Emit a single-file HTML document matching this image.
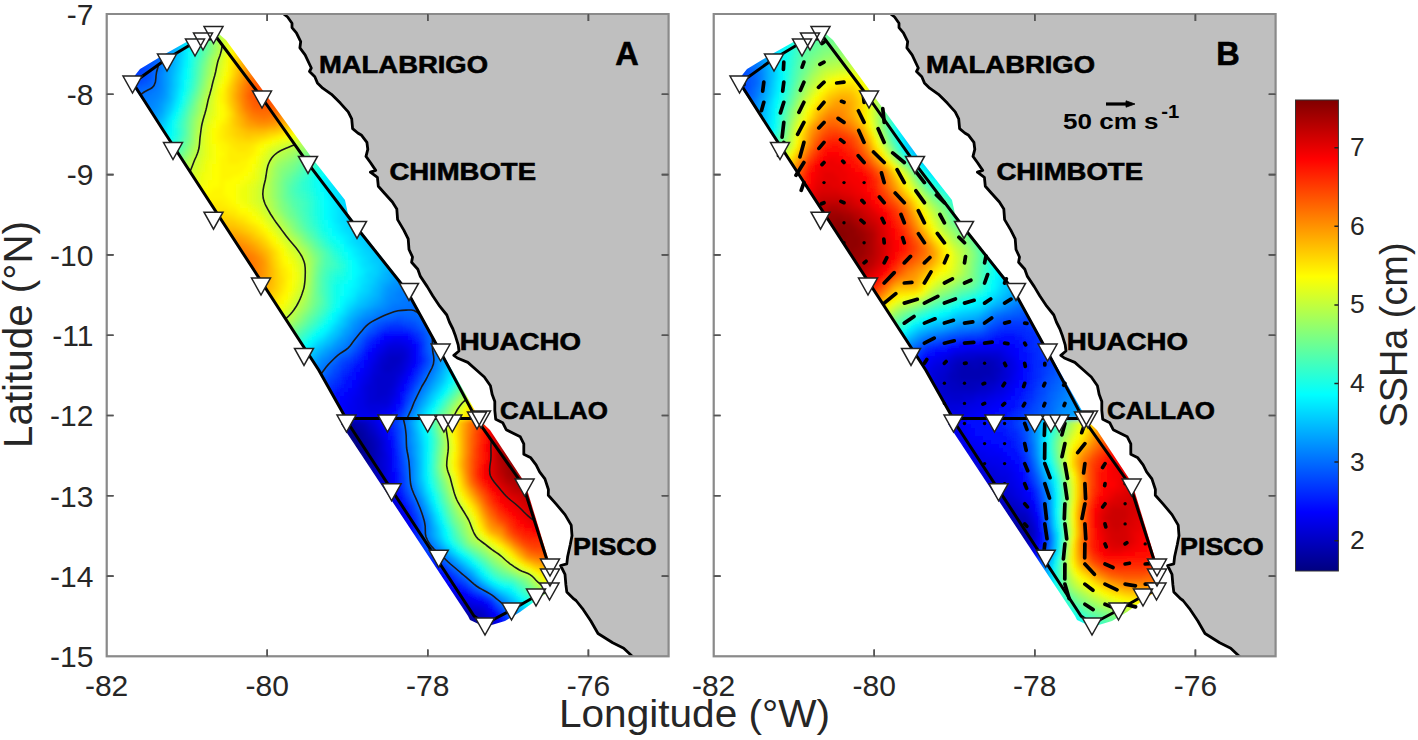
<!DOCTYPE html><html><head><meta charset="utf-8"><style>html,body{margin:0;padding:0;background:#fff;overflow:hidden}svg{display:block}</style></head><body>
<svg width="1418" height="740" viewBox="0 0 1418 740">
<rect width="1418" height="740" fill="#fff"/>
<defs><filter id="blur" x="-5%" y="-5%" width="110%" height="110%"><feGaussianBlur stdDeviation="2.2"/></filter><clipPath id="axclip"><rect x="106.6" y="14.0" width="562.1" height="642.4"/></clipPath></defs>
<g clip-path="url(#axclip)"><polygon points="282.3,13.0 287.6,17.0 292.0,23.2 292.0,27.6 296.4,32.8 300.7,41.6 299.9,47.8 305.1,54.8 311.3,68.0 309.5,71.5 314.8,76.8 317.4,82.9 322.7,88.2 331.5,94.3 340.3,103.1 348.2,111.9 351.7,118.9 352.6,128.6 357.8,133.0 361.6,135.3 366.9,142.3 367.8,149.3 366.0,156.4 370.4,162.5 375.7,170.4 370.4,172.2 377.4,177.4 378.3,186.2 384.5,193.2 392.4,202.0 396.8,209.0 397.6,219.6 403.8,230.1 408.2,238.9 409.0,249.5 412.5,257.0 411.6,262.3 417.8,269.3 420.4,276.4 427.4,286.9 432.7,295.7 439.7,306.2 446.8,315.0 449.4,322.0 452.9,329.0 455.5,336.1 458.2,344.9 459.0,351.0 453.8,355.4 457.3,358.0 467.8,362.4 476.4,370.0 484.3,377.0 490.4,385.8 492.2,394.6 494.8,401.6 494.8,410.4 495.7,419.2 502.7,422.7 506.2,429.7 513.2,433.2 520.3,436.8 523.8,443.8 523.8,454.3 530.8,457.8 536.1,464.9 539.6,471.9 544.9,478.9 548.4,489.5 548.3,495.3 556.2,504.1 565.0,514.6 571.2,525.1 572.0,535.7 570.3,544.5 567.6,556.8 566.8,563.8 560.6,565.5 565.0,574.3 565.9,584.9 566.8,591.9 573.8,598.9 576.0,600.5 583.3,609.7 590.7,620.7 598.0,633.5 612.7,642.7 623.7,648.2 633.0,657.0 668.7,657.0 668.7,13.0" fill="#bfbfbf"/>
<clipPath id="dclip"><polygon points="128.0,84.0 140.0,69.0 165.0,54.0 190.0,40.0 203.0,36.0 219.0,34.0 226.0,40.0 264.0,92.0 312.0,158.0 345.0,200.0 348.0,214.0 357.0,226.0 407.0,289.0 440.0,349.0 478.0,416.0 478.0,418.4 346.0,418.4 318.7,370.0 163.0,130.0 133.0,86.0"/><polygon points="346.0,418.4 478.0,418.4 490.0,430.0 525.0,483.0 548.0,558.0 552.0,566.0 551.0,590.0 538.0,599.0 520.0,612.0 505.0,621.0 485.0,627.0 470.0,620.0 468.0,616.0 341.0,424.0"/></clipPath>
<g clip-path="url(#dclip)"><g filter="url(#blur)"><path fill="#000080" d="M336 420h8v4h-8zM336 424h8v4h-8zM340 428h8v4h-8zM344 432h4v4h-4zM344 436h8v4h-8zM348 440h8v4h-8zM352 444h4v4h-4zM352 448h8v4h-8zM356 452h4v4h-4z"/>
<path fill="#000088" d="M344 424h4v4h-4zM348 432h4v4h-4zM352 436h4v4h-4zM356 444h4v4h-4zM360 452h4v4h-4zM360 456h4v4h-4zM360 460h4v4h-4zM464 620h4v4h-4zM472 624h4v4h-4z"/>
<path fill="#000091" d="M344 420h4v4h-4zM348 424h4v4h-4zM348 428h4v4h-4zM352 432h4v4h-4zM356 436h4v4h-4zM356 440h4v4h-4zM360 444h4v4h-4zM360 448h4v4h-4zM364 460h4v4h-4zM364 464h4v4h-4zM468 620h4v4h-4zM480 628h4v4h-4z"/>
<path fill="#000099" d="M348 420h4v4h-4zM352 428h4v4h-4zM356 432h4v4h-4zM360 440h4v4h-4zM364 448h4v4h-4zM364 452h4v4h-4zM364 456h4v4h-4zM368 472h4v4h-4zM464 616h4v4h-4zM472 620h4v4h-4zM476 624h4v4h-4z"/>
<path fill="#0000a2" d="M352 424h4v4h-4zM356 428h4v4h-4zM360 432h4v4h-4zM360 436h4v4h-4zM364 440h4v4h-4zM364 444h4v4h-4zM368 456h4v4h-4zM368 460h4v4h-4zM368 464h4v4h-4zM368 468h4v4h-4zM372 480h4v4h-4zM460 612h4v4h-4zM468 616h4v4h-4zM476 620h4v4h-4zM480 624h4v4h-4zM484 628h4v4h-4z"/>
<path fill="#0000aa" d="M352 420h4v4h-4zM356 424h4v4h-4zM360 428h4v4h-4zM364 432h4v4h-4zM364 436h4v4h-4zM368 440h4v4h-4zM368 444h4v4h-4zM368 448h4v4h-4zM368 452h4v4h-4zM372 472h4v4h-4zM372 476h4v4h-4zM376 484h4v4h-4zM380 492h4v4h-4zM464 612h4v4h-4zM472 616h4v4h-4zM480 620h4v4h-4zM484 624h4v4h-4z"/>
<path fill="#0000b3" d="M356 420h4v4h-4zM360 424h4v4h-4zM364 428h4v4h-4zM368 436h4v4h-4zM372 444h4v4h-4zM372 448h4v4h-4zM372 452h4v4h-4zM372 456h4v4h-4zM372 460h4v4h-4zM372 464h4v4h-4zM372 468h4v4h-4zM376 480h4v4h-4zM380 488h4v4h-4zM384 496h4v4h-4zM388 504h4v4h-4zM460 608h4v4h-4zM468 612h4v4h-4zM476 616h4v4h-4zM488 628h4v4h-4z"/>
<path fill="#0000bb" d="M360 420h4v4h-4zM364 424h4v4h-4zM368 432h4v4h-4zM372 436h4v4h-4zM372 440h4v4h-4zM376 472h4v4h-4zM376 476h4v4h-4zM380 484h4v4h-4zM392 508h4v4h-4zM396 516h4v4h-4zM452 600h4v4h-4zM456 604h4v4h-4zM464 608h4v4h-4zM472 612h4v4h-4zM480 616h4v4h-4zM484 620h4v4h-4zM488 624h4v4h-4z"/>
<path fill="#0000c3" d="M388 356h12v4h-12zM388 360h12v4h-12zM384 364h12v4h-12zM384 368h8v4h-8zM364 420h4v4h-4zM368 428h4v4h-4zM372 432h4v4h-4zM376 440h4v4h-4zM376 444h4v4h-4zM376 448h4v4h-4zM376 452h4v4h-4zM376 456h4v4h-4zM376 460h4v4h-4zM376 464h4v4h-4zM376 468h4v4h-4zM380 480h4v4h-4zM384 492h4v4h-4zM388 500h4v4h-4zM460 604h4v4h-4zM468 608h4v4h-4zM476 612h8v4h-8zM484 616h4v4h-4z"/>
<path fill="#0000cc" d="M388 352h16v4h-16zM384 356h4v4h-4zM400 356h4v4h-4zM380 360h8v4h-8zM400 360h4v4h-4zM380 364h4v4h-4zM396 364h4v4h-4zM380 368h4v4h-4zM392 368h8v4h-8zM380 372h16v4h-16zM376 376h20v4h-20zM376 380h16v4h-16zM376 384h16v4h-16zM376 388h12v4h-12zM376 392h12v4h-12zM376 396h4v4h-4zM368 424h4v4h-4zM372 428h4v4h-4zM376 436h4v4h-4zM380 452h4v4h-4zM380 468h4v4h-4zM380 472h4v4h-4zM380 476h4v4h-4zM384 484h4v4h-4zM384 488h4v4h-4zM388 496h4v4h-4zM392 504h4v4h-4zM396 512h4v4h-4zM400 520h4v4h-4zM452 596h4v4h-4zM456 600h4v4h-4zM464 604h4v4h-4zM472 608h8v4h-8zM488 620h4v4h-4zM492 624h4v4h-4z"/>
<path fill="#0000d4" d="M388 348h16v4h-16zM384 352h4v4h-4zM404 352h4v4h-4zM380 356h4v4h-4zM404 356h4v4h-4zM376 364h4v4h-4zM400 364h4v4h-4zM376 368h4v4h-4zM400 368h4v4h-4zM372 372h8v4h-8zM396 372h4v4h-4zM372 376h4v4h-4zM372 380h4v4h-4zM392 380h4v4h-4zM368 384h8v4h-8zM392 384h4v4h-4zM368 388h8v4h-8zM388 388h4v4h-4zM368 392h8v4h-8zM388 392h4v4h-4zM368 396h8v4h-8zM380 396h8v4h-8zM368 400h20v4h-20zM368 420h4v4h-4zM372 424h4v4h-4zM376 432h4v4h-4zM380 440h4v4h-4zM380 444h4v4h-4zM380 448h4v4h-4zM380 456h4v4h-4zM380 460h4v4h-4zM380 464h4v4h-4zM384 480h4v4h-4zM388 492h4v4h-4zM392 500h4v4h-4zM396 508h4v4h-4zM400 516h4v4h-4zM404 528h4v4h-4zM448 592h4v4h-4zM460 600h4v4h-4zM468 604h4v4h-4zM480 608h4v4h-4zM484 612h4v4h-4zM488 616h4v4h-4z"/>
<path fill="#0000dd" d="M388 344h16v4h-16zM384 348h4v4h-4zM404 348h4v4h-4zM380 352h4v4h-4zM376 356h4v4h-4zM376 360h4v4h-4zM404 360h4v4h-4zM372 364h4v4h-4zM404 364h4v4h-4zM372 368h4v4h-4zM400 372h4v4h-4zM368 376h4v4h-4zM396 376h4v4h-4zM368 380h4v4h-4zM396 380h4v4h-4zM364 384h4v4h-4zM364 388h4v4h-4zM392 388h4v4h-4zM364 392h4v4h-4zM392 392h4v4h-4zM364 396h4v4h-4zM388 396h4v4h-4zM364 400h4v4h-4zM388 400h4v4h-4zM364 404h24v4h-24zM368 408h12v4h-12zM372 420h4v4h-4zM376 428h4v4h-4zM380 436h4v4h-4zM384 452h4v4h-4zM384 456h4v4h-4zM384 460h4v4h-4zM384 464h4v4h-4zM384 468h4v4h-4zM384 472h4v4h-4zM384 476h4v4h-4zM388 488h4v4h-4zM392 496h4v4h-4zM396 504h4v4h-4zM400 512h4v4h-4zM404 524h4v4h-4zM444 588h4v4h-4zM456 596h4v4h-4zM464 600h4v4h-4zM472 604h8v4h-8zM484 608h4v4h-4zM492 620h4v4h-4z"/>
<path fill="#0000e6" d="M392 340h8v4h-8zM384 344h4v4h-4zM404 344h4v4h-4zM380 348h4v4h-4zM408 348h4v4h-4zM376 352h4v4h-4zM408 352h4v4h-4zM408 356h4v4h-4zM372 360h4v4h-4zM408 360h4v4h-4zM368 368h4v4h-4zM404 368h4v4h-4zM368 372h4v4h-4zM364 376h4v4h-4zM400 376h4v4h-4zM364 380h4v4h-4zM360 384h4v4h-4zM396 384h4v4h-4zM360 388h4v4h-4zM360 392h4v4h-4zM356 396h8v4h-8zM392 396h4v4h-4zM356 400h8v4h-8zM356 404h8v4h-8zM388 404h4v4h-4zM356 408h12v4h-12zM380 408h8v4h-8zM360 412h20v4h-20zM376 424h4v4h-4zM380 432h4v4h-4zM384 440h4v4h-4zM384 444h4v4h-4zM384 448h4v4h-4zM388 480h4v4h-4zM388 484h4v4h-4zM404 520h4v4h-4zM408 532h4v4h-4zM436 576h4v4h-4zM448 588h4v4h-4zM452 592h4v4h-4zM460 596h4v4h-4zM468 600h4v4h-4zM480 604h4v4h-4zM488 612h4v4h-4zM496 624h4v4h-4z"/>
<path fill="#0000ee" d="M384 340h8v4h-8zM400 340h8v4h-8zM380 344h4v4h-4zM408 344h4v4h-4zM376 348h4v4h-4zM372 352h4v4h-4zM372 356h4v4h-4zM368 360h4v4h-4zM368 364h4v4h-4zM408 364h4v4h-4zM364 368h4v4h-4zM364 372h4v4h-4zM404 372h4v4h-4zM360 376h4v4h-4zM360 380h4v4h-4zM400 380h4v4h-4zM356 388h4v4h-4zM396 388h4v4h-4zM356 392h4v4h-4zM396 392h4v4h-4zM352 396h4v4h-4zM352 400h4v4h-4zM392 400h4v4h-4zM348 404h8v4h-8zM348 408h8v4h-8zM348 412h12v4h-12zM380 412h4v4h-4zM352 416h24v4h-24zM376 420h4v4h-4zM380 428h4v4h-4zM384 436h4v4h-4zM388 456h4v4h-4zM388 460h4v4h-4zM388 464h4v4h-4zM388 468h4v4h-4zM388 472h4v4h-4zM388 476h4v4h-4zM392 492h4v4h-4zM396 500h4v4h-4zM400 508h4v4h-4zM404 516h4v4h-4zM408 528h4v4h-4zM436 572h4v4h-4zM440 580h4v4h-4zM444 584h4v4h-4zM456 592h4v4h-4zM464 596h4v4h-4zM472 600h4v4h-4zM484 604h4v4h-4zM492 616h4v4h-4zM496 620h4v4h-4z"/>
<path fill="#0000f6" d="M392 336h12v4h-12zM408 340h4v4h-4zM376 344h4v4h-4zM412 348h4v4h-4zM412 352h4v4h-4zM368 356h4v4h-4zM412 356h4v4h-4zM412 360h4v4h-4zM364 364h4v4h-4zM408 368h4v4h-4zM360 372h4v4h-4zM404 376h4v4h-4zM356 380h4v4h-4zM356 384h4v4h-4zM400 384h4v4h-4zM352 388h4v4h-4zM348 392h8v4h-8zM348 396h4v4h-4zM396 396h4v4h-4zM344 400h8v4h-8zM344 404h4v4h-4zM392 404h4v4h-4zM340 408h8v4h-8zM388 408h4v4h-4zM340 412h8v4h-8zM384 412h4v4h-4zM344 416h8v4h-8zM376 416h8v4h-8zM380 424h4v4h-4zM384 432h4v4h-4zM388 444h4v4h-4zM388 448h4v4h-4zM388 452h4v4h-4zM392 484h4v4h-4zM392 488h4v4h-4zM396 496h4v4h-4zM400 504h4v4h-4zM404 512h4v4h-4zM408 524h4v4h-4zM412 540h4v4h-4zM428 564h4v4h-4zM432 568h4v4h-4zM440 576h4v4h-4zM444 580h4v4h-4zM448 584h4v4h-4zM452 588h4v4h-4zM460 592h4v4h-4zM468 596h4v4h-4zM476 600h8v4h-8zM488 608h4v4h-4zM492 612h4v4h-4zM500 624h4v4h-4z"/>
<path fill="#0000ff" d="M384 336h8v4h-8zM404 336h4v4h-4zM380 340h4v4h-4zM412 344h4v4h-4zM372 348h4v4h-4zM368 352h4v4h-4zM364 360h4v4h-4zM412 364h4v4h-4zM360 368h4v4h-4zM356 372h4v4h-4zM408 372h4v4h-4zM356 376h4v4h-4zM352 380h4v4h-4zM404 380h4v4h-4zM352 384h4v4h-4zM348 388h4v4h-4zM400 388h4v4h-4zM344 392h4v4h-4zM340 396h8v4h-8zM340 400h4v4h-4zM396 400h4v4h-4zM336 404h8v4h-8zM336 408h4v4h-4zM392 408h4v4h-4zM388 412h4v4h-4zM340 416h4v4h-4zM384 416h4v4h-4zM380 420h4v4h-4zM384 428h4v4h-4zM388 440h4v4h-4zM392 472h4v4h-4zM392 476h4v4h-4zM392 480h4v4h-4zM396 492h4v4h-4zM408 520h4v4h-4zM412 536h4v4h-4zM456 588h4v4h-4zM464 592h4v4h-4zM472 596h4v4h-4zM496 616h4v4h-4z"/>
<path fill="#0009ff" d="M392 332h8v4h-8zM380 336h4v4h-4zM408 336h4v4h-4zM376 340h4v4h-4zM412 340h4v4h-4zM372 344h4v4h-4zM368 348h4v4h-4zM364 356h4v4h-4zM416 356h4v4h-4zM360 364h4v4h-4zM356 368h4v4h-4zM412 368h4v4h-4zM352 372h4v4h-4zM352 376h4v4h-4zM408 376h4v4h-4zM348 380h4v4h-4zM348 384h4v4h-4zM404 384h4v4h-4zM344 388h4v4h-4zM340 392h4v4h-4zM400 392h4v4h-4zM336 396h4v4h-4zM332 400h8v4h-8zM332 404h4v4h-4zM396 404h4v4h-4zM384 424h4v4h-4zM388 432h4v4h-4zM388 436h4v4h-4zM392 452h4v4h-4zM392 456h4v4h-4zM392 460h4v4h-4zM392 464h4v4h-4zM392 468h4v4h-4zM396 488h4v4h-4zM400 500h4v4h-4zM404 508h4v4h-4zM408 516h4v4h-4zM412 532h4v4h-4zM420 552h4v4h-4zM424 556h4v4h-4zM428 560h4v4h-4zM432 564h4v4h-4zM436 568h4v4h-4zM440 572h4v4h-4zM444 576h4v4h-4zM448 580h4v4h-4zM452 584h4v4h-4zM484 600h4v4h-4zM488 604h4v4h-4zM492 608h4v4h-4zM500 620h4v4h-4z"/>
<path fill="#0011ff" d="M384 332h8v4h-8zM400 332h8v4h-8zM416 344h4v4h-4zM416 348h4v4h-4zM364 352h4v4h-4zM416 352h4v4h-4zM360 360h4v4h-4zM416 360h4v4h-4zM356 364h4v4h-4zM352 368h4v4h-4zM348 376h4v4h-4zM344 380h4v4h-4zM344 384h4v4h-4zM340 388h4v4h-4zM404 388h4v4h-4zM336 392h4v4h-4zM332 396h4v4h-4zM400 396h4v4h-4zM400 400h4v4h-4zM396 408h4v4h-4zM392 412h4v4h-4zM388 416h4v4h-4zM384 420h4v4h-4zM388 428h4v4h-4zM392 448h4v4h-4zM396 484h4v4h-4zM400 496h4v4h-4zM404 504h4v4h-4zM408 512h4v4h-4zM412 528h4v4h-4zM416 544h4v4h-4zM456 584h4v4h-4zM460 588h4v4h-4zM468 592h4v4h-4zM476 596h4v4h-4zM496 612h4v4h-4z"/>
<path fill="#0019ff" d="M380 332h4v4h-4zM408 332h4v4h-4zM376 336h4v4h-4zM412 336h4v4h-4zM372 340h4v4h-4zM416 340h4v4h-4zM368 344h4v4h-4zM364 348h4v4h-4zM360 356h4v4h-4zM356 360h4v4h-4zM352 364h4v4h-4zM416 364h4v4h-4zM348 372h4v4h-4zM412 372h4v4h-4zM344 376h4v4h-4zM408 380h4v4h-4zM340 384h4v4h-4zM336 388h4v4h-4zM332 392h4v4h-4zM328 396h4v4h-4zM400 404h4v4h-4zM388 424h4v4h-4zM392 436h4v4h-4zM392 440h4v4h-4zM392 444h4v4h-4zM396 468h4v4h-4zM396 472h4v4h-4zM396 476h4v4h-4zM396 480h4v4h-4zM400 492h4v4h-4zM412 520h4v4h-4zM412 524h4v4h-4zM416 540h4v4h-4zM420 548h4v4h-4zM436 564h4v4h-4zM440 568h4v4h-4zM444 572h4v4h-4zM448 576h4v4h-4zM452 580h4v4h-4zM464 588h4v4h-4zM480 596h4v4h-4zM488 600h4v4h-4zM500 616h4v4h-4z"/>
<path fill="#0022ff" d="M388 328h16v4h-16zM372 336h4v4h-4zM368 340h4v4h-4zM360 352h4v4h-4zM420 356h4v4h-4zM420 360h4v4h-4zM348 368h4v4h-4zM416 368h4v4h-4zM344 372h4v4h-4zM340 376h4v4h-4zM412 376h4v4h-4zM340 380h4v4h-4zM336 384h4v4h-4zM408 384h4v4h-4zM332 388h4v4h-4zM328 392h4v4h-4zM404 392h4v4h-4zM396 412h4v4h-4zM392 416h4v4h-4zM388 420h4v4h-4zM392 432h4v4h-4zM396 456h4v4h-4zM396 460h4v4h-4zM396 464h4v4h-4zM400 488h4v4h-4zM404 500h4v4h-4zM408 508h4v4h-4zM416 536h4v4h-4zM424 552h4v4h-4zM428 556h4v4h-4zM432 560h4v4h-4zM460 584h4v4h-4zM472 592h4v4h-4zM492 604h4v4h-4zM504 620h4v4h-4z"/>
<path fill="#002aff" d="M384 328h4v4h-4zM404 328h8v4h-8zM376 332h4v4h-4zM412 332h4v4h-4zM416 336h4v4h-4zM364 344h4v4h-4zM420 344h4v4h-4zM420 348h4v4h-4zM420 352h4v4h-4zM356 356h4v4h-4zM352 360h4v4h-4zM348 364h4v4h-4zM344 368h4v4h-4zM340 372h4v4h-4zM416 372h4v4h-4zM336 380h4v4h-4zM412 380h4v4h-4zM332 384h4v4h-4zM328 388h4v4h-4zM408 388h4v4h-4zM404 396h4v4h-4zM400 408h4v4h-4zM392 424h4v4h-4zM392 428h4v4h-4zM396 448h4v4h-4zM396 452h4v4h-4zM400 484h4v4h-4zM404 496h4v4h-4zM408 504h4v4h-4zM412 516h4v4h-4zM416 532h4v4h-4zM420 544h4v4h-4zM448 572h4v4h-4zM452 576h4v4h-4zM456 580h4v4h-4zM468 588h4v4h-4zM484 596h4v4h-4zM496 608h4v4h-4zM500 612h4v4h-4z"/>
<path fill="#0033ff" d="M136 64h4v4h-4zM132 68h4v4h-4zM388 324h16v4h-16zM380 328h4v4h-4zM416 332h4v4h-4zM368 336h4v4h-4zM364 340h4v4h-4zM420 340h4v4h-4zM360 348h4v4h-4zM356 352h4v4h-4zM352 356h4v4h-4zM348 360h4v4h-4zM344 364h4v4h-4zM420 364h4v4h-4zM340 368h4v4h-4zM336 376h4v4h-4zM332 380h4v4h-4zM328 384h4v4h-4zM324 388h4v4h-4zM404 400h4v4h-4zM396 416h4v4h-4zM392 420h4v4h-4zM396 440h4v4h-4zM396 444h4v4h-4zM400 472h4v4h-4zM400 476h4v4h-4zM400 480h4v4h-4zM412 512h4v4h-4zM416 524h4v4h-4zM416 528h4v4h-4zM432 556h4v4h-4zM436 560h4v4h-4zM440 564h4v4h-4zM444 568h4v4h-4zM464 584h4v4h-4zM476 592h4v4h-4zM504 616h4v4h-4zM508 620h4v4h-4z"/>
<path fill="#003cff" d="M140 64h4v4h-4zM136 68h8v4h-8zM132 72h8v4h-8zM128 76h8v4h-8zM124 80h4v4h-4zM120 84h4v4h-4zM384 324h4v4h-4zM404 324h4v4h-4zM376 328h4v4h-4zM412 328h4v4h-4zM372 332h4v4h-4zM420 336h4v4h-4zM360 344h4v4h-4zM424 356h4v4h-4zM344 360h4v4h-4zM424 360h4v4h-4zM340 364h4v4h-4zM420 368h4v4h-4zM336 372h4v4h-4zM332 376h4v4h-4zM416 376h4v4h-4zM328 380h4v4h-4zM412 384h4v4h-4zM408 392h4v4h-4zM404 404h4v4h-4zM400 412h4v4h-4zM396 428h4v4h-4zM396 432h4v4h-4zM396 436h4v4h-4zM400 460h4v4h-4zM400 464h4v4h-4zM400 468h4v4h-4zM404 492h4v4h-4zM408 500h4v4h-4zM412 508h4v4h-4zM416 520h4v4h-4zM420 540h4v4h-4zM424 548h4v4h-4zM428 552h4v4h-4zM460 580h4v4h-4zM492 600h4v4h-4z"/>
<path fill="#0044ff" d="M144 60h4v4h-4zM144 64h4v4h-4zM140 72h4v4h-4zM136 76h8v4h-8zM128 80h4v4h-4zM124 84h4v4h-4zM392 320h8v4h-8zM380 324h4v4h-4zM408 324h8v4h-8zM416 328h4v4h-4zM368 332h4v4h-4zM420 332h4v4h-4zM364 336h4v4h-4zM356 348h4v4h-4zM352 352h4v4h-4zM424 352h4v4h-4zM348 356h4v4h-4zM340 360h4v4h-4zM424 364h4v4h-4zM336 368h4v4h-4zM332 372h4v4h-4zM420 372h4v4h-4zM328 376h4v4h-4zM416 380h4v4h-4zM324 384h4v4h-4zM412 388h4v4h-4zM408 396h4v4h-4zM396 424h4v4h-4zM400 452h4v4h-4zM400 456h4v4h-4zM404 488h4v4h-4zM408 496h4v4h-4zM412 504h4v4h-4zM416 516h4v4h-4zM444 564h4v4h-4zM448 568h4v4h-4zM452 572h4v4h-4zM456 576h4v4h-4zM472 588h4v4h-4zM480 592h4v4h-4zM488 596h4v4h-4zM496 604h4v4h-4zM500 608h4v4h-4zM504 612h4v4h-4z"/>
<path fill="#004dff" d="M148 56h4v4h-4zM148 60h4v4h-4zM144 68h4v4h-4zM144 72h4v4h-4zM144 76h4v4h-4zM132 80h12v4h-12zM128 84h4v4h-4zM384 320h8v4h-8zM400 320h12v4h-12zM376 324h4v4h-4zM372 328h4v4h-4zM360 340h4v4h-4zM424 340h4v4h-4zM356 344h4v4h-4zM424 344h4v4h-4zM424 348h4v4h-4zM344 356h4v4h-4zM336 364h4v4h-4zM332 368h4v4h-4zM324 380h4v4h-4zM408 400h4v4h-4zM404 408h4v4h-4zM400 416h4v4h-4zM396 420h4v4h-4zM400 444h4v4h-4zM400 448h4v4h-4zM404 476h4v4h-4zM404 480h4v4h-4zM404 484h4v4h-4zM416 512h4v4h-4zM420 532h4v4h-4zM420 536h4v4h-4zM424 544h4v4h-4zM432 552h4v4h-4zM436 556h4v4h-4zM440 560h4v4h-4zM464 580h4v4h-4zM468 584h4v4h-4zM508 616h4v4h-4z"/>
<path fill="#0055ff" d="M152 56h4v4h-4zM148 64h4v4h-4zM148 68h4v4h-4zM148 72h4v4h-4zM148 76h4v4h-4zM144 80h4v4h-4zM132 84h8v4h-8zM396 316h8v4h-8zM380 320h4v4h-4zM412 320h4v4h-4zM372 324h4v4h-4zM416 324h4v4h-4zM368 328h4v4h-4zM420 328h4v4h-4zM364 332h4v4h-4zM424 332h4v4h-4zM360 336h4v4h-4zM424 336h4v4h-4zM352 348h4v4h-4zM348 352h4v4h-4zM340 356h4v4h-4zM428 356h4v4h-4zM336 360h4v4h-4zM428 360h4v4h-4zM332 364h4v4h-4zM424 368h4v4h-4zM328 372h4v4h-4zM324 376h4v4h-4zM420 376h4v4h-4zM320 380h4v4h-4zM416 384h4v4h-4zM412 392h4v4h-4zM404 412h4v4h-4zM400 428h4v4h-4zM400 432h4v4h-4zM400 436h4v4h-4zM400 440h4v4h-4zM404 464h4v4h-4zM404 468h4v4h-4zM404 472h4v4h-4zM408 492h4v4h-4zM412 500h4v4h-4zM420 524h4v4h-4zM420 528h4v4h-4zM428 548h4v4h-4zM456 572h4v4h-4zM460 576h4v4h-4zM476 588h4v4h-4zM484 592h4v4h-4z"/>
<path fill="#005eff" d="M152 60h4v4h-4zM152 64h4v4h-4zM148 80h4v4h-4zM140 84h8v4h-8zM132 88h4v4h-4zM388 316h8v4h-8zM404 316h8v4h-8zM376 320h4v4h-4zM416 320h4v4h-4zM420 324h4v4h-4zM424 328h4v4h-4zM356 340h4v4h-4zM352 344h4v4h-4zM428 348h4v4h-4zM344 352h4v4h-4zM428 352h4v4h-4zM428 364h4v4h-4zM328 368h4v4h-4zM324 372h4v4h-4zM424 372h4v4h-4zM320 376h4v4h-4zM420 380h4v4h-4zM412 396h4v4h-4zM408 404h4v4h-4zM400 420h4v4h-4zM400 424h4v4h-4zM404 456h4v4h-4zM404 460h4v4h-4zM408 488h4v4h-4zM416 508h4v4h-4zM420 520h4v4h-4zM424 540h4v4h-4zM440 556h4v4h-4zM444 560h4v4h-4zM448 564h4v4h-4zM452 568h4v4h-4zM472 584h4v4h-4zM492 596h4v4h-4zM496 600h4v4h-4zM500 604h4v4h-4zM504 608h4v4h-4zM508 612h4v4h-4z"/>
<path fill="#0066ff" d="M156 52h4v4h-4zM156 56h4v4h-4zM156 60h4v4h-4zM152 68h4v4h-4zM152 72h4v4h-4zM152 76h4v4h-4zM152 80h4v4h-4zM148 84h4v4h-4zM136 88h8v4h-8zM132 92h8v4h-8zM392 312h24v4h-24zM380 316h8v4h-8zM412 316h8v4h-8zM372 320h4v4h-4zM420 320h4v4h-4zM368 324h4v4h-4zM424 324h4v4h-4zM364 328h4v4h-4zM360 332h4v4h-4zM428 332h4v4h-4zM356 336h4v4h-4zM428 336h4v4h-4zM428 340h4v4h-4zM428 344h4v4h-4zM348 348h4v4h-4zM340 352h4v4h-4zM336 356h4v4h-4zM332 360h4v4h-4zM328 364h4v4h-4zM324 368h4v4h-4zM428 368h4v4h-4zM416 388h4v4h-4zM408 408h4v4h-4zM404 416h4v4h-4zM404 448h4v4h-4zM404 452h4v4h-4zM408 484h4v4h-4zM412 496h4v4h-4zM416 504h4v4h-4zM420 516h4v4h-4zM428 544h4v4h-4zM432 548h4v4h-4zM436 552h4v4h-4zM464 576h4v4h-4zM468 580h4v4h-4zM480 588h4v4h-4zM512 616h4v4h-4z"/>
<path fill="#006eff" d="M156 64h4v4h-4zM156 68h4v4h-4zM152 84h4v4h-4zM144 88h8v4h-8zM140 92h4v4h-4zM136 96h4v4h-4zM408 304h12v4h-12zM396 308h24v4h-24zM384 312h8v4h-8zM416 312h8v4h-8zM376 316h4v4h-4zM420 316h8v4h-8zM368 320h4v4h-4zM424 320h4v4h-4zM364 324h4v4h-4zM428 324h4v4h-4zM360 328h4v4h-4zM428 328h4v4h-4zM356 332h4v4h-4zM352 340h4v4h-4zM348 344h4v4h-4zM344 348h4v4h-4zM336 352h4v4h-4zM432 352h4v4h-4zM332 356h4v4h-4zM432 356h4v4h-4zM328 360h4v4h-4zM432 360h4v4h-4zM324 364h4v4h-4zM320 372h4v4h-4zM424 376h4v4h-4zM420 384h4v4h-4zM416 392h4v4h-4zM412 400h4v4h-4zM404 428h4v4h-4zM404 432h4v4h-4zM404 436h4v4h-4zM404 440h4v4h-4zM404 444h4v4h-4zM408 468h4v4h-4zM408 472h4v4h-4zM408 476h4v4h-4zM408 480h4v4h-4zM412 492h4v4h-4zM416 500h4v4h-4zM420 512h4v4h-4zM424 536h4v4h-4zM456 568h4v4h-4zM460 572h4v4h-4zM488 592h4v4h-4z"/>
<path fill="#0077ff" d="M160 52h4v4h-4zM160 56h4v4h-4zM160 60h4v4h-4zM156 72h4v4h-4zM156 76h4v4h-4zM156 80h4v4h-4zM156 84h4v4h-4zM152 88h4v4h-4zM144 92h8v4h-8zM140 96h8v4h-8zM140 100h4v4h-4zM140 104h4v4h-4zM408 292h8v4h-8zM404 296h12v4h-12zM400 300h20v4h-20zM392 304h16v4h-16zM388 308h8v4h-8zM420 308h4v4h-4zM380 312h4v4h-4zM372 316h4v4h-4zM364 320h4v4h-4zM428 320h4v4h-4zM360 324h4v4h-4zM432 328h4v4h-4zM432 332h4v4h-4zM352 336h4v4h-4zM432 336h4v4h-4zM348 340h4v4h-4zM432 340h4v4h-4zM344 344h4v4h-4zM432 344h4v4h-4zM340 348h4v4h-4zM432 348h4v4h-4zM432 364h4v4h-4zM320 368h4v4h-4zM316 372h4v4h-4zM428 372h4v4h-4zM424 380h4v4h-4zM420 388h4v4h-4zM416 396h4v4h-4zM412 404h4v4h-4zM408 412h4v4h-4zM404 420h4v4h-4zM404 424h4v4h-4zM408 456h4v4h-4zM408 460h4v4h-4zM408 464h4v4h-4zM412 488h4v4h-4zM420 508h4v4h-4zM424 520h4v4h-4zM424 524h4v4h-4zM424 528h4v4h-4zM424 532h4v4h-4zM428 540h4v4h-4zM440 552h4v4h-4zM444 556h4v4h-4zM448 560h4v4h-4zM452 564h4v4h-4zM476 584h4v4h-4zM500 600h4v4h-4zM504 604h4v4h-4zM508 608h4v4h-4zM512 612h4v4h-4zM516 616h4v4h-4z"/>
<path fill="#0080ff" d="M160 64h4v4h-4zM160 68h4v4h-4zM156 88h4v4h-4zM152 92h8v4h-8zM148 96h8v4h-8zM144 100h8v4h-8zM144 104h4v4h-4zM144 108h4v4h-4zM408 284h4v4h-4zM400 288h12v4h-12zM396 292h12v4h-12zM396 296h8v4h-8zM392 300h8v4h-8zM388 304h4v4h-4zM384 308h4v4h-4zM376 312h4v4h-4zM368 316h4v4h-4zM360 320h4v4h-4zM356 328h4v4h-4zM352 332h4v4h-4zM348 336h4v4h-4zM336 348h4v4h-4zM332 352h4v4h-4zM328 356h4v4h-4zM324 360h4v4h-4zM320 364h4v4h-4zM316 368h4v4h-4zM432 368h4v4h-4zM428 376h4v4h-4zM424 384h4v4h-4zM412 408h4v4h-4zM408 416h4v4h-4zM408 444h4v4h-4zM408 448h4v4h-4zM408 452h4v4h-4zM412 484h4v4h-4zM416 496h4v4h-4zM424 516h4v4h-4zM432 544h4v4h-4zM436 548h4v4h-4zM464 572h4v4h-4zM468 576h4v4h-4zM472 580h4v4h-4zM484 588h4v4h-4zM496 596h4v4h-4z"/>
<path fill="#0088ff" d="M164 48h4v4h-4zM164 52h4v4h-4zM164 56h4v4h-4zM164 60h4v4h-4zM160 72h4v4h-4zM160 76h4v4h-4zM160 80h4v4h-4zM160 84h4v4h-4zM160 88h4v4h-4zM156 96h4v4h-4zM152 100h4v4h-4zM148 104h8v4h-8zM148 108h4v4h-4zM404 280h4v4h-4zM400 284h8v4h-8zM396 288h4v4h-4zM392 292h4v4h-4zM388 296h8v4h-8zM388 300h4v4h-4zM384 304h4v4h-4zM376 308h8v4h-8zM372 312h4v4h-4zM364 316h4v4h-4zM356 324h4v4h-4zM352 328h4v4h-4zM436 336h4v4h-4zM344 340h4v4h-4zM436 340h4v4h-4zM340 344h4v4h-4zM436 344h4v4h-4zM436 348h4v4h-4zM328 352h4v4h-4zM436 352h4v4h-4zM324 356h4v4h-4zM436 356h4v4h-4zM320 360h4v4h-4zM436 360h4v4h-4zM316 364h4v4h-4zM432 372h4v4h-4zM428 380h4v4h-4zM420 392h4v4h-4zM416 400h4v4h-4zM408 428h4v4h-4zM408 432h4v4h-4zM408 436h4v4h-4zM408 440h4v4h-4zM412 480h4v4h-4zM416 492h4v4h-4zM420 504h4v4h-4zM428 536h4v4h-4zM456 564h4v4h-4zM460 568h4v4h-4zM492 592h4v4h-4z"/>
<path fill="#0090ff" d="M164 64h4v4h-4zM164 68h4v4h-4zM160 92h4v4h-4zM160 96h4v4h-4zM156 100h4v4h-4zM156 104h4v4h-4zM152 108h4v4h-4zM148 112h8v4h-8zM148 116h4v4h-4zM400 276h4v4h-4zM396 280h8v4h-8zM392 284h8v4h-8zM388 288h8v4h-8zM388 292h4v4h-4zM384 296h4v4h-4zM384 300h4v4h-4zM380 304h4v4h-4zM372 308h4v4h-4zM364 312h8v4h-8zM360 316h4v4h-4zM356 320h4v4h-4zM352 324h4v4h-4zM348 332h4v4h-4zM344 336h4v4h-4zM340 340h4v4h-4zM336 344h4v4h-4zM332 348h4v4h-4zM320 356h4v4h-4zM436 364h4v4h-4zM312 368h4v4h-4zM436 368h4v4h-4zM432 376h4v4h-4zM424 388h4v4h-4zM420 396h4v4h-4zM416 404h4v4h-4zM412 412h4v4h-4zM408 424h4v4h-4zM412 456h4v4h-4zM412 460h4v4h-4zM412 464h4v4h-4zM412 468h4v4h-4zM412 472h4v4h-4zM412 476h4v4h-4zM420 500h4v4h-4zM424 512h4v4h-4zM428 524h4v4h-4zM428 528h4v4h-4zM428 532h4v4h-4zM432 540h4v4h-4zM440 548h4v4h-4zM444 552h4v4h-4zM448 556h4v4h-4zM452 560h4v4h-4zM480 584h4v4h-4zM504 600h4v4h-4zM508 604h4v4h-4zM512 608h4v4h-4zM516 612h4v4h-4z"/>
<path fill="#0099ff" d="M168 48h4v4h-4zM168 52h4v4h-4zM168 56h4v4h-4zM164 72h4v4h-4zM164 76h4v4h-4zM164 80h4v4h-4zM164 84h4v4h-4zM164 88h4v4h-4zM164 92h4v4h-4zM160 100h4v4h-4zM156 108h4v4h-4zM152 116h4v4h-4zM396 272h4v4h-4zM396 276h4v4h-4zM392 280h4v4h-4zM388 284h4v4h-4zM384 288h4v4h-4zM384 292h4v4h-4zM380 300h4v4h-4zM376 304h4v4h-4zM368 308h4v4h-4zM356 316h4v4h-4zM352 320h4v4h-4zM348 328h4v4h-4zM344 332h4v4h-4zM340 336h4v4h-4zM336 340h4v4h-4zM332 344h4v4h-4zM440 344h4v4h-4zM328 348h4v4h-4zM440 348h4v4h-4zM324 352h4v4h-4zM440 352h4v4h-4zM440 356h4v4h-4zM316 360h4v4h-4zM312 364h4v4h-4zM428 384h4v4h-4zM424 392h4v4h-4zM412 416h4v4h-4zM408 420h4v4h-4zM412 444h4v4h-4zM412 448h4v4h-4zM412 452h4v4h-4zM416 488h4v4h-4zM420 496h4v4h-4zM424 508h4v4h-4zM428 520h4v4h-4zM436 544h4v4h-4zM468 572h4v4h-4zM472 576h4v4h-4zM476 580h4v4h-4zM488 588h4v4h-4zM500 596h4v4h-4z"/>
<path fill="#00a1ff" d="M168 60h4v4h-4zM168 64h4v4h-4zM164 96h4v4h-4zM160 104h4v4h-4zM160 108h4v4h-4zM156 112h4v4h-4zM152 120h4v4h-4zM392 272h4v4h-4zM392 276h4v4h-4zM388 280h4v4h-4zM384 284h4v4h-4zM380 292h4v4h-4zM380 296h4v4h-4zM376 300h4v4h-4zM372 304h4v4h-4zM364 308h4v4h-4zM360 312h4v4h-4zM348 324h4v4h-4zM344 328h4v4h-4zM324 348h4v4h-4zM320 352h4v4h-4zM316 356h4v4h-4zM312 360h4v4h-4zM440 360h4v4h-4zM440 364h4v4h-4zM436 372h4v4h-4zM432 380h4v4h-4zM428 388h4v4h-4zM420 400h4v4h-4zM416 408h4v4h-4zM412 432h4v4h-4zM412 436h4v4h-4zM412 440h4v4h-4zM416 484h4v4h-4zM424 504h4v4h-4zM428 516h4v4h-4zM432 536h4v4h-4zM460 564h4v4h-4zM464 568h4v4h-4zM496 592h4v4h-4z"/>
<path fill="#00aaff" d="M172 44h4v4h-4zM172 48h4v4h-4zM172 52h4v4h-4zM168 68h4v4h-4zM168 72h4v4h-4zM168 76h4v4h-4zM168 80h4v4h-4zM168 84h4v4h-4zM164 100h4v4h-4zM160 112h4v4h-4zM156 116h4v4h-4zM392 264h4v4h-4zM392 268h4v4h-4zM388 272h4v4h-4zM388 276h4v4h-4zM384 280h4v4h-4zM380 284h4v4h-4zM380 288h4v4h-4zM376 296h4v4h-4zM372 300h4v4h-4zM368 304h4v4h-4zM360 308h4v4h-4zM356 312h4v4h-4zM352 316h4v4h-4zM348 320h4v4h-4zM340 332h4v4h-4zM336 336h4v4h-4zM332 340h4v4h-4zM328 344h4v4h-4zM440 368h4v4h-4zM436 376h4v4h-4zM432 384h4v4h-4zM424 396h4v4h-4zM420 404h4v4h-4zM416 412h4v4h-4zM412 424h4v4h-4zM412 428h4v4h-4zM416 460h4v4h-4zM416 464h4v4h-4zM416 468h4v4h-4zM416 472h4v4h-4zM416 476h4v4h-4zM416 480h4v4h-4zM420 492h4v4h-4zM428 512h4v4h-4zM432 528h4v4h-4zM432 532h4v4h-4zM436 540h4v4h-4zM452 556h4v4h-4zM456 560h4v4h-4zM484 584h4v4h-4zM504 596h4v4h-4zM508 600h4v4h-4zM512 604h4v4h-4zM516 608h4v4h-4zM520 612h4v4h-4z"/>
<path fill="#00b2ff" d="M172 56h4v4h-4zM172 60h4v4h-4zM172 64h4v4h-4zM168 88h4v4h-4zM168 92h4v4h-4zM168 96h4v4h-4zM164 104h4v4h-4zM160 116h4v4h-4zM156 120h4v4h-4zM388 260h4v4h-4zM388 264h4v4h-4zM388 268h4v4h-4zM384 272h4v4h-4zM384 276h4v4h-4zM380 280h4v4h-4zM376 288h4v4h-4zM376 292h4v4h-4zM372 296h4v4h-4zM368 300h4v4h-4zM364 304h4v4h-4zM356 308h4v4h-4zM352 312h4v4h-4zM348 316h4v4h-4zM344 324h4v4h-4zM340 328h4v4h-4zM324 344h4v4h-4zM320 348h4v4h-4zM316 352h4v4h-4zM444 352h4v4h-4zM312 356h4v4h-4zM444 356h4v4h-4zM308 360h4v4h-4zM444 360h4v4h-4zM440 372h4v4h-4zM436 380h4v4h-4zM428 392h4v4h-4zM424 400h4v4h-4zM412 420h4v4h-4zM416 440h4v4h-4zM416 444h4v4h-4zM416 448h4v4h-4zM416 452h4v4h-4zM416 456h4v4h-4zM420 488h4v4h-4zM424 500h4v4h-4zM432 524h4v4h-4zM440 544h4v4h-4zM444 548h4v4h-4zM448 552h4v4h-4zM468 568h4v4h-4zM472 572h4v4h-4zM476 576h4v4h-4zM480 580h4v4h-4zM492 588h4v4h-4z"/>
<path fill="#00bbff" d="M176 40h4v4h-4zM176 44h4v4h-4zM176 48h4v4h-4zM172 68h4v4h-4zM172 72h4v4h-4zM168 100h4v4h-4zM164 108h4v4h-4zM156 124h4v4h-4zM380 252h4v4h-4zM384 256h4v4h-4zM384 260h4v4h-4zM384 264h4v4h-4zM384 268h4v4h-4zM380 272h4v4h-4zM380 276h4v4h-4zM376 280h4v4h-4zM376 284h4v4h-4zM372 288h4v4h-4zM372 292h4v4h-4zM368 296h4v4h-4zM364 300h4v4h-4zM360 304h4v4h-4zM344 320h4v4h-4zM336 332h4v4h-4zM332 336h4v4h-4zM328 340h4v4h-4zM316 348h4v4h-4zM312 352h4v4h-4zM444 364h4v4h-4zM440 376h4v4h-4zM432 388h4v4h-4zM420 408h4v4h-4zM416 416h4v4h-4zM416 432h4v4h-4zM416 436h4v4h-4zM420 484h4v4h-4zM424 496h4v4h-4zM428 508h4v4h-4zM432 520h4v4h-4zM436 536h4v4h-4zM464 564h4v4h-4zM500 592h4v4h-4zM512 600h4v4h-4zM516 604h4v4h-4zM520 608h4v4h-4z"/>
<path fill="#00c3ff" d="M176 52h4v4h-4zM176 56h4v4h-4zM176 60h4v4h-4zM172 76h4v4h-4zM172 80h4v4h-4zM172 84h4v4h-4zM172 88h4v4h-4zM168 104h4v4h-4zM164 112h4v4h-4zM160 120h4v4h-4zM156 128h4v4h-4zM360 224h4v4h-4zM364 232h4v4h-4zM368 236h4v4h-4zM368 240h8v4h-8zM372 244h8v4h-8zM372 248h8v4h-8zM376 252h4v4h-4zM376 256h8v4h-8zM380 260h4v4h-4zM380 264h4v4h-4zM380 268h4v4h-4zM376 276h4v4h-4zM372 284h4v4h-4zM368 292h4v4h-4zM364 296h4v4h-4zM360 300h4v4h-4zM356 304h4v4h-4zM352 308h4v4h-4zM348 312h4v4h-4zM344 316h4v4h-4zM340 324h4v4h-4zM336 328h4v4h-4zM332 332h4v4h-4zM328 336h4v4h-4zM324 340h4v4h-4zM320 344h4v4h-4zM308 356h4v4h-4zM448 356h4v4h-4zM444 368h4v4h-4zM440 380h4v4h-4zM436 384h4v4h-4zM428 396h4v4h-4zM424 404h4v4h-4zM420 412h4v4h-4zM416 428h4v4h-4zM420 480h4v4h-4zM428 504h4v4h-4zM432 516h4v4h-4zM436 528h4v4h-4zM436 532h4v4h-4zM440 540h4v4h-4zM456 556h4v4h-4zM460 560h4v4h-4zM488 584h4v4h-4zM508 596h4v4h-4z"/>
<path fill="#00ccff" d="M176 64h4v4h-4zM176 68h4v4h-4zM172 92h4v4h-4zM172 96h4v4h-4zM168 108h4v4h-4zM164 116h4v4h-4zM160 124h4v4h-4zM348 200h4v4h-4zM348 204h4v4h-4zM348 208h4v4h-4zM348 212h4v4h-4zM352 216h4v4h-4zM352 220h8v4h-8zM352 224h8v4h-8zM356 228h8v4h-8zM356 232h8v4h-8zM360 236h8v4h-8zM364 240h4v4h-4zM364 244h8v4h-8zM368 248h4v4h-4zM372 252h4v4h-4zM372 256h4v4h-4zM372 260h8v4h-8zM376 264h4v4h-4zM376 268h4v4h-4zM376 272h4v4h-4zM372 276h4v4h-4zM372 280h4v4h-4zM368 284h4v4h-4zM368 288h4v4h-4zM364 292h4v4h-4zM360 296h4v4h-4zM356 300h4v4h-4zM352 304h4v4h-4zM348 308h4v4h-4zM340 320h4v4h-4zM336 324h4v4h-4zM316 344h4v4h-4zM312 348h4v4h-4zM308 352h4v4h-4zM448 360h4v4h-4zM444 372h4v4h-4zM436 388h4v4h-4zM432 392h4v4h-4zM428 400h4v4h-4zM416 420h4v4h-4zM416 424h4v4h-4zM420 444h4v4h-4zM420 448h4v4h-4zM420 452h4v4h-4zM420 456h4v4h-4zM420 460h4v4h-4zM420 464h4v4h-4zM420 468h4v4h-4zM420 472h4v4h-4zM420 476h4v4h-4zM424 492h4v4h-4zM432 512h4v4h-4zM436 524h4v4h-4zM444 544h4v4h-4zM448 548h4v4h-4zM452 552h4v4h-4zM472 568h4v4h-4zM484 580h4v4h-4zM496 588h4v4h-4zM504 592h4v4h-4z"/>
<path fill="#00d4ff" d="M180 40h4v4h-4zM180 44h4v4h-4zM180 48h4v4h-4zM180 52h4v4h-4zM176 72h4v4h-4zM176 76h4v4h-4zM176 80h4v4h-4zM176 84h4v4h-4zM172 100h4v4h-4zM168 112h4v4h-4zM164 120h4v4h-4zM160 128h4v4h-4zM344 192h4v4h-4zM344 196h4v4h-4zM344 200h4v4h-4zM344 204h4v4h-4zM344 208h4v4h-4zM344 212h4v4h-4zM344 216h8v4h-8zM348 220h4v4h-4zM348 224h4v4h-4zM352 228h4v4h-4zM352 232h4v4h-4zM356 236h4v4h-4zM356 240h8v4h-8zM360 244h4v4h-4zM364 248h4v4h-4zM364 252h8v4h-8zM368 256h4v4h-4zM368 260h4v4h-4zM372 264h4v4h-4zM372 268h4v4h-4zM368 272h8v4h-8zM368 276h4v4h-4zM368 280h4v4h-4zM364 284h4v4h-4zM364 288h4v4h-4zM360 292h4v4h-4zM356 296h4v4h-4zM344 312h4v4h-4zM340 316h4v4h-4zM332 328h4v4h-4zM328 332h4v4h-4zM324 336h4v4h-4zM320 340h4v4h-4zM304 356h4v4h-4zM448 364h4v4h-4zM448 368h4v4h-4zM444 376h4v4h-4zM440 384h4v4h-4zM432 396h4v4h-4zM424 408h4v4h-4zM420 416h4v4h-4zM420 436h4v4h-4zM420 440h4v4h-4zM424 488h4v4h-4zM428 500h4v4h-4zM440 536h4v4h-4zM464 560h4v4h-4zM468 564h4v4h-4zM476 572h4v4h-4zM480 576h4v4h-4zM512 596h4v4h-4zM516 600h4v4h-4zM520 604h4v4h-4zM524 608h4v4h-4z"/>
<path fill="#00ddff" d="M180 56h4v4h-4zM180 60h4v4h-4zM180 64h4v4h-4zM176 88h4v4h-4zM176 92h4v4h-4zM172 104h4v4h-4zM164 124h4v4h-4zM160 132h4v4h-4zM340 188h4v4h-4zM340 192h4v4h-4zM340 196h4v4h-4zM340 200h4v4h-4zM340 204h4v4h-4zM340 208h4v4h-4zM340 212h4v4h-4zM340 216h4v4h-4zM340 220h8v4h-8zM344 224h4v4h-4zM344 228h8v4h-8zM348 232h4v4h-4zM352 236h4v4h-4zM352 240h4v4h-4zM356 244h4v4h-4zM360 248h4v4h-4zM360 252h4v4h-4zM364 256h4v4h-4zM364 260h4v4h-4zM364 264h8v4h-8zM368 268h4v4h-4zM364 272h4v4h-4zM364 276h4v4h-4zM364 280h4v4h-4zM360 284h4v4h-4zM360 288h4v4h-4zM356 292h4v4h-4zM352 300h4v4h-4zM348 304h4v4h-4zM344 308h4v4h-4zM336 320h4v4h-4zM332 324h4v4h-4zM316 340h4v4h-4zM312 344h4v4h-4zM308 348h4v4h-4zM304 352h4v4h-4zM448 372h4v4h-4zM444 380h4v4h-4zM436 392h4v4h-4zM428 404h4v4h-4zM424 412h4v4h-4zM420 432h4v4h-4zM424 484h4v4h-4zM428 496h4v4h-4zM432 508h4v4h-4zM436 520h4v4h-4zM440 532h4v4h-4zM460 556h4v4h-4zM492 584h4v4h-4zM500 588h4v4h-4zM508 592h4v4h-4z"/>
<path fill="#00e5ff" d="M184 36h4v4h-4zM184 40h4v4h-4zM184 44h4v4h-4zM180 68h4v4h-4zM180 72h4v4h-4zM176 96h4v4h-4zM172 108h4v4h-4zM168 116h4v4h-4zM164 128h4v4h-4zM332 184h8v4h-8zM332 188h8v4h-8zM332 192h8v4h-8zM332 196h8v4h-8zM336 200h4v4h-4zM336 204h4v4h-4zM336 208h4v4h-4zM336 212h4v4h-4zM336 216h4v4h-4zM336 220h4v4h-4zM340 224h4v4h-4zM340 228h4v4h-4zM344 232h4v4h-4zM348 236h4v4h-4zM348 240h4v4h-4zM352 244h4v4h-4zM356 248h4v4h-4zM356 252h4v4h-4zM360 256h4v4h-4zM360 260h4v4h-4zM360 264h4v4h-4zM364 268h4v4h-4zM360 276h4v4h-4zM360 280h4v4h-4zM356 288h4v4h-4zM352 296h4v4h-4zM348 300h4v4h-4zM344 304h4v4h-4zM340 312h4v4h-4zM336 316h4v4h-4zM328 328h4v4h-4zM324 332h4v4h-4zM320 336h4v4h-4zM452 364h4v4h-4zM440 388h4v4h-4zM432 400h4v4h-4zM420 424h4v4h-4zM420 428h4v4h-4zM424 480h4v4h-4zM428 492h4v4h-4zM432 504h4v4h-4zM436 516h4v4h-4zM440 528h4v4h-4zM444 540h4v4h-4zM448 544h4v4h-4zM452 548h4v4h-4zM456 552h4v4h-4zM476 568h4v4h-4zM488 580h4v4h-4zM504 588h4v4h-4z"/>
<path fill="#00eeff" d="M184 48h4v4h-4zM184 52h4v4h-4zM184 56h4v4h-4zM180 76h4v4h-4zM180 80h4v4h-4zM180 84h4v4h-4zM176 100h4v4h-4zM168 120h4v4h-4zM164 132h4v4h-4zM328 180h8v4h-8zM328 184h4v4h-4zM328 188h4v4h-4zM328 192h4v4h-4zM328 196h4v4h-4zM332 200h4v4h-4zM332 204h4v4h-4zM332 208h4v4h-4zM332 212h4v4h-4zM332 216h4v4h-4zM332 220h4v4h-4zM336 224h4v4h-4zM336 228h4v4h-4zM340 232h4v4h-4zM344 236h4v4h-4zM344 240h4v4h-4zM348 244h4v4h-4zM352 248h4v4h-4zM352 252h4v4h-4zM356 256h4v4h-4zM356 260h4v4h-4zM360 268h4v4h-4zM360 272h4v4h-4zM356 276h4v4h-4zM356 280h4v4h-4zM356 284h4v4h-4zM352 288h4v4h-4zM352 292h4v4h-4zM348 296h4v4h-4zM344 300h4v4h-4zM340 308h4v4h-4zM336 312h4v4h-4zM332 320h4v4h-4zM328 324h4v4h-4zM316 336h4v4h-4zM312 340h4v4h-4zM308 344h4v4h-4zM304 348h4v4h-4zM452 368h4v4h-4zM448 376h4v4h-4zM444 384h4v4h-4zM436 396h4v4h-4zM428 408h4v4h-4zM424 416h4v4h-4zM420 420h4v4h-4zM424 440h4v4h-4zM424 444h4v4h-4zM424 448h4v4h-4zM424 452h4v4h-4zM424 456h4v4h-4zM424 460h4v4h-4zM424 464h4v4h-4zM424 468h4v4h-4zM424 472h4v4h-4zM424 476h4v4h-4zM436 512h4v4h-4zM440 524h4v4h-4zM468 560h4v4h-4zM472 564h4v4h-4zM480 572h4v4h-4zM484 576h4v4h-4zM496 584h4v4h-4zM512 592h4v4h-4zM516 596h4v4h-4zM520 600h4v4h-4zM524 604h4v4h-4zM528 608h4v4h-4z"/>
<path fill="#00f6ff" d="M188 36h4v4h-4zM184 60h4v4h-4zM184 64h4v4h-4zM180 88h4v4h-4zM176 104h4v4h-4zM172 112h4v4h-4zM168 124h4v4h-4zM168 128h4v4h-4zM164 136h4v4h-4zM328 172h4v4h-4zM324 176h8v4h-8zM320 180h8v4h-8zM324 184h4v4h-4zM324 188h4v4h-4zM324 192h4v4h-4zM328 200h4v4h-4zM328 204h4v4h-4zM328 208h4v4h-4zM328 212h4v4h-4zM328 216h4v4h-4zM332 224h4v4h-4zM332 228h4v4h-4zM336 232h4v4h-4zM340 236h4v4h-4zM344 244h4v4h-4zM348 248h4v4h-4zM352 256h4v4h-4zM356 264h4v4h-4zM356 268h4v4h-4zM356 272h4v4h-4zM352 280h4v4h-4zM352 284h4v4h-4zM348 288h4v4h-4zM348 292h4v4h-4zM344 296h4v4h-4zM340 304h4v4h-4zM332 316h4v4h-4zM324 328h4v4h-4zM320 332h4v4h-4zM452 372h4v4h-4zM448 380h4v4h-4zM440 392h4v4h-4zM432 404h4v4h-4zM424 432h4v4h-4zM424 436h4v4h-4zM428 488h4v4h-4zM432 500h4v4h-4zM440 520h4v4h-4zM444 536h4v4h-4zM464 556h4v4h-4zM508 588h4v4h-4z"/>
<path fill="#00ffff" d="M188 40h4v4h-4zM188 44h4v4h-4zM188 48h4v4h-4zM184 68h4v4h-4zM184 72h4v4h-4zM184 76h4v4h-4zM180 92h4v4h-4zM180 96h4v4h-4zM176 108h4v4h-4zM172 116h4v4h-4zM168 132h4v4h-4zM168 136h4v4h-4zM164 140h4v4h-4zM324 172h4v4h-4zM320 176h4v4h-4zM320 184h4v4h-4zM320 188h4v4h-4zM324 196h4v4h-4zM324 200h4v4h-4zM324 204h4v4h-4zM324 208h4v4h-4zM324 212h4v4h-4zM324 216h4v4h-4zM328 220h4v4h-4zM328 224h4v4h-4zM332 232h4v4h-4zM336 236h4v4h-4zM340 240h4v4h-4zM344 248h4v4h-4zM348 252h4v4h-4zM348 256h4v4h-4zM352 260h4v4h-4zM352 264h4v4h-4zM352 268h4v4h-4zM352 272h4v4h-4zM352 276h4v4h-4zM348 280h4v4h-4zM344 284h8v4h-8zM344 288h4v4h-4zM344 292h4v4h-4zM340 296h4v4h-4zM340 300h4v4h-4zM336 308h4v4h-4zM332 312h4v4h-4zM328 320h4v4h-4zM324 324h4v4h-4zM320 328h4v4h-4zM316 332h4v4h-4zM312 336h4v4h-4zM308 340h4v4h-4zM304 344h4v4h-4zM300 348h4v4h-4zM444 388h4v4h-4zM428 412h4v4h-4zM424 428h4v4h-4zM428 484h4v4h-4zM432 496h4v4h-4zM436 508h4v4h-4zM444 528h4v4h-4zM444 532h4v4h-4zM448 540h4v4h-4zM460 552h4v4h-4zM492 580h4v4h-4zM500 584h4v4h-4zM528 604h4v4h-4z"/>
<path fill="#09fff6" d="M188 52h4v4h-4zM188 56h4v4h-4zM184 80h4v4h-4zM184 84h4v4h-4zM180 100h4v4h-4zM172 120h4v4h-4zM172 124h4v4h-4zM324 168h4v4h-4zM320 172h4v4h-4zM316 176h4v4h-4zM316 180h4v4h-4zM316 184h4v4h-4zM316 188h4v4h-4zM320 192h4v4h-4zM320 196h4v4h-4zM320 200h4v4h-4zM320 204h4v4h-4zM324 220h4v4h-4zM324 224h4v4h-4zM328 228h4v4h-4zM328 232h4v4h-4zM332 236h4v4h-4zM336 240h4v4h-4zM340 244h4v4h-4zM344 252h4v4h-4zM348 260h4v4h-4zM348 264h4v4h-4zM348 268h4v4h-4zM348 272h4v4h-4zM348 276h4v4h-4zM344 280h4v4h-4zM340 284h4v4h-4zM340 288h4v4h-4zM340 292h4v4h-4zM336 300h4v4h-4zM336 304h4v4h-4zM328 316h4v4h-4zM452 376h4v4h-4zM448 384h4v4h-4zM436 400h4v4h-4zM432 408h4v4h-4zM424 424h4v4h-4zM428 480h4v4h-4zM432 492h4v4h-4zM436 504h4v4h-4zM440 516h4v4h-4zM452 544h4v4h-4zM456 548h4v4h-4zM472 560h4v4h-4zM476 564h4v4h-4zM480 568h4v4h-4zM484 572h4v4h-4zM488 576h4v4h-4zM504 584h4v4h-4zM512 588h4v4h-4zM516 592h4v4h-4zM520 596h4v4h-4zM524 600h4v4h-4z"/>
<path fill="#11ffee" d="M192 36h4v4h-4zM192 40h4v4h-4zM188 60h4v4h-4zM188 64h4v4h-4zM184 88h4v4h-4zM176 112h4v4h-4zM172 128h4v4h-4zM172 132h4v4h-4zM168 140h4v4h-4zM320 168h4v4h-4zM316 172h4v4h-4zM312 176h4v4h-4zM312 180h4v4h-4zM312 184h4v4h-4zM316 192h4v4h-4zM316 196h4v4h-4zM320 208h4v4h-4zM320 212h4v4h-4zM320 216h4v4h-4zM320 220h4v4h-4zM324 228h4v4h-4zM328 236h4v4h-4zM332 240h4v4h-4zM336 244h4v4h-4zM340 248h4v4h-4zM340 252h4v4h-4zM344 256h4v4h-4zM344 272h4v4h-4zM344 276h4v4h-4zM340 280h4v4h-4zM336 284h4v4h-4zM336 288h4v4h-4zM336 292h4v4h-4zM336 296h4v4h-4zM332 304h4v4h-4zM332 308h4v4h-4zM328 312h4v4h-4zM324 320h4v4h-4zM320 324h4v4h-4zM316 328h4v4h-4zM312 332h4v4h-4zM308 336h4v4h-4zM304 340h4v4h-4zM300 344h4v4h-4zM456 372h4v4h-4zM452 380h4v4h-4zM444 392h4v4h-4zM440 396h4v4h-4zM428 416h4v4h-4zM424 420h4v4h-4zM428 436h4v4h-4zM428 440h4v4h-4zM428 444h4v4h-4zM428 448h4v4h-4zM428 452h4v4h-4zM428 456h4v4h-4zM428 460h4v4h-4zM428 472h4v4h-4zM428 476h4v4h-4zM440 512h4v4h-4zM444 524h4v4h-4zM448 536h4v4h-4zM468 556h4v4h-4zM496 580h4v4h-4zM508 584h4v4h-4z"/>
<path fill="#19ffe6" d="M192 44h4v4h-4zM192 48h4v4h-4zM192 52h4v4h-4zM188 68h4v4h-4zM188 72h4v4h-4zM188 76h4v4h-4zM184 92h4v4h-4zM180 104h4v4h-4zM176 116h4v4h-4zM172 136h4v4h-4zM168 144h4v4h-4zM316 168h4v4h-4zM312 172h4v4h-4zM312 188h4v4h-4zM312 192h4v4h-4zM316 200h4v4h-4zM316 204h4v4h-4zM316 208h4v4h-4zM316 212h4v4h-4zM316 216h4v4h-4zM320 224h4v4h-4zM320 228h4v4h-4zM324 232h4v4h-4zM328 240h4v4h-4zM332 244h4v4h-4zM336 248h4v4h-4zM340 256h4v4h-4zM344 260h4v4h-4zM344 264h4v4h-4zM344 268h4v4h-4zM336 276h8v4h-8zM336 280h4v4h-4zM332 284h4v4h-4zM332 288h4v4h-4zM332 292h4v4h-4zM332 296h4v4h-4zM332 300h4v4h-4zM324 316h4v4h-4zM448 388h4v4h-4zM436 404h4v4h-4zM432 412h4v4h-4zM428 432h4v4h-4zM428 464h4v4h-4zM428 468h4v4h-4zM432 488h4v4h-4zM436 500h4v4h-4zM448 532h4v4h-4zM464 552h4v4h-4zM524 596h4v4h-4zM528 600h4v4h-4zM532 604h4v4h-4z"/>
<path fill="#22ffdd" d="M192 56h4v4h-4zM188 80h4v4h-4zM188 84h4v4h-4zM184 96h4v4h-4zM180 108h4v4h-4zM176 120h4v4h-4zM176 128h4v4h-4zM176 132h4v4h-4zM172 140h4v4h-4zM320 164h4v4h-4zM308 176h4v4h-4zM308 180h4v4h-4zM308 184h4v4h-4zM308 188h4v4h-4zM312 196h4v4h-4zM312 200h4v4h-4zM312 204h4v4h-4zM312 208h4v4h-4zM312 212h4v4h-4zM316 220h4v4h-4zM316 224h4v4h-4zM320 232h4v4h-4zM324 236h4v4h-4zM332 248h4v4h-4zM336 252h4v4h-4zM340 260h4v4h-4zM340 268h4v4h-4zM336 272h8v4h-8zM332 276h4v4h-4zM332 280h4v4h-4zM328 308h4v4h-4zM320 320h4v4h-4zM316 324h4v4h-4zM312 328h4v4h-4zM308 332h4v4h-4zM304 336h4v4h-4zM300 340h4v4h-4zM296 344h4v4h-4zM456 376h4v4h-4zM452 384h4v4h-4zM440 400h4v4h-4zM428 428h4v4h-4zM432 484h4v4h-4zM436 496h4v4h-4zM440 508h4v4h-4zM444 520h4v4h-4zM448 528h4v4h-4zM452 540h4v4h-4zM456 544h4v4h-4zM460 548h4v4h-4zM476 560h4v4h-4zM480 564h4v4h-4zM484 568h4v4h-4zM488 572h4v4h-4zM492 576h4v4h-4zM500 580h4v4h-4zM512 584h4v4h-4zM516 588h4v4h-4zM520 592h4v4h-4z"/>
<path fill="#2affd5" d="M196 32h4v4h-4zM196 36h4v4h-4zM196 40h4v4h-4zM196 44h4v4h-4zM192 60h4v4h-4zM192 64h4v4h-4zM188 88h4v4h-4zM184 100h4v4h-4zM180 112h4v4h-4zM176 124h4v4h-4zM176 136h4v4h-4zM172 144h4v4h-4zM316 164h4v4h-4zM312 168h4v4h-4zM308 172h4v4h-4zM304 180h4v4h-4zM304 184h4v4h-4zM304 188h4v4h-4zM308 192h4v4h-4zM308 196h4v4h-4zM312 216h4v4h-4zM312 220h4v4h-4zM316 228h4v4h-4zM320 236h4v4h-4zM324 240h4v4h-4zM328 244h4v4h-4zM332 252h4v4h-4zM336 256h4v4h-4zM336 260h4v4h-4zM340 264h4v4h-4zM336 268h4v4h-4zM332 272h4v4h-4zM328 280h4v4h-4zM328 284h4v4h-4zM328 288h4v4h-4zM328 292h4v4h-4zM328 296h4v4h-4zM328 300h4v4h-4zM328 304h4v4h-4zM324 312h4v4h-4zM320 316h4v4h-4zM444 396h4v4h-4zM436 408h4v4h-4zM432 416h4v4h-4zM428 424h4v4h-4zM432 480h4v4h-4zM436 492h4v4h-4zM440 504h4v4h-4zM444 516h4v4h-4zM472 556h4v4h-4zM504 580h4v4h-4z"/>
<path fill="#33ffcc" d="M196 48h4v4h-4zM196 52h4v4h-4zM192 68h4v4h-4zM192 72h4v4h-4zM192 76h4v4h-4zM188 92h4v4h-4zM184 104h4v4h-4zM180 116h4v4h-4zM176 140h4v4h-4zM312 164h4v4h-4zM308 168h4v4h-4zM304 176h4v4h-4zM300 180h4v4h-4zM300 184h4v4h-4zM300 188h4v4h-4zM304 192h4v4h-4zM304 196h4v4h-4zM308 200h4v4h-4zM308 204h4v4h-4zM308 208h4v4h-4zM308 212h4v4h-4zM308 216h4v4h-4zM312 224h4v4h-4zM316 232h4v4h-4zM324 244h4v4h-4zM328 248h4v4h-4zM332 256h4v4h-4zM336 264h4v4h-4zM332 268h4v4h-4zM328 272h4v4h-4zM328 276h4v4h-4zM324 308h4v4h-4zM316 320h4v4h-4zM312 324h4v4h-4zM308 328h4v4h-4zM304 332h4v4h-4zM300 336h4v4h-4zM296 340h4v4h-4zM456 380h4v4h-4zM448 392h4v4h-4zM440 404h4v4h-4zM428 420h4v4h-4zM432 436h4v4h-4zM432 440h4v4h-4zM432 444h4v4h-4zM432 448h4v4h-4zM432 476h4v4h-4zM448 524h4v4h-4zM452 536h4v4h-4zM468 552h4v4h-4zM496 576h4v4h-4zM508 580h4v4h-4zM520 588h4v4h-4zM524 592h4v4h-4zM528 596h4v4h-4zM532 600h4v4h-4z"/>
<path fill="#3cffc3" d="M200 32h4v4h-4zM200 36h4v4h-4zM196 56h4v4h-4zM192 80h4v4h-4zM192 84h4v4h-4zM188 96h4v4h-4zM184 108h4v4h-4zM180 120h4v4h-4zM180 124h4v4h-4zM180 128h4v4h-4zM180 132h4v4h-4zM176 144h4v4h-4zM172 148h4v4h-4zM316 160h4v4h-4zM304 172h4v4h-4zM300 176h4v4h-4zM296 184h4v4h-4zM296 188h4v4h-4zM296 192h8v4h-8zM300 196h4v4h-4zM304 200h4v4h-4zM304 204h4v4h-4zM304 208h4v4h-4zM304 212h4v4h-4zM308 220h4v4h-4zM308 224h4v4h-4zM312 228h4v4h-4zM316 236h4v4h-4zM320 240h4v4h-4zM328 252h4v4h-4zM332 260h4v4h-4zM332 264h4v4h-4zM328 268h4v4h-4zM324 276h4v4h-4zM324 280h4v4h-4zM324 284h4v4h-4zM324 288h4v4h-4zM324 292h4v4h-4zM324 296h4v4h-4zM324 300h4v4h-4zM324 304h4v4h-4zM320 312h4v4h-4zM316 316h4v4h-4zM452 388h4v4h-4zM436 412h4v4h-4zM432 432h4v4h-4zM432 452h4v4h-4zM432 456h4v4h-4zM432 460h4v4h-4zM432 464h4v4h-4zM432 468h4v4h-4zM432 472h4v4h-4zM436 488h4v4h-4zM440 500h4v4h-4zM444 512h4v4h-4zM452 532h4v4h-4zM456 540h4v4h-4zM460 544h4v4h-4zM464 548h4v4h-4zM480 560h4v4h-4zM484 564h4v4h-4zM488 568h4v4h-4zM492 572h4v4h-4zM512 580h4v4h-4zM516 584h4v4h-4z"/>
<path fill="#44ffbb" d="M200 40h4v4h-4zM200 44h4v4h-4zM196 60h4v4h-4zM196 64h4v4h-4zM192 88h4v4h-4zM188 100h4v4h-4zM184 112h4v4h-4zM180 136h4v4h-4zM172 152h4v4h-4zM312 160h4v4h-4zM308 164h4v4h-4zM304 168h4v4h-4zM300 172h4v4h-4zM296 180h4v4h-4zM292 188h4v4h-4zM296 196h4v4h-4zM300 200h4v4h-4zM300 204h4v4h-4zM300 208h4v4h-4zM304 216h4v4h-4zM304 220h4v4h-4zM308 228h4v4h-4zM312 232h4v4h-4zM320 244h4v4h-4zM324 248h4v4h-4zM328 256h4v4h-4zM328 260h4v4h-4zM328 264h4v4h-4zM324 268h4v4h-4zM324 272h4v4h-4zM320 308h4v4h-4zM312 320h4v4h-4zM308 324h4v4h-4zM304 328h4v4h-4zM300 332h4v4h-4zM296 336h4v4h-4zM456 384h4v4h-4zM444 400h4v4h-4zM432 428h4v4h-4zM436 484h4v4h-4zM440 496h4v4h-4zM444 508h4v4h-4zM448 520h4v4h-4zM452 528h4v4h-4zM476 556h4v4h-4zM500 576h4v4h-4z"/>
<path fill="#4dffb2" d="M200 48h4v4h-4zM200 52h4v4h-4zM196 68h4v4h-4zM196 72h4v4h-4zM184 116h4v4h-4zM180 140h4v4h-4zM176 148h4v4h-4zM308 160h4v4h-4zM304 164h4v4h-4zM296 176h4v4h-4zM292 180h4v4h-4zM292 184h4v4h-4zM292 192h4v4h-4zM292 196h4v4h-4zM296 200h4v4h-4zM296 204h4v4h-4zM300 212h4v4h-4zM300 216h4v4h-4zM304 224h4v4h-4zM312 236h4v4h-4zM316 240h4v4h-4zM324 252h4v4h-4zM324 256h4v4h-4zM324 260h4v4h-4zM324 264h4v4h-4zM320 276h4v4h-4zM320 280h4v4h-4zM320 284h4v4h-4zM320 288h4v4h-4zM320 292h4v4h-4zM320 304h4v4h-4zM316 312h4v4h-4zM312 316h4v4h-4zM460 380h4v4h-4zM452 392h4v4h-4zM448 396h4v4h-4zM440 408h4v4h-4zM436 416h4v4h-4zM432 424h4v4h-4zM436 480h4v4h-4zM440 492h4v4h-4zM444 504h4v4h-4zM448 516h4v4h-4zM456 536h4v4h-4zM472 552h4v4h-4zM496 572h4v4h-4zM504 576h4v4h-4zM520 584h4v4h-4zM524 588h4v4h-4zM528 592h4v4h-4zM532 596h4v4h-4zM536 600h4v4h-4z"/>
<path fill="#55ffaa" d="M204 32h4v4h-4zM204 36h4v4h-4zM204 40h4v4h-4zM200 56h4v4h-4zM196 76h4v4h-4zM196 80h4v4h-4zM192 92h4v4h-4zM188 104h4v4h-4zM184 120h4v4h-4zM184 124h4v4h-4zM184 128h4v4h-4zM184 132h4v4h-4zM180 144h4v4h-4zM312 156h4v4h-4zM300 168h4v4h-4zM296 172h4v4h-4zM292 176h4v4h-4zM288 184h4v4h-4zM288 188h4v4h-4zM288 192h4v4h-4zM292 200h4v4h-4zM292 204h4v4h-4zM296 208h4v4h-4zM296 212h4v4h-4zM300 220h4v4h-4zM304 228h4v4h-4zM308 232h4v4h-4zM316 244h4v4h-4zM320 248h4v4h-4zM320 268h4v4h-4zM320 272h4v4h-4zM320 296h4v4h-4zM320 300h4v4h-4zM316 308h4v4h-4zM308 320h4v4h-4zM304 324h4v4h-4zM300 328h4v4h-4zM296 332h4v4h-4zM292 336h4v4h-4zM456 388h4v4h-4zM444 404h4v4h-4zM432 420h4v4h-4zM436 440h4v4h-4zM436 476h4v4h-4zM452 524h4v4h-4zM456 532h4v4h-4zM460 540h4v4h-4zM468 548h4v4h-4zM484 560h4v4h-4zM488 564h4v4h-4zM492 568h4v4h-4zM508 576h4v4h-4zM516 580h4v4h-4z"/>
<path fill="#5effa1" d="M204 44h4v4h-4zM204 48h4v4h-4zM200 60h4v4h-4zM196 84h4v4h-4zM192 96h4v4h-4zM188 108h4v4h-4zM184 136h4v4h-4zM180 148h4v4h-4zM176 152h4v4h-4zM308 156h4v4h-4zM304 160h4v4h-4zM300 164h4v4h-4zM296 168h4v4h-4zM292 172h4v4h-4zM288 180h4v4h-4zM288 196h4v4h-4zM288 200h4v4h-4zM292 208h4v4h-4zM296 216h4v4h-4zM300 224h4v4h-4zM308 236h4v4h-4zM312 240h4v4h-4zM320 252h4v4h-4zM320 256h4v4h-4zM320 260h4v4h-4zM320 264h4v4h-4zM316 288h4v4h-4zM316 304h4v4h-4zM312 312h4v4h-4zM308 316h4v4h-4zM460 384h4v4h-4zM448 400h4v4h-4zM440 412h4v4h-4zM436 436h4v4h-4zM436 444h4v4h-4zM436 448h4v4h-4zM436 472h4v4h-4zM440 488h4v4h-4zM444 500h4v4h-4zM448 512h4v4h-4zM464 544h4v4h-4zM476 552h4v4h-4zM480 556h4v4h-4zM500 572h4v4h-4zM512 576h4v4h-4zM536 596h4v4h-4z"/>
<path fill="#66ff99" d="M204 52h4v4h-4zM200 64h4v4h-4zM200 68h4v4h-4zM196 88h4v4h-4zM192 100h4v4h-4zM188 112h4v4h-4zM184 140h4v4h-4zM312 152h4v4h-4zM176 156h4v4h-4zM300 160h4v4h-4zM296 164h4v4h-4zM288 176h4v4h-4zM284 180h4v4h-4zM284 184h4v4h-4zM284 188h4v4h-4zM284 192h4v4h-4zM284 196h4v4h-4zM288 204h4v4h-4zM292 212h4v4h-4zM296 220h4v4h-4zM300 228h4v4h-4zM304 232h4v4h-4zM312 244h4v4h-4zM316 248h4v4h-4zM316 272h4v4h-4zM316 276h4v4h-4zM316 280h4v4h-4zM316 284h4v4h-4zM316 292h4v4h-4zM316 296h4v4h-4zM316 300h4v4h-4zM312 308h4v4h-4zM304 320h4v4h-4zM300 324h4v4h-4zM296 328h4v4h-4zM292 332h4v4h-4zM452 396h4v4h-4zM444 408h4v4h-4zM436 432h4v4h-4zM436 452h4v4h-4zM436 456h4v4h-4zM436 460h4v4h-4zM436 468h4v4h-4zM440 484h4v4h-4zM444 496h4v4h-4zM448 508h4v4h-4zM452 520h4v4h-4zM456 528h4v4h-4zM460 536h4v4h-4zM496 568h4v4h-4zM504 572h4v4h-4zM520 580h4v4h-4zM524 584h4v4h-4zM528 588h4v4h-4zM532 592h4v4h-4z"/>
<path fill="#6eff90" d="M208 32h4v4h-4zM208 36h4v4h-4zM208 40h4v4h-4zM204 56h4v4h-4zM200 72h4v4h-4zM200 76h4v4h-4zM196 92h4v4h-4zM192 104h4v4h-4zM188 116h4v4h-4zM188 120h4v4h-4zM184 144h4v4h-4zM180 152h4v4h-4zM308 152h4v4h-4zM304 156h4v4h-4zM292 168h4v4h-4zM288 172h4v4h-4zM284 176h4v4h-4zM284 200h4v4h-4zM288 208h4v4h-4zM288 212h4v4h-4zM292 216h4v4h-4zM296 224h4v4h-4zM304 236h4v4h-4zM308 240h4v4h-4zM316 252h4v4h-4zM316 264h4v4h-4zM316 268h4v4h-4zM312 304h4v4h-4zM308 312h4v4h-4zM304 316h4v4h-4zM460 388h4v4h-4zM456 392h4v4h-4zM440 416h4v4h-4zM436 428h4v4h-4zM436 464h4v4h-4zM440 480h4v4h-4zM444 492h4v4h-4zM448 504h4v4h-4zM452 516h4v4h-4zM456 524h4v4h-4zM472 548h4v4h-4zM484 556h4v4h-4zM488 560h4v4h-4zM492 564h4v4h-4z"/>
<path fill="#77ff88" d="M208 44h4v4h-4zM208 48h4v4h-4zM204 60h4v4h-4zM200 80h4v4h-4zM196 96h4v4h-4zM192 108h4v4h-4zM188 124h4v4h-4zM188 128h4v4h-4zM188 132h4v4h-4zM188 136h4v4h-4zM184 148h4v4h-4zM300 156h4v4h-4zM296 160h4v4h-4zM292 164h4v4h-4zM288 168h4v4h-4zM284 172h4v4h-4zM280 180h4v4h-4zM280 184h4v4h-4zM280 188h4v4h-4zM280 192h4v4h-4zM280 196h4v4h-4zM284 204h4v4h-4zM284 208h4v4h-4zM288 216h4v4h-4zM292 220h4v4h-4zM296 228h4v4h-4zM300 232h4v4h-4zM312 248h4v4h-4zM316 256h4v4h-4zM316 260h4v4h-4zM312 292h4v4h-4zM312 296h4v4h-4zM312 300h4v4h-4zM308 308h4v4h-4zM300 320h4v4h-4zM296 324h4v4h-4zM292 328h4v4h-4zM288 332h4v4h-4zM464 384h4v4h-4zM448 404h4v4h-4zM444 412h4v4h-4zM436 424h4v4h-4zM452 512h4v4h-4zM460 532h4v4h-4zM464 540h4v4h-4zM468 544h4v4h-4zM480 552h4v4h-4zM500 568h4v4h-4zM508 572h4v4h-4zM516 576h4v4h-4zM524 580h4v4h-4zM528 584h4v4h-4zM532 588h4v4h-4zM536 592h4v4h-4zM540 596h4v4h-4z"/>
<path fill="#7fff80" d="M208 52h4v4h-4zM204 64h4v4h-4zM200 84h4v4h-4zM192 112h4v4h-4zM188 140h4v4h-4zM308 148h4v4h-4zM304 152h4v4h-4zM180 156h4v4h-4zM296 156h4v4h-4zM292 160h4v4h-4zM288 164h4v4h-4zM284 168h4v4h-4zM280 172h4v4h-4zM280 176h4v4h-4zM280 200h4v4h-4zM280 204h4v4h-4zM284 212h4v4h-4zM292 224h4v4h-4zM304 240h4v4h-4zM308 244h4v4h-4zM312 252h4v4h-4zM312 276h4v4h-4zM312 280h4v4h-4zM312 284h4v4h-4zM312 288h4v4h-4zM304 312h4v4h-4zM452 400h4v4h-4zM436 420h4v4h-4zM440 440h4v4h-4zM440 444h4v4h-4zM440 476h4v4h-4zM444 488h4v4h-4zM448 500h4v4h-4zM456 520h4v4h-4zM460 528h4v4h-4zM464 536h4v4h-4zM476 548h4v4h-4zM496 564h4v4h-4zM520 576h4v4h-4z"/>
<path fill="#88ff77" d="M212 32h4v4h-4zM212 36h4v4h-4zM212 40h4v4h-4zM204 68h4v4h-4zM204 72h4v4h-4zM200 88h4v4h-4zM196 100h4v4h-4zM192 116h4v4h-4zM188 144h4v4h-4zM184 152h4v4h-4zM300 152h4v4h-4zM180 160h4v4h-4zM288 160h4v4h-4zM284 164h4v4h-4zM280 168h4v4h-4zM276 180h4v4h-4zM276 184h4v4h-4zM276 188h4v4h-4zM276 192h4v4h-4zM276 196h4v4h-4zM280 208h4v4h-4zM284 216h4v4h-4zM288 220h4v4h-4zM292 228h4v4h-4zM296 232h4v4h-4zM300 236h4v4h-4zM308 248h4v4h-4zM312 256h4v4h-4zM312 264h4v4h-4zM312 268h4v4h-4zM312 272h4v4h-4zM308 300h4v4h-4zM308 304h4v4h-4zM300 316h4v4h-4zM296 320h4v4h-4zM292 324h4v4h-4zM288 328h4v4h-4zM464 388h4v4h-4zM460 392h4v4h-4zM456 396h4v4h-4zM448 408h4v4h-4zM444 416h4v4h-4zM440 436h4v4h-4zM440 448h4v4h-4zM440 452h4v4h-4zM440 472h4v4h-4zM444 484h4v4h-4zM448 496h4v4h-4zM452 508h4v4h-4zM456 516h4v4h-4zM460 524h4v4h-4zM472 544h4v4h-4zM484 552h4v4h-4zM488 556h4v4h-4zM492 560h4v4h-4zM504 568h4v4h-4zM512 572h4v4h-4zM544 596h4v4h-4z"/>
<path fill="#91ff6e" d="M212 44h4v4h-4zM212 48h4v4h-4zM208 56h4v4h-4zM204 76h4v4h-4zM200 92h4v4h-4zM196 104h4v4h-4zM196 108h4v4h-4zM192 120h4v4h-4zM192 124h4v4h-4zM192 128h4v4h-4zM188 148h4v4h-4zM304 148h4v4h-4zM296 152h4v4h-4zM184 156h4v4h-4zM292 156h4v4h-4zM284 160h4v4h-4zM280 164h4v4h-4zM276 168h4v4h-4zM276 172h4v4h-4zM276 176h4v4h-4zM276 200h4v4h-4zM276 204h4v4h-4zM280 212h4v4h-4zM288 224h4v4h-4zM300 240h4v4h-4zM304 244h4v4h-4zM312 260h4v4h-4zM308 296h4v4h-4zM304 308h4v4h-4zM300 312h4v4h-4zM440 432h4v4h-4zM440 456h4v4h-4zM440 460h4v4h-4zM440 468h4v4h-4zM444 480h4v4h-4zM452 504h4v4h-4zM460 520h4v4h-4zM464 532h4v4h-4zM468 540h4v4h-4zM480 548h4v4h-4zM500 564h4v4h-4zM524 576h4v4h-4zM528 580h4v4h-4zM532 584h4v4h-4zM536 588h4v4h-4zM540 592h4v4h-4z"/>
<path fill="#99ff66" d="M212 52h4v4h-4zM208 60h4v4h-4zM208 64h4v4h-4zM204 80h4v4h-4zM204 84h4v4h-4zM200 96h4v4h-4zM196 112h4v4h-4zM192 132h4v4h-4zM192 136h4v4h-4zM192 140h4v4h-4zM300 148h4v4h-4zM188 152h4v4h-4zM292 152h4v4h-4zM288 156h4v4h-4zM280 160h4v4h-4zM180 164h4v4h-4zM276 164h4v4h-4zM272 176h4v4h-4zM272 180h4v4h-4zM272 184h4v4h-4zM272 188h4v4h-4zM272 192h4v4h-4zM272 196h4v4h-4zM276 208h4v4h-4zM284 220h4v4h-4zM292 232h4v4h-4zM296 236h4v4h-4zM308 252h4v4h-4zM308 284h4v4h-4zM308 288h4v4h-4zM308 292h4v4h-4zM304 304h4v4h-4zM296 316h4v4h-4zM292 320h4v4h-4zM288 324h4v4h-4zM452 404h4v4h-4zM448 412h4v4h-4zM440 428h4v4h-4zM440 464h4v4h-4zM448 492h4v4h-4zM456 512h4v4h-4zM464 528h4v4h-4zM476 544h4v4h-4zM492 556h4v4h-4zM496 560h4v4h-4zM508 568h4v4h-4zM516 572h4v4h-4z"/>
<path fill="#a2ff5d" d="M216 28h4v4h-4zM216 32h4v4h-4zM216 36h4v4h-4zM208 68h4v4h-4zM208 72h4v4h-4zM204 88h4v4h-4zM200 100h4v4h-4zM196 116h4v4h-4zM192 144h4v4h-4zM304 144h4v4h-4zM296 148h4v4h-4zM288 152h4v4h-4zM284 156h4v4h-4zM184 160h4v4h-4zM276 160h4v4h-4zM272 168h4v4h-4zM272 172h4v4h-4zM272 200h4v4h-4zM272 204h4v4h-4zM276 212h4v4h-4zM280 216h4v4h-4zM284 224h4v4h-4zM288 228h4v4h-4zM300 244h4v4h-4zM304 248h4v4h-4zM308 256h4v4h-4zM308 260h4v4h-4zM308 268h4v4h-4zM308 272h4v4h-4zM308 276h4v4h-4zM308 280h4v4h-4zM304 300h4v4h-4zM300 308h4v4h-4zM296 312h4v4h-4zM464 392h4v4h-4zM460 396h4v4h-4zM456 400h4v4h-4zM440 420h4v4h-4zM440 424h4v4h-4zM444 476h4v4h-4zM448 488h4v4h-4zM452 500h4v4h-4zM456 508h4v4h-4zM460 516h4v4h-4zM464 524h4v4h-4zM468 536h4v4h-4zM472 540h4v4h-4zM484 548h4v4h-4zM488 552h4v4h-4zM504 564h4v4h-4zM528 576h4v4h-4zM544 592h4v4h-4z"/>
<path fill="#aaff55" d="M216 40h4v4h-4zM216 44h4v4h-4zM216 48h4v4h-4zM212 56h4v4h-4zM212 60h4v4h-4zM208 76h4v4h-4zM204 92h4v4h-4zM200 104h4v4h-4zM200 108h4v4h-4zM196 120h4v4h-4zM196 124h4v4h-4zM300 144h4v4h-4zM192 148h4v4h-4zM292 148h4v4h-4zM284 152h4v4h-4zM188 156h4v4h-4zM280 156h4v4h-4zM184 164h4v4h-4zM272 164h4v4h-4zM268 180h4v4h-4zM268 184h4v4h-4zM268 188h4v4h-4zM268 192h4v4h-4zM268 196h4v4h-4zM272 208h4v4h-4zM280 220h4v4h-4zM288 232h4v4h-4zM292 236h4v4h-4zM296 240h4v4h-4zM304 252h4v4h-4zM308 264h4v4h-4zM304 292h4v4h-4zM304 296h4v4h-4zM300 304h4v4h-4zM292 316h4v4h-4zM288 320h4v4h-4zM284 324h4v4h-4zM452 408h4v4h-4zM448 416h4v4h-4zM444 440h4v4h-4zM444 444h4v4h-4zM444 472h4v4h-4zM448 484h4v4h-4zM464 520h4v4h-4zM468 532h4v4h-4zM480 544h4v4h-4zM496 556h4v4h-4zM500 560h4v4h-4zM512 568h4v4h-4zM520 572h4v4h-4zM532 580h4v4h-4zM536 584h4v4h-4zM540 588h4v4h-4z"/>
<path fill="#b3ff4c" d="M216 52h4v4h-4zM212 64h4v4h-4zM208 80h4v4h-4zM204 96h4v4h-4zM200 112h4v4h-4zM196 128h4v4h-4zM196 132h4v4h-4zM296 144h4v4h-4zM288 148h4v4h-4zM192 152h4v4h-4zM280 152h4v4h-4zM276 156h4v4h-4zM188 160h4v4h-4zM272 160h4v4h-4zM184 168h4v4h-4zM268 168h4v4h-4zM268 172h4v4h-4zM268 176h4v4h-4zM268 200h4v4h-4zM268 204h4v4h-4zM272 212h4v4h-4zM276 216h4v4h-4zM280 224h4v4h-4zM284 228h4v4h-4zM296 244h4v4h-4zM300 248h4v4h-4zM304 256h4v4h-4zM304 288h4v4h-4zM300 300h4v4h-4zM296 308h4v4h-4zM292 312h4v4h-4zM284 320h4v4h-4zM456 404h4v4h-4zM444 436h4v4h-4zM444 448h4v4h-4zM444 452h4v4h-4zM452 496h4v4h-4zM456 504h4v4h-4zM460 512h4v4h-4zM468 528h4v4h-4zM472 536h4v4h-4zM476 540h4v4h-4zM492 552h4v4h-4zM508 564h4v4h-4zM524 572h4v4h-4z"/>
<path fill="#bbff44" d="M220 32h4v4h-4zM216 56h4v4h-4zM212 68h4v4h-4zM212 72h4v4h-4zM208 84h4v4h-4zM208 88h4v4h-4zM204 100h4v4h-4zM204 104h4v4h-4zM200 116h4v4h-4zM196 136h4v4h-4zM196 140h4v4h-4zM300 140h4v4h-4zM196 144h4v4h-4zM292 144h4v4h-4zM284 148h4v4h-4zM276 152h4v4h-4zM192 156h4v4h-4zM272 156h4v4h-4zM188 164h4v4h-4zM268 164h4v4h-4zM264 180h4v4h-4zM264 184h4v4h-4zM264 188h4v4h-4zM264 192h4v4h-4zM264 196h4v4h-4zM264 200h4v4h-4zM268 208h4v4h-4zM276 220h4v4h-4zM284 232h4v4h-4zM288 236h4v4h-4zM292 240h4v4h-4zM300 252h4v4h-4zM304 260h4v4h-4zM304 264h4v4h-4zM304 272h4v4h-4zM304 276h4v4h-4zM304 280h4v4h-4zM304 284h4v4h-4zM300 296h4v4h-4zM296 304h4v4h-4zM288 316h4v4h-4zM468 392h4v4h-4zM464 396h4v4h-4zM460 400h4v4h-4zM452 412h4v4h-4zM444 432h4v4h-4zM444 456h4v4h-4zM444 460h4v4h-4zM444 464h4v4h-4zM444 468h4v4h-4zM448 480h4v4h-4zM452 492h4v4h-4zM460 508h4v4h-4zM464 516h4v4h-4zM468 524h4v4h-4zM484 544h4v4h-4zM488 548h4v4h-4zM500 556h4v4h-4zM504 560h4v4h-4zM516 568h4v4h-4zM544 588h4v4h-4zM548 592h4v4h-4z"/>
<path fill="#c3ff3c" d="M220 36h4v4h-4zM220 40h4v4h-4zM220 44h4v4h-4zM220 48h4v4h-4zM216 60h4v4h-4zM212 76h4v4h-4zM208 92h4v4h-4zM204 108h4v4h-4zM200 120h4v4h-4zM200 124h4v4h-4zM288 144h4v4h-4zM196 148h4v4h-4zM280 148h4v4h-4zM196 152h4v4h-4zM272 152h4v4h-4zM192 160h4v4h-4zM268 160h4v4h-4zM188 168h4v4h-4zM188 172h4v4h-4zM264 172h4v4h-4zM264 176h4v4h-4zM260 188h4v4h-4zM260 192h4v4h-4zM260 196h4v4h-4zM264 204h4v4h-4zM268 212h4v4h-4zM272 216h4v4h-4zM276 224h4v4h-4zM280 228h4v4h-4zM292 244h4v4h-4zM296 248h4v4h-4zM300 256h4v4h-4zM304 268h4v4h-4zM300 292h4v4h-4zM296 300h4v4h-4zM292 308h4v4h-4zM288 312h4v4h-4zM284 316h4v4h-4zM444 420h4v4h-4zM444 424h4v4h-4zM444 428h4v4h-4zM448 476h4v4h-4zM456 500h4v4h-4zM468 520h4v4h-4zM472 532h4v4h-4zM476 536h4v4h-4zM480 540h4v4h-4zM496 552h4v4h-4zM532 576h4v4h-4zM536 580h4v4h-4zM540 584h4v4h-4z"/>
<path fill="#ccff33" d="M220 52h4v4h-4zM216 64h4v4h-4zM216 68h4v4h-4zM212 80h4v4h-4zM212 84h4v4h-4zM208 96h4v4h-4zM208 100h4v4h-4zM204 112h4v4h-4zM204 116h4v4h-4zM200 128h4v4h-4zM200 132h4v4h-4zM200 136h4v4h-4zM296 140h4v4h-4zM284 144h4v4h-4zM276 148h4v4h-4zM196 156h4v4h-4zM268 156h4v4h-4zM192 164h4v4h-4zM264 164h4v4h-4zM192 168h4v4h-4zM264 168h4v4h-4zM188 176h4v4h-4zM260 180h4v4h-4zM260 184h4v4h-4zM260 200h4v4h-4zM264 208h4v4h-4zM268 216h4v4h-4zM272 220h4v4h-4zM280 232h4v4h-4zM284 236h4v4h-4zM288 240h4v4h-4zM296 252h4v4h-4zM300 260h4v4h-4zM300 284h4v4h-4zM300 288h4v4h-4zM296 296h4v4h-4zM292 304h4v4h-4zM456 408h4v4h-4zM452 416h4v4h-4zM448 472h4v4h-4zM452 488h4v4h-4zM460 504h4v4h-4zM464 512h4v4h-4zM472 528h4v4h-4zM492 548h4v4h-4zM512 564h4v4h-4zM528 572h4v4h-4z"/>
<path fill="#d4ff2b" d="M224 36h4v4h-4zM220 56h4v4h-4zM216 72h4v4h-4zM216 76h4v4h-4zM212 88h4v4h-4zM208 104h4v4h-4zM208 108h4v4h-4zM204 120h4v4h-4zM300 136h4v4h-4zM200 140h4v4h-4zM292 140h4v4h-4zM200 144h4v4h-4zM280 144h4v4h-4zM200 148h4v4h-4zM272 148h4v4h-4zM200 152h4v4h-4zM268 152h4v4h-4zM196 160h4v4h-4zM264 160h4v4h-4zM196 164h4v4h-4zM192 172h4v4h-4zM260 172h4v4h-4zM260 176h4v4h-4zM256 184h4v4h-4zM256 188h4v4h-4zM256 192h4v4h-4zM256 196h4v4h-4zM256 200h4v4h-4zM260 204h4v4h-4zM260 208h4v4h-4zM264 212h4v4h-4zM272 224h4v4h-4zM276 228h4v4h-4zM284 240h4v4h-4zM288 244h4v4h-4zM292 248h4v4h-4zM296 256h4v4h-4zM300 264h4v4h-4zM300 268h4v4h-4zM300 272h4v4h-4zM300 276h4v4h-4zM300 280h4v4h-4zM296 292h4v4h-4zM292 300h4v4h-4zM288 308h4v4h-4zM284 312h4v4h-4zM280 316h4v4h-4zM468 396h4v4h-4zM464 400h4v4h-4zM460 404h4v4h-4zM448 440h4v4h-4zM448 444h4v4h-4zM448 448h4v4h-4zM452 484h4v4h-4zM456 496h4v4h-4zM468 516h4v4h-4zM484 540h4v4h-4zM488 544h4v4h-4zM500 552h4v4h-4zM504 556h4v4h-4zM508 560h4v4h-4zM520 568h4v4h-4zM544 584h4v4h-4zM548 588h4v4h-4z"/>
<path fill="#ddff22" d="M224 40h4v4h-4zM224 44h4v4h-4zM224 48h4v4h-4zM220 60h4v4h-4zM220 64h4v4h-4zM216 80h4v4h-4zM212 92h4v4h-4zM212 96h4v4h-4zM208 112h4v4h-4zM208 116h4v4h-4zM204 124h4v4h-4zM204 128h4v4h-4zM296 136h4v4h-4zM288 140h4v4h-4zM276 144h4v4h-4zM268 148h4v4h-4zM200 156h4v4h-4zM264 156h4v4h-4zM200 160h4v4h-4zM260 164h4v4h-4zM196 168h4v4h-4zM260 168h4v4h-4zM196 172h4v4h-4zM192 176h4v4h-4zM192 180h4v4h-4zM256 180h4v4h-4zM252 188h4v4h-4zM252 192h4v4h-4zM252 196h4v4h-4zM252 200h4v4h-4zM256 204h4v4h-4zM260 212h4v4h-4zM264 216h4v4h-4zM268 220h4v4h-4zM276 232h4v4h-4zM280 236h4v4h-4zM288 248h4v4h-4zM292 252h4v4h-4zM296 260h4v4h-4zM296 288h4v4h-4zM292 296h4v4h-4zM288 304h4v4h-4zM284 308h4v4h-4zM456 412h4v4h-4zM448 436h4v4h-4zM448 452h4v4h-4zM448 456h4v4h-4zM448 464h4v4h-4zM448 468h4v4h-4zM452 480h4v4h-4zM464 508h4v4h-4zM472 524h4v4h-4zM476 532h4v4h-4zM480 536h4v4h-4zM496 548h4v4h-4zM516 564h4v4h-4zM536 576h4v4h-4zM540 580h4v4h-4z"/>
<path fill="#e5ff1a" d="M224 52h4v4h-4zM220 68h4v4h-4zM220 72h4v4h-4zM216 84h4v4h-4zM212 100h4v4h-4zM212 104h4v4h-4zM212 108h4v4h-4zM212 112h4v4h-4zM208 120h4v4h-4zM204 132h4v4h-4zM204 136h4v4h-4zM292 136h4v4h-4zM204 140h4v4h-4zM280 140h8v4h-8zM204 144h4v4h-4zM272 144h4v4h-4zM204 148h4v4h-4zM204 152h4v4h-4zM264 152h4v4h-4zM204 156h4v4h-4zM260 156h4v4h-4zM260 160h4v4h-4zM200 164h4v4h-4zM200 168h4v4h-4zM256 168h4v4h-4zM256 172h4v4h-4zM196 176h4v4h-4zM256 176h4v4h-4zM196 180h4v4h-4zM252 180h4v4h-4zM192 184h4v4h-4zM248 184h8v4h-8zM248 188h4v4h-4zM248 192h4v4h-4zM248 196h4v4h-4zM248 200h4v4h-4zM252 204h4v4h-4zM256 208h4v4h-4zM264 220h4v4h-4zM268 224h4v4h-4zM272 228h4v4h-4zM280 240h4v4h-4zM284 244h4v4h-4zM288 252h4v4h-4zM292 256h4v4h-4zM296 264h4v4h-4zM296 268h4v4h-4zM296 280h4v4h-4zM296 284h4v4h-4zM292 292h4v4h-4zM288 300h4v4h-4zM280 312h4v4h-4zM468 400h4v4h-4zM460 408h4v4h-4zM456 416h4v4h-4zM448 420h4v4h-4zM448 424h4v4h-4zM448 428h4v4h-4zM448 432h4v4h-4zM448 460h4v4h-4zM452 476h4v4h-4zM456 492h4v4h-4zM460 500h4v4h-4zM468 512h4v4h-4zM472 520h4v4h-4zM492 544h4v4h-4zM512 560h4v4h-4zM524 568h4v4h-4zM532 572h4v4h-4zM552 588h4v4h-4z"/>
<path fill="#eeff11" d="M228 36h4v4h-4zM228 40h4v4h-4zM224 56h4v4h-4zM224 60h4v4h-4zM220 76h4v4h-4zM216 88h4v4h-4zM216 92h4v4h-4zM212 116h4v4h-4zM208 124h4v4h-4zM208 128h4v4h-4zM208 132h4v4h-4zM208 136h4v4h-4zM208 140h4v4h-4zM276 140h4v4h-4zM208 144h4v4h-4zM268 144h4v4h-4zM208 148h4v4h-4zM264 148h4v4h-4zM208 152h4v4h-4zM260 152h4v4h-4zM208 156h4v4h-4zM204 160h4v4h-4zM256 160h4v4h-4zM204 164h4v4h-4zM256 164h4v4h-4zM204 168h4v4h-4zM200 172h4v4h-4zM252 172h4v4h-4zM200 176h4v4h-4zM252 176h4v4h-4zM200 180h4v4h-4zM248 180h4v4h-4zM196 184h4v4h-4zM244 184h4v4h-4zM196 188h4v4h-4zM240 188h8v4h-8zM240 192h8v4h-8zM240 196h8v4h-8zM244 200h4v4h-4zM248 204h4v4h-4zM252 208h4v4h-4zM256 212h4v4h-4zM260 216h4v4h-4zM268 228h4v4h-4zM272 232h4v4h-4zM276 236h4v4h-4zM284 248h4v4h-4zM288 256h4v4h-4zM292 260h4v4h-4zM292 264h4v4h-4zM296 272h4v4h-4zM296 276h4v4h-4zM292 284h4v4h-4zM292 288h4v4h-4zM288 296h4v4h-4zM284 304h4v4h-4zM280 308h4v4h-4zM276 312h4v4h-4zM464 404h4v4h-4zM456 488h4v4h-4zM464 504h4v4h-4zM476 528h4v4h-4zM488 540h4v4h-4zM500 548h4v4h-4zM504 552h4v4h-4zM508 556h4v4h-4zM544 580h4v4h-4zM548 584h4v4h-4z"/>
<path fill="#f7ff08" d="M228 44h4v4h-4zM228 48h4v4h-4zM224 64h4v4h-4zM224 68h4v4h-4zM220 80h4v4h-4zM216 96h4v4h-4zM216 100h4v4h-4zM216 104h4v4h-4zM216 108h4v4h-4zM216 112h4v4h-4zM216 116h4v4h-4zM212 120h4v4h-4zM212 124h4v4h-4zM296 132h4v4h-4zM284 136h8v4h-8zM272 140h4v4h-4zM212 144h4v4h-4zM264 144h4v4h-4zM212 148h4v4h-4zM260 148h4v4h-4zM212 152h4v4h-4zM212 156h4v4h-4zM256 156h4v4h-4zM208 160h8v4h-8zM208 164h4v4h-4zM252 164h4v4h-4zM208 168h4v4h-4zM252 168h4v4h-4zM204 172h8v4h-8zM248 172h4v4h-4zM204 176h8v4h-8zM244 176h8v4h-8zM204 180h4v4h-4zM240 180h8v4h-8zM200 184h8v4h-8zM236 184h8v4h-8zM200 188h4v4h-4zM236 188h4v4h-4zM236 192h4v4h-4zM236 196h4v4h-4zM236 200h8v4h-8zM240 204h8v4h-8zM248 208h4v4h-4zM252 212h4v4h-4zM256 216h4v4h-4zM260 220h4v4h-4zM264 224h4v4h-4zM276 240h4v4h-4zM280 244h4v4h-4zM284 252h4v4h-4zM288 260h4v4h-4zM292 268h4v4h-4zM292 272h4v4h-4zM292 276h4v4h-4zM292 280h4v4h-4zM288 292h4v4h-4zM284 300h4v4h-4zM280 304h4v4h-4zM460 412h4v4h-4zM452 444h4v4h-4zM452 448h4v4h-4zM452 472h4v4h-4zM460 496h4v4h-4zM468 508h4v4h-4zM472 516h4v4h-4zM480 532h4v4h-4zM484 536h4v4h-4zM520 564h4v4h-4zM528 568h4v4h-4zM540 576h4v4h-4z"/>
<path fill="#ffff00" d="M228 52h4v4h-4zM228 56h4v4h-4zM224 72h4v4h-4zM224 76h4v4h-4zM220 84h4v4h-4zM220 88h4v4h-4zM220 104h4v4h-4zM220 108h4v4h-4zM220 112h4v4h-4zM220 116h4v4h-4zM216 120h4v4h-4zM216 124h4v4h-4zM212 128h4v4h-4zM212 132h4v4h-4zM292 132h4v4h-4zM212 136h4v4h-4zM280 136h4v4h-4zM212 140h4v4h-4zM268 140h4v4h-4zM216 144h4v4h-4zM260 144h4v4h-4zM216 148h4v4h-4zM256 148h4v4h-4zM216 152h8v4h-8zM256 152h4v4h-4zM216 156h4v4h-4zM252 156h4v4h-4zM216 160h4v4h-4zM248 160h8v4h-8zM212 164h8v4h-8zM248 164h4v4h-4zM212 168h8v4h-8zM244 168h8v4h-8zM212 172h8v4h-8zM240 172h8v4h-8zM212 176h8v4h-8zM232 176h12v4h-12zM208 180h12v4h-12zM224 180h16v4h-16zM208 184h12v4h-12zM224 184h12v4h-12zM204 188h8v4h-8zM224 188h12v4h-12zM200 192h8v4h-8zM224 192h12v4h-12zM200 196h4v4h-4zM228 196h8v4h-8zM232 200h4v4h-4zM236 204h4v4h-4zM240 208h8v4h-8zM248 212h4v4h-4zM252 216h4v4h-4zM256 220h4v4h-4zM260 224h4v4h-4zM264 228h4v4h-4zM268 232h4v4h-4zM272 236h4v4h-4zM280 248h4v4h-4zM284 256h4v4h-4zM284 260h4v4h-4zM288 264h4v4h-4zM288 268h4v4h-4zM288 280h4v4h-4zM288 284h4v4h-4zM288 288h4v4h-4zM284 296h4v4h-4zM276 308h4v4h-4zM472 400h4v4h-4zM468 404h4v4h-4zM464 408h4v4h-4zM460 416h4v4h-4zM452 436h4v4h-4zM452 440h4v4h-4zM452 452h4v4h-4zM452 456h4v4h-4zM452 468h4v4h-4zM456 484h4v4h-4zM464 500h4v4h-4zM476 524h4v4h-4zM496 544h4v4h-4zM536 572h4v4h-4zM552 584h4v4h-4z"/>
<path fill="#fff600" d="M232 44h4v4h-4zM228 60h4v4h-4zM228 64h4v4h-4zM224 80h4v4h-4zM220 92h4v4h-4zM220 96h4v4h-4zM220 100h4v4h-4zM224 112h4v4h-4zM220 120h4v4h-4zM216 128h4v4h-4zM216 132h4v4h-4zM288 132h4v4h-4zM216 136h4v4h-4zM276 136h4v4h-4zM216 140h8v4h-8zM264 140h4v4h-4zM220 144h8v4h-8zM256 144h4v4h-4zM220 148h8v4h-8zM224 152h4v4h-4zM252 152h4v4h-4zM220 156h8v4h-8zM248 156h4v4h-4zM220 160h8v4h-8zM240 160h8v4h-8zM220 164h28v4h-28zM220 168h24v4h-24zM220 172h20v4h-20zM220 176h12v4h-12zM220 180h4v4h-4zM220 184h4v4h-4zM212 188h12v4h-12zM208 192h16v4h-16zM204 196h24v4h-24zM224 200h8v4h-8zM228 204h8v4h-8zM236 208h4v4h-4zM240 212h8v4h-8zM248 216h4v4h-4zM252 220h4v4h-4zM268 236h4v4h-4zM272 240h4v4h-4zM276 244h4v4h-4zM280 252h4v4h-4zM280 256h4v4h-4zM284 264h4v4h-4zM288 272h4v4h-4zM288 276h4v4h-4zM284 288h4v4h-4zM284 292h4v4h-4zM280 296h4v4h-4zM280 300h4v4h-4zM276 304h4v4h-4zM452 420h4v4h-4zM452 424h4v4h-4zM452 428h4v4h-4zM452 432h4v4h-4zM452 460h4v4h-4zM452 464h4v4h-4zM456 480h4v4h-4zM460 492h4v4h-4zM468 504h4v4h-4zM472 512h4v4h-4zM492 540h4v4h-4zM508 552h4v4h-4zM512 556h4v4h-4zM516 560h4v4h-4zM544 576h4v4h-4zM548 580h4v4h-4z"/>
<path fill="#ffee00" d="M232 48h4v4h-4zM232 52h4v4h-4zM228 68h4v4h-4zM228 72h4v4h-4zM224 84h4v4h-4zM224 104h4v4h-4zM224 108h4v4h-4zM224 116h4v4h-4zM224 120h4v4h-4zM220 124h4v4h-4zM220 128h4v4h-4zM220 132h4v4h-4zM284 132h4v4h-4zM220 136h4v4h-4zM272 136h4v4h-4zM224 140h4v4h-4zM260 140h4v4h-4zM228 144h4v4h-4zM252 144h4v4h-4zM228 148h8v4h-8zM248 148h8v4h-8zM228 152h24v4h-24zM228 156h20v4h-20zM228 160h12v4h-12zM204 200h20v4h-20zM220 204h8v4h-8zM228 208h8v4h-8zM236 212h4v4h-4zM244 216h4v4h-4zM248 220h4v4h-4zM256 224h4v4h-4zM260 228h4v4h-4zM264 232h4v4h-4zM272 244h4v4h-4zM276 248h4v4h-4zM280 260h4v4h-4zM280 264h4v4h-4zM284 268h4v4h-4zM284 272h4v4h-4zM284 276h4v4h-4zM284 280h4v4h-4zM284 284h4v4h-4zM280 292h4v4h-4zM276 300h4v4h-4zM272 304h4v4h-4zM464 412h4v4h-4zM456 476h4v4h-4zM476 520h4v4h-4zM480 528h4v4h-4zM488 536h4v4h-4zM500 544h4v4h-4zM504 548h4v4h-4zM524 564h4v4h-4zM532 568h4v4h-4z"/>
<path fill="#ffe500" d="M232 56h4v4h-4zM228 76h4v4h-4zM224 88h4v4h-4zM224 92h4v4h-4zM224 96h4v4h-4zM224 100h4v4h-4zM228 112h4v4h-4zM224 124h4v4h-4zM224 128h4v4h-4zM292 128h4v4h-4zM224 132h4v4h-4zM280 132h4v4h-4zM224 136h8v4h-8zM268 136h4v4h-4zM228 140h8v4h-8zM256 140h4v4h-4zM232 144h20v4h-20zM236 148h12v4h-12zM208 204h12v4h-12zM208 208h20v4h-20zM228 212h8v4h-8zM236 216h8v4h-8zM244 220h4v4h-4zM252 224h4v4h-4zM256 228h4v4h-4zM260 232h4v4h-4zM264 236h4v4h-4zM268 240h4v4h-4zM276 252h4v4h-4zM276 256h4v4h-4zM280 268h4v4h-4zM280 272h4v4h-4zM280 284h4v4h-4zM280 288h4v4h-4zM276 296h4v4h-4zM472 404h4v4h-4zM468 408h4v4h-4zM464 416h4v4h-4zM456 472h4v4h-4zM460 488h4v4h-4zM464 496h4v4h-4zM472 508h4v4h-4zM476 516h4v4h-4zM484 532h4v4h-4zM540 572h4v4h-4zM552 580h4v4h-4z"/>
<path fill="#ffdd00" d="M236 48h4v4h-4zM232 60h4v4h-4zM232 64h4v4h-4zM228 80h4v4h-4zM228 108h4v4h-4zM228 116h4v4h-4zM228 120h4v4h-4zM228 124h4v4h-4zM228 128h4v4h-4zM288 128h4v4h-4zM228 132h4v4h-4zM276 132h4v4h-4zM232 136h4v4h-4zM260 136h8v4h-8zM236 140h20v4h-20zM212 212h16v4h-16zM232 216h4v4h-4zM240 220h4v4h-4zM248 224h4v4h-4zM252 228h4v4h-4zM256 232h4v4h-4zM268 244h4v4h-4zM272 248h4v4h-4zM276 260h4v4h-4zM276 264h4v4h-4zM280 276h4v4h-4zM280 280h4v4h-4zM276 292h4v4h-4zM272 300h4v4h-4zM468 412h4v4h-4zM456 440h4v4h-4zM456 444h4v4h-4zM456 448h4v4h-4zM456 452h4v4h-4zM456 468h4v4h-4zM468 500h4v4h-4zM480 524h4v4h-4zM496 540h4v4h-4zM520 560h4v4h-4zM528 564h4v4h-4zM536 568h4v4h-4zM548 576h4v4h-4z"/>
<path fill="#ffd500" d="M236 52h4v4h-4zM232 68h4v4h-4zM232 72h4v4h-4zM228 84h4v4h-4zM228 104h4v4h-4zM292 124h4v4h-4zM232 128h4v4h-4zM284 128h4v4h-4zM232 132h4v4h-4zM268 132h8v4h-8zM236 136h8v4h-8zM252 136h8v4h-8zM216 216h16v4h-16zM236 220h4v4h-4zM244 224h4v4h-4zM248 228h4v4h-4zM260 236h4v4h-4zM264 240h4v4h-4zM272 252h4v4h-4zM272 256h4v4h-4zM276 268h4v4h-4zM276 272h4v4h-4zM276 276h4v4h-4zM276 280h4v4h-4zM276 284h4v4h-4zM276 288h4v4h-4zM272 292h4v4h-4zM272 296h4v4h-4zM268 300h4v4h-4zM472 408h4v4h-4zM456 420h4v4h-4zM456 424h4v4h-4zM456 428h4v4h-4zM456 432h4v4h-4zM456 436h4v4h-4zM456 456h4v4h-4zM456 460h4v4h-4zM456 464h4v4h-4zM460 484h4v4h-4zM464 492h4v4h-4zM472 504h4v4h-4zM476 512h4v4h-4zM492 536h4v4h-4zM508 548h4v4h-4zM512 552h4v4h-4zM516 556h4v4h-4zM544 572h4v4h-4zM552 576h4v4h-4z"/>
<path fill="#ffcc00" d="M236 56h4v4h-4zM236 60h4v4h-4zM232 76h4v4h-4zM228 88h4v4h-4zM228 92h4v4h-4zM228 96h4v4h-4zM228 100h4v4h-4zM232 112h4v4h-4zM232 116h4v4h-4zM232 120h4v4h-4zM232 124h4v4h-4zM236 128h4v4h-4zM280 128h4v4h-4zM236 132h8v4h-8zM264 132h4v4h-4zM244 136h8v4h-8zM224 220h12v4h-12zM236 224h8v4h-8zM244 228h4v4h-4zM252 232h4v4h-4zM256 236h4v4h-4zM260 240h4v4h-4zM264 244h4v4h-4zM268 248h4v4h-4zM272 260h4v4h-4zM272 264h4v4h-4zM272 288h4v4h-4zM268 296h4v4h-4zM468 416h4v4h-4zM460 480h4v4h-4zM468 496h4v4h-4zM480 520h4v4h-4zM484 528h4v4h-4zM504 544h4v4h-4zM540 568h4v4h-4z"/>
<path fill="#ffc400" d="M236 64h4v4h-4zM236 68h4v4h-4zM232 80h4v4h-4zM232 108h4v4h-4zM236 124h4v4h-4zM288 124h4v4h-4zM240 128h4v4h-4zM276 128h4v4h-4zM244 132h20v4h-20zM216 220h8v4h-8zM228 224h8v4h-8zM240 228h4v4h-4zM248 232h4v4h-4zM252 236h4v4h-4zM268 252h4v4h-4zM272 268h4v4h-4zM272 272h4v4h-4zM272 276h4v4h-4zM272 280h4v4h-4zM272 284h4v4h-4zM268 292h4v4h-4zM476 408h4v4h-4zM472 412h4v4h-4zM460 476h4v4h-4zM464 488h4v4h-4zM476 508h4v4h-4zM488 532h4v4h-4zM496 536h4v4h-4zM500 540h4v4h-4zM524 560h4v4h-4zM532 564h4v4h-4zM548 572h4v4h-4z"/>
<path fill="#ffbb00" d="M240 56h4v4h-4zM236 72h4v4h-4zM232 84h4v4h-4zM232 88h4v4h-4zM232 100h4v4h-4zM232 104h4v4h-4zM236 116h4v4h-4zM236 120h4v4h-4zM284 124h4v4h-4zM244 128h4v4h-4zM268 128h8v4h-8zM220 224h8v4h-8zM236 228h4v4h-4zM244 232h4v4h-4zM256 240h4v4h-4zM260 244h4v4h-4zM264 248h4v4h-4zM268 256h4v4h-4zM268 260h4v4h-4zM268 284h4v4h-4zM268 288h4v4h-4zM264 292h4v4h-4zM472 416h4v4h-4zM460 472h4v4h-4zM472 500h4v4h-4zM480 516h4v4h-4zM520 556h4v4h-4zM536 564h4v4h-4zM544 568h4v4h-4zM552 572h4v4h-4z"/>
<path fill="#ffb300" d="M240 60h4v4h-4zM240 64h4v4h-4zM236 76h4v4h-4zM232 92h4v4h-4zM232 96h4v4h-4zM236 112h4v4h-4zM240 120h4v4h-4zM288 120h4v4h-4zM240 124h4v4h-4zM280 124h4v4h-4zM248 128h20v4h-20zM224 228h12v4h-12zM240 232h4v4h-4zM248 236h4v4h-4zM252 240h4v4h-4zM256 244h4v4h-4zM260 248h4v4h-4zM264 252h4v4h-4zM268 264h4v4h-4zM268 268h4v4h-4zM268 272h4v4h-4zM268 276h4v4h-4zM268 280h4v4h-4zM264 288h4v4h-4zM476 412h4v4h-4zM460 420h4v4h-4zM460 424h4v4h-4zM460 428h4v4h-4zM460 432h4v4h-4zM460 436h4v4h-4zM460 440h4v4h-4zM460 444h4v4h-4zM460 448h4v4h-4zM460 452h4v4h-4zM460 456h4v4h-4zM460 468h4v4h-4zM464 484h4v4h-4zM468 492h4v4h-4zM476 504h4v4h-4zM484 524h4v4h-4zM492 532h4v4h-4zM508 544h4v4h-4zM512 548h4v4h-4zM516 552h4v4h-4zM528 560h4v4h-4z"/>
<path fill="#ffaa00" d="M240 68h4v4h-4zM236 80h4v4h-4zM236 104h4v4h-4zM236 108h4v4h-4zM240 116h4v4h-4zM284 120h4v4h-4zM244 124h4v4h-4zM276 124h4v4h-4zM228 232h12v4h-12zM244 236h4v4h-4zM248 240h4v4h-4zM264 256h4v4h-4zM264 280h4v4h-4zM264 284h4v4h-4zM260 288h4v4h-4zM476 416h4v4h-4zM460 460h4v4h-4zM460 464h4v4h-4zM472 496h4v4h-4zM480 512h4v4h-4zM484 520h4v4h-4zM488 528h4v4h-4zM500 536h4v4h-4zM504 540h4v4h-4zM540 564h4v4h-4zM548 568h4v4h-4z"/>
<path fill="#ffa100" d="M244 60h4v4h-4zM240 72h4v4h-4zM240 76h4v4h-4zM236 84h4v4h-4zM236 88h4v4h-4zM236 100h4v4h-4zM240 112h4v4h-4zM244 120h4v4h-4zM280 120h4v4h-4zM248 124h8v4h-8zM268 124h8v4h-8zM224 232h4v4h-4zM236 236h8v4h-8zM244 240h4v4h-4zM252 244h4v4h-4zM256 248h4v4h-4zM260 252h4v4h-4zM264 260h4v4h-4zM264 264h4v4h-4zM264 268h4v4h-4zM264 272h4v4h-4zM264 276h4v4h-4zM260 284h4v4h-4zM480 412h4v4h-4zM464 480h4v4h-4zM468 488h4v4h-4zM496 532h4v4h-4zM532 560h4v4h-4zM544 564h4v4h-4zM552 568h4v4h-4z"/>
<path fill="#ff9900" d="M244 64h4v4h-4zM244 68h4v4h-4zM240 80h4v4h-4zM236 92h4v4h-4zM236 96h4v4h-4zM240 108h4v4h-4zM244 116h4v4h-4zM284 116h4v4h-4zM248 120h4v4h-4zM276 120h4v4h-4zM256 124h12v4h-12zM228 236h8v4h-8zM240 240h4v4h-4zM248 244h4v4h-4zM252 248h4v4h-4zM256 252h4v4h-4zM260 256h4v4h-4zM260 276h4v4h-4zM260 280h4v4h-4zM480 416h4v4h-4zM464 420h4v4h-4zM464 424h4v4h-4zM464 476h4v4h-4zM476 500h4v4h-4zM480 508h4v4h-4zM484 516h4v4h-4zM488 524h4v4h-4zM492 528h4v4h-4zM516 548h4v4h-4zM520 552h4v4h-4zM524 556h4v4h-4zM536 560h4v4h-4z"/>
<path fill="#ff9000" d="M244 72h4v4h-4zM240 84h4v4h-4zM240 104h4v4h-4zM244 112h4v4h-4zM280 116h4v4h-4zM252 120h4v4h-4zM272 120h4v4h-4zM232 240h8v4h-8zM244 244h4v4h-4zM248 248h4v4h-4zM260 260h4v4h-4zM260 264h4v4h-4zM260 268h4v4h-4zM260 272h4v4h-4zM256 280h4v4h-4zM464 428h4v4h-4zM464 432h4v4h-4zM464 436h4v4h-4zM464 440h4v4h-4zM464 444h4v4h-4zM464 448h4v4h-4zM464 452h4v4h-4zM464 472h4v4h-4zM472 492h4v4h-4zM496 528h4v4h-4zM500 532h4v4h-4zM508 540h4v4h-4zM512 544h4v4h-4zM540 560h4v4h-4zM548 564h4v4h-4z"/>
<path fill="#ff8800" d="M248 64h4v4h-4zM248 68h4v4h-4zM244 76h4v4h-4zM240 88h4v4h-4zM240 92h4v4h-4zM240 96h4v4h-4zM240 100h4v4h-4zM248 116h4v4h-4zM276 116h4v4h-4zM256 120h16v4h-16zM232 244h12v4h-12zM244 248h4v4h-4zM252 252h4v4h-4zM256 256h4v4h-4zM256 260h4v4h-4zM256 264h4v4h-4zM256 268h4v4h-4zM256 272h4v4h-4zM256 276h4v4h-4zM464 456h4v4h-4zM464 460h4v4h-4zM464 464h4v4h-4zM464 468h4v4h-4zM468 484h4v4h-4zM476 496h4v4h-4zM480 504h4v4h-4zM484 512h4v4h-4zM488 520h4v4h-4zM492 524h4v4h-4zM504 536h4v4h-4zM528 556h4v4h-4zM552 564h4v4h-4z"/>
<path fill="#ff8000" d="M248 72h4v4h-4zM244 80h4v4h-4zM244 108h4v4h-4zM248 112h4v4h-4zM280 112h4v4h-4zM252 116h8v4h-8zM268 116h8v4h-8zM236 248h8v4h-8zM244 252h8v4h-8zM252 256h4v4h-4zM252 260h4v4h-4zM252 272h4v4h-4zM252 276h4v4h-4zM472 488h4v4h-4zM500 528h4v4h-4zM520 548h4v4h-4zM524 552h4v4h-4zM532 556h4v4h-4zM544 560h4v4h-4z"/>
<path fill="#ff7700" d="M248 76h4v4h-4zM244 84h4v4h-4zM244 88h4v4h-4zM244 100h4v4h-4zM244 104h4v4h-4zM248 108h4v4h-4zM252 112h4v4h-4zM276 112h4v4h-4zM260 116h8v4h-8zM240 252h4v4h-4zM244 256h8v4h-8zM248 260h4v4h-4zM252 264h4v4h-4zM248 268h8v4h-8zM468 420h4v4h-4zM468 424h4v4h-4zM468 428h4v4h-4zM468 432h4v4h-4zM468 480h4v4h-4zM480 500h4v4h-4zM484 508h4v4h-4zM488 516h4v4h-4zM492 520h4v4h-4zM496 524h4v4h-4zM516 544h4v4h-4zM536 556h4v4h-4zM548 560h4v4h-4z"/>
<path fill="#ff6e00" d="M252 72h4v4h-4zM248 80h4v4h-4zM244 92h4v4h-4zM244 96h4v4h-4zM248 104h4v4h-4zM276 108h8v4h-8zM256 112h20v4h-20zM240 256h4v4h-4zM244 260h4v4h-4zM244 264h8v4h-8zM468 436h4v4h-4zM468 440h4v4h-4zM468 444h4v4h-4zM468 448h4v4h-4zM468 452h4v4h-4zM468 476h4v4h-4zM476 492h4v4h-4zM504 532h4v4h-4zM508 536h4v4h-4zM512 540h4v4h-4zM528 552h4v4h-4zM540 556h8v4h-8zM552 560h4v4h-4z"/>
<path fill="#ff6600" d="M252 76h4v4h-4zM252 80h4v4h-4zM248 84h4v4h-4zM248 88h4v4h-4zM248 100h4v4h-4zM252 108h24v4h-24zM468 456h4v4h-4zM468 460h4v4h-4zM468 464h4v4h-4zM468 468h4v4h-4zM468 472h4v4h-4zM472 484h4v4h-4zM480 496h4v4h-4zM484 504h4v4h-4zM488 512h4v4h-4zM492 516h4v4h-4zM500 524h4v4h-4zM524 548h4v4h-4zM532 552h4v4h-4zM548 556h4v4h-4z"/>
<path fill="#ff5d00" d="M256 76h4v4h-4zM252 84h4v4h-4zM248 92h4v4h-4zM248 96h4v4h-4zM252 100h4v4h-4zM252 104h8v4h-8zM272 104h8v4h-8zM472 420h4v4h-4zM472 424h4v4h-4zM472 428h4v4h-4zM476 488h4v4h-4zM488 508h4v4h-4zM496 520h4v4h-4zM504 528h4v4h-4zM516 540h4v4h-4zM520 544h4v4h-4zM536 552h8v4h-8z"/>
<path fill="#ff5500" d="M256 80h4v4h-4zM256 84h4v4h-4zM252 88h4v4h-4zM252 92h4v4h-4zM252 96h4v4h-4zM256 100h8v4h-8zM268 100h8v4h-8zM260 104h12v4h-12zM472 432h4v4h-4zM472 436h4v4h-4zM472 440h4v4h-4zM472 444h4v4h-4zM472 480h4v4h-4zM480 492h4v4h-4zM484 500h4v4h-4zM492 512h4v4h-4zM508 532h4v4h-4zM512 536h4v4h-4zM528 548h4v4h-4zM544 552h4v4h-4z"/>
<path fill="#ff4c00" d="M260 80h4v4h-4zM260 84h4v4h-4zM256 88h8v4h-8zM256 92h8v4h-8zM256 96h16v4h-16zM264 100h4v4h-4zM472 448h4v4h-4zM472 452h4v4h-4zM472 456h4v4h-4zM472 476h4v4h-4zM476 484h4v4h-4zM484 496h4v4h-4zM488 504h4v4h-4zM496 516h4v4h-4zM500 520h4v4h-4zM504 524h4v4h-4zM524 544h4v4h-4zM532 548h12v4h-12zM548 552h4v4h-4z"/>
<path fill="#ff4400" d="M264 88h4v4h-4zM264 92h8v4h-8zM476 420h4v4h-4zM476 424h4v4h-4zM476 428h4v4h-4zM472 460h4v4h-4zM472 464h4v4h-4zM472 468h4v4h-4zM472 472h4v4h-4zM480 488h4v4h-4zM492 508h4v4h-4zM508 528h4v4h-4zM516 536h4v4h-4zM520 540h4v4h-4zM528 544h4v4h-4zM544 548h4v4h-4z"/>
<path fill="#ff3b00" d="M476 432h4v4h-4zM476 436h4v4h-4zM476 440h4v4h-4zM476 480h4v4h-4zM484 492h4v4h-4zM488 500h4v4h-4zM496 512h4v4h-4zM500 516h4v4h-4zM504 520h4v4h-4zM512 532h4v4h-4zM524 540h4v4h-4zM532 544h12v4h-12zM548 548h4v4h-4z"/>
<path fill="#ff3300" d="M480 420h4v4h-4zM476 444h4v4h-4zM476 448h4v4h-4zM476 452h4v4h-4zM476 456h4v4h-4zM488 496h4v4h-4zM492 504h4v4h-4zM508 524h4v4h-4zM516 532h4v4h-4zM520 536h4v4h-4zM528 540h16v4h-16zM544 544h4v4h-4z"/>
<path fill="#ff2a00" d="M480 424h4v4h-4zM480 428h4v4h-4zM476 460h4v4h-4zM476 464h4v4h-4zM476 476h4v4h-4zM480 484h4v4h-4zM484 488h4v4h-4zM496 508h4v4h-4zM500 512h4v4h-4zM504 516h4v4h-4zM508 520h4v4h-4zM512 528h4v4h-4zM524 536h4v4h-4zM544 540h4v4h-4z"/>
<path fill="#ff2200" d="M480 432h4v4h-4zM480 436h4v4h-4zM480 440h4v4h-4zM476 468h4v4h-4zM476 472h4v4h-4zM488 492h4v4h-4zM492 500h4v4h-4zM496 504h4v4h-4zM512 524h4v4h-4zM516 528h4v4h-4zM520 532h4v4h-4zM528 536h16v4h-16z"/>
<path fill="#ff1a00" d="M484 420h4v4h-4zM484 424h4v4h-4zM480 444h4v4h-4zM480 448h4v4h-4zM480 452h4v4h-4zM480 456h4v4h-4zM480 460h4v4h-4zM480 480h4v4h-4zM484 484h4v4h-4zM492 496h4v4h-4zM500 508h4v4h-4zM504 512h4v4h-4zM508 516h4v4h-4zM512 520h4v4h-4zM520 528h4v4h-4zM524 532h8v4h-8zM544 536h4v4h-4z"/>
<path fill="#ff1100" d="M484 428h4v4h-4zM484 432h4v4h-4zM480 464h4v4h-4zM480 476h4v4h-4zM488 488h4v4h-4zM492 492h4v4h-4zM496 500h4v4h-4zM500 504h4v4h-4zM504 508h4v4h-4zM508 512h4v4h-4zM516 524h4v4h-4zM524 528h4v4h-4zM532 532h12v4h-12z"/>
<path fill="#ff0800" d="M484 436h4v4h-4zM484 440h4v4h-4zM484 452h4v4h-4zM484 456h4v4h-4zM480 468h4v4h-4zM480 472h4v4h-4zM484 480h4v4h-4zM496 496h4v4h-4zM512 516h4v4h-4zM516 520h4v4h-4zM520 524h4v4h-4zM528 528h4v4h-4z"/>
<path fill="#ff0000" d="M488 424h4v4h-4zM488 428h4v4h-4zM484 444h4v4h-4zM484 448h4v4h-4zM484 460h4v4h-4zM484 476h4v4h-4zM488 484h4v4h-4zM492 488h4v4h-4zM496 492h4v4h-4zM500 500h4v4h-4zM504 504h4v4h-4zM508 508h4v4h-4zM512 512h4v4h-4zM516 516h4v4h-4zM520 520h4v4h-4zM524 524h4v4h-4zM532 528h12v4h-12z"/>
<path fill="#f60000" d="M488 432h4v4h-4zM484 464h4v4h-4zM484 468h4v4h-4zM484 472h4v4h-4zM488 480h4v4h-4zM492 484h4v4h-4zM500 496h4v4h-4zM504 500h4v4h-4zM508 504h4v4h-4zM512 508h4v4h-4zM516 512h4v4h-4zM520 516h4v4h-4zM524 520h4v4h-4zM528 524h12v4h-12z"/>
<path fill="#ee0000" d="M488 436h4v4h-4zM488 440h4v4h-4zM488 444h4v4h-4zM488 448h4v4h-4zM488 452h4v4h-4zM488 456h4v4h-4zM488 476h4v4h-4zM496 488h4v4h-4zM500 492h4v4h-4zM504 496h4v4h-4zM508 500h4v4h-4zM512 504h4v4h-4zM516 508h4v4h-4zM520 512h4v4h-4zM524 516h4v4h-4zM528 520h8v4h-8zM540 524h4v4h-4z"/>
<path fill="#e50000" d="M492 428h4v4h-4zM488 460h4v4h-4zM488 464h4v4h-4zM488 468h4v4h-4zM488 472h4v4h-4zM492 480h4v4h-4zM496 484h4v4h-4zM500 488h4v4h-4zM508 496h4v4h-4zM512 500h4v4h-4zM516 504h4v4h-4zM520 508h4v4h-4zM524 512h4v4h-4zM528 516h4v4h-4zM536 520h4v4h-4z"/>
<path fill="#dd0000" d="M492 432h4v4h-4zM492 436h4v4h-4zM492 476h4v4h-4zM504 492h4v4h-4zM512 496h4v4h-4zM516 500h4v4h-4zM520 504h4v4h-4zM524 508h4v4h-4zM528 512h4v4h-4zM532 516h8v4h-8z"/>
<path fill="#d50000" d="M492 440h4v4h-4zM492 444h4v4h-4zM492 448h4v4h-4zM492 452h4v4h-4zM492 456h4v4h-4zM492 460h4v4h-4zM492 464h4v4h-4zM492 468h4v4h-4zM492 472h4v4h-4zM496 480h4v4h-4zM500 484h4v4h-4zM504 488h4v4h-4zM508 492h4v4h-4zM516 496h4v4h-4zM520 500h4v4h-4zM524 504h4v4h-4zM528 508h4v4h-4zM532 512h8v4h-8z"/>
<path fill="#cc0000" d="M496 432h4v4h-4zM496 476h4v4h-4zM500 480h4v4h-4zM504 484h4v4h-4zM508 488h4v4h-4zM512 492h8v4h-8zM520 496h4v4h-4zM524 500h4v4h-4zM528 504h4v4h-4zM532 508h4v4h-4z"/>
<path fill="#c40000" d="M496 436h4v4h-4zM496 440h4v4h-4zM496 444h4v4h-4zM496 448h4v4h-4zM496 464h4v4h-4zM496 468h4v4h-4zM496 472h4v4h-4zM500 476h4v4h-4zM508 484h4v4h-4zM512 488h4v4h-4zM520 492h4v4h-4zM524 496h4v4h-4zM528 500h4v4h-4zM532 504h4v4h-4z"/>
<path fill="#bb0000" d="M496 452h4v4h-4zM496 456h4v4h-4zM496 460h4v4h-4zM500 472h4v4h-4zM504 480h4v4h-4zM512 484h4v4h-4zM516 488h8v4h-8zM524 492h4v4h-4zM528 496h4v4h-4zM532 500h4v4h-4z"/>
<path fill="#b30000" d="M500 440h4v4h-4zM500 444h4v4h-4zM500 448h4v4h-4zM500 460h4v4h-4zM500 464h4v4h-4zM500 468h4v4h-4zM504 476h4v4h-4zM508 480h8v4h-8zM516 484h4v4h-4zM524 488h4v4h-4zM528 492h4v4h-4zM532 496h4v4h-4z"/>
<path fill="#aa0000" d="M500 452h4v4h-4zM500 456h4v4h-4zM504 464h4v4h-4zM504 468h4v4h-4zM504 472h4v4h-4zM508 476h8v4h-8zM516 480h4v4h-4zM520 484h8v4h-8zM528 488h4v4h-4z"/>
<path fill="#a10000" d="M504 448h4v4h-4zM504 452h4v4h-4zM504 456h4v4h-4zM504 460h4v4h-4zM508 468h4v4h-4zM508 472h8v4h-8zM516 476h4v4h-4zM520 480h4v4h-4zM528 484h4v4h-4z"/>
<path fill="#990000" d="M508 456h4v4h-4zM508 460h4v4h-4zM508 464h8v4h-8zM512 468h4v4h-4zM516 472h4v4h-4zM520 476h4v4h-4zM524 480h4v4h-4z"/>
<path fill="#900000" d="M508 452h4v4h-4zM512 460h4v4h-4zM516 464h4v4h-4zM516 468h4v4h-4zM520 472h4v4h-4zM524 476h4v4h-4z"/></g></g>
<clipPath id="cN"><polygon points="133.0,83.0 165.0,60.0 190.0,45.0 203.0,40.0 217.0,38.0 262.0,98.0 308.0,163.4 357.0,228.0 407.0,291.0 440.0,351.0 476.0,418.4 346.0,418.4 318.7,370.0 163.0,130.0"/></clipPath><clipPath id="cS"><polygon points="346.0,418.4 476.0,418.4 523.0,485.0 547.0,560.0 550.0,566.0 549.5,590.0 536.0,596.0 511.5,610.0 485.0,624.0 474.0,616.0 348.0,423.0"/></clipPath>
<g fill="none" stroke="#1a1a1a" stroke-width="1.6" clip-path="url(#cN)"><polyline points="100.0,147.1 102.0,145.1 104.0,143.1 106.0,141.1 108.0,139.1 110.0,137.1 112.0,135.1 114.0,133.0 116.0,130.9 118.0,128.8 120.0,126.5 122.0,124.3 123.9,122.0 125.5,120.0 127.0,118.0 128.4,116.0 130.0,113.5 132.0,110.2 133.2,108.0 134.2,106.0 136.0,102.2 137.2,100.0 138.3,98.0 140.0,95.7 142.0,93.7 144.2,92.0 147.9,90.0 150.0,89.0 152.0,87.8 154.0,85.6 155.4,82.0 155.9,78.0 156.0,76.0 156.6,72.0 157.7,68.0 158.3,66.0 159.4,62.0 160.0,59.1 160.4,56.0 160.7,52.0 160.9,48.0 161.0,44.0 160.9,40.0 160.8,36.0 160.7,32.0 160.5,28.0 160.3,24.0 160.0,20.0"/>
<polyline points="407.3,418.0 408.2,416.0 410.0,412.2 411.0,410.0 412.0,407.6 413.4,404.0 414.2,402.0 416.0,398.3 417.1,396.0 418.1,394.0 420.0,390.1 421.1,388.0 422.1,386.0 424.0,382.8 425.7,380.0 426.8,378.0 428.0,375.5 429.8,372.0 430.9,370.0 432.0,367.8 433.4,364.0 433.9,360.0 433.6,356.0 432.8,352.0 432.4,348.0 432.4,344.0 432.4,340.0 432.2,336.0 431.9,334.0 431.1,330.0 430.0,327.3 428.1,324.0 426.7,322.0 425.2,320.0 423.4,318.0 421.3,316.0 419.1,314.0 416.7,312.0 414.0,310.5 411.5,310.0 408.0,310.0 406.0,310.1 402.0,310.4 398.0,310.8 394.0,311.8 392.0,312.5 388.0,313.9 386.0,314.7 383.1,316.0 380.0,317.5 378.0,318.5 375.0,320.0 372.0,321.6 370.0,322.9 368.0,324.3 366.0,326.1 364.0,328.3 362.0,330.8 360.0,333.1 358.0,335.5 356.0,337.9 354.4,340.0 352.9,342.0 351.5,344.0 350.0,346.0 348.0,348.1 345.6,350.0 342.5,352.0 340.0,353.6 338.0,355.1 336.0,356.8 334.0,358.7 332.0,360.7 330.0,362.8 328.0,364.9 326.0,367.3 324.0,370.0 322.5,372.0 320.9,374.0 319.3,376.0 317.6,378.0 315.9,380.0 314.0,382.2 312.0,384.7 310.0,387.2 308.0,389.8 306.3,392.0 304.9,394.0 303.5,396.0 302.0,398.2 300.0,401.3 298.3,404.0 297.1,406.0 296.0,408.0 294.0,411.6 292.8,414.0 291.7,416.0"/>
<polyline points="453.2,418.0 454.0,416.0 456.0,412.0 457.1,410.0 458.4,408.0 460.0,405.7 462.0,403.3 464.0,401.3 466.0,399.5 468.0,397.7 470.0,395.8 472.0,393.7 474.0,391.5 476.0,389.1 478.0,386.6 480.0,384.0 481.5,382.0 483.0,380.0 484.3,378.0 486.0,375.5 488.0,372.5 489.6,370.0 490.8,368.0 492.0,366.0 494.0,362.6 495.5,360.0 496.6,358.0 498.0,355.3 499.8,352.0 500.8,350.0 502.0,347.6 503.8,344.0 504.7,342.0 506.0,339.2 507.5,336.0 508.4,334.0 510.0,330.2 510.9,328.0 512.0,325.3 513.3,322.0 514.0,320.0 515.5,316.0 516.2,314.0 517.5,310.0 518.2,308.0 519.4,304.0 520.0,302.0 521.1,298.0 522.0,294.7 522.7,292.0 523.6,288.0 524.0,286.0 524.8,282.0 525.6,278.0 526.0,275.3 526.5,272.0 527.0,268.0 527.5,264.0 527.8,260.0 528.0,257.6 528.2,254.0 528.4,250.0 528.4,246.0 528.4,242.0 528.3,238.0 528.1,234.0 528.0,232.0 527.6,228.0 527.2,224.0 526.7,220.0 526.0,216.0 525.7,214.0 524.9,210.0 524.0,206.0 523.5,204.0 522.5,200.0 521.9,198.0 520.7,194.0 520.0,192.0 518.6,188.0 517.8,186.0 516.2,182.0 515.4,180.0 514.0,177.0 512.6,174.0 511.5,172.0 510.0,169.1 508.3,166.0 507.1,164.0 505.8,162.0 504.0,159.2 502.0,156.2 500.4,154.0 498.9,152.0 497.3,150.0 495.7,148.0 494.0,146.0 492.0,143.8 490.0,141.7 488.0,139.6 486.0,137.7 484.0,135.8 481.9,134.0 479.5,132.0 477.0,130.0 474.4,128.0 472.0,126.3 470.0,125.0 468.0,123.7 465.2,122.0 462.0,120.2 460.0,119.1 457.8,118.0 454.0,116.2 452.0,115.3 448.7,114.0 446.0,113.0 443.0,112.0 440.0,111.1 436.1,110.0 434.0,109.5 430.0,108.6 426.5,108.0 424.0,107.6 420.0,107.1 416.0,106.8 412.0,106.5 408.0,106.4 404.0,106.5 400.0,106.6 396.0,106.9 392.0,107.3 388.0,107.8 386.0,108.1 382.0,108.8 378.0,109.6 376.0,110.0 372.0,111.0 368.2,112.0 366.0,112.6 362.0,113.8 360.0,114.5 356.0,115.8 354.0,116.5 350.1,118.0 348.0,118.8 345.0,120.0 342.0,121.3 340.0,122.1 336.0,123.9 334.0,124.8 331.5,126.0 328.0,127.7 326.0,128.7 323.4,130.0 320.0,131.7 318.0,132.8 315.6,134.0 312.0,135.9 310.0,137.0 308.0,138.0 304.1,140.0 302.0,141.1 300.0,142.1 296.0,143.9 294.0,144.9 291.4,146.0 288.0,147.4 286.0,148.2 282.0,150.0 280.0,151.0 278.0,152.2 275.5,154.0 273.4,156.0 271.7,158.0 270.0,160.7 268.5,164.0 267.8,166.0 266.9,170.0 266.3,174.0 266.0,176.0 265.3,180.0 264.3,184.0 263.8,186.0 263.1,190.0 262.8,194.0 263.2,198.0 264.0,201.1 265.1,204.0 266.0,206.0 268.0,209.6 269.4,212.0 270.5,214.0 272.0,216.3 274.0,219.4 275.8,222.0 277.3,224.0 278.8,226.0 280.3,228.0 282.0,230.4 284.0,233.1 286.0,235.7 287.8,238.0 289.4,240.0 291.1,242.0 292.8,244.0 294.5,246.0 296.2,248.0 298.0,250.5 300.0,253.4 301.6,256.0 302.6,258.0 304.0,261.4 304.7,264.0 305.2,268.0 305.3,272.0 305.2,276.0 305.0,280.0 304.6,284.0 304.0,287.6 303.3,290.0 302.0,294.0 301.3,296.0 300.0,299.1 298.7,302.0 297.6,304.0 296.0,306.8 294.0,309.8 292.3,312.0 290.6,314.0 288.7,316.0 286.6,318.0 284.5,320.0 282.2,322.0 280.0,323.9 278.0,325.5 276.0,327.1 274.0,328.7 272.0,330.1 269.4,332.0 266.5,334.0 264.0,335.7 262.0,337.0 260.0,338.2 257.0,340.0 254.0,341.7 252.0,342.8 249.8,344.0 246.0,345.9 244.0,346.9 241.6,348.0 238.0,349.5 236.0,350.3 232.0,351.8 230.0,352.5 226.0,353.8 224.0,354.4 220.0,355.4 217.4,356.0 214.0,356.7 210.0,357.3 206.0,357.7 202.0,358.0 200.0,358.0 196.0,358.0 194.0,357.9 190.0,357.6 186.0,357.0 182.0,356.2 180.0,355.7 176.0,354.5 174.0,353.8 170.0,352.2 168.0,351.2 165.7,350.0 162.3,348.0 160.0,346.4 158.0,345.0 156.0,343.4 154.0,341.6 152.0,339.7 150.0,337.6 148.0,335.3 146.0,332.7 144.1,330.0 142.9,328.0 141.7,326.0 140.0,322.8 138.7,320.0 137.9,318.0 136.4,314.0 135.8,312.0 134.7,308.0 134.0,304.6 133.5,302.0 133.0,298.0 132.7,294.0 132.6,290.0 132.6,286.0 132.9,282.0 133.3,278.0 133.9,274.0 134.3,272.0 135.1,268.0 136.0,264.5 136.7,262.0 138.0,258.0 138.7,256.0 140.0,252.5 141.0,250.0 142.0,247.7 143.7,244.0 144.7,242.0 146.0,239.5 147.9,236.0 149.1,234.0 150.2,232.0 152.0,229.2 154.0,226.0 155.4,224.0 156.7,222.0 158.1,220.0 160.0,217.4 162.0,214.6 164.0,212.0 165.5,210.0 167.0,208.0 168.5,206.0 170.0,204.0 172.0,201.4 174.0,198.7 176.0,196.0 177.4,194.0 178.8,192.0 180.2,190.0 182.0,187.1 183.9,184.0 185.0,182.0 186.1,180.0 188.0,176.2 189.0,174.0 190.0,171.7 191.5,168.0 192.3,166.0 193.8,162.0 194.6,160.0 196.0,157.0 197.2,154.0 198.0,151.7 199.0,148.0 199.5,144.0 199.8,140.0 200.0,137.7 200.5,134.0 201.0,130.0 201.6,126.0 202.0,124.0 203.0,120.0 204.0,116.5 204.8,114.0 205.9,110.0 206.4,108.0 207.3,104.0 208.0,100.6 208.7,98.0 209.9,94.0 210.4,92.0 211.5,88.0 212.0,85.8 212.9,82.0 214.0,78.0 214.6,76.0 215.6,72.0 216.0,70.0 216.8,66.0 217.7,62.0 218.3,60.0 219.8,56.0 220.4,54.0 221.5,50.0 222.0,46.4 222.2,44.0 222.5,40.0 222.9,36.0 223.6,32.0 224.0,29.6 224.7,26.0 225.5,22.0"/>
<polyline points="578.0,45.5 576.0,42.3 574.5,40.0 573.2,38.0 571.9,36.0 570.0,33.1 568.0,30.2 566.5,28.0 565.1,26.0 563.6,24.0 562.0,21.8"/>
<polyline points="528.4,418.0 530.0,416.0 532.0,413.6 534.0,411.1 536.0,408.7 538.0,406.3 539.9,404.0 541.5,402.0 543.1,400.0 544.8,398.0 546.4,396.0 548.0,393.9 550.0,391.4 552.0,388.8 554.0,386.2 555.6,384.0 557.1,382.0 558.6,380.0 560.0,378.0 562.0,375.3 564.0,372.4 565.7,370.0 567.0,368.0 568.4,366.0 570.0,363.5 572.0,360.4 573.5,358.0 574.8,356.0 576.0,354.0 578.0,350.7"/></g>
<g fill="none" stroke="#1a1a1a" stroke-width="1.6" clip-path="url(#cS)"><polyline points="533.3,638.0 531.6,636.0 529.9,634.0 528.0,631.8 526.0,629.5 524.0,627.2 522.0,624.8 520.0,622.5 518.0,620.3 516.0,618.0 514.2,616.0 512.4,614.0 510.6,612.0 508.7,610.0 506.7,608.0 504.7,606.0 502.6,604.0 500.5,602.0 498.1,600.0 496.0,598.3 494.0,596.7 492.0,595.2 490.0,593.9 486.8,592.0 484.0,590.5 482.0,589.4 479.4,588.0 476.4,586.0 474.0,584.1 472.0,582.4 470.0,580.6 468.0,578.9 466.0,577.2 464.0,575.5 462.0,573.8 459.9,572.0 457.5,570.0 455.2,568.0 452.8,566.0 450.4,564.0 448.2,562.0 446.1,560.0 444.2,558.0 442.2,556.0 440.0,554.0 438.0,552.5 436.0,550.9 434.0,549.1 432.0,546.9 430.0,544.4 428.4,542.0 427.4,540.0 426.0,536.7 425.4,534.0 425.3,530.0 425.2,526.0 424.5,522.0 424.0,519.9 422.8,516.0 422.0,513.5 420.7,510.0 420.0,508.0 418.3,504.0 417.5,502.0 416.0,498.7 414.8,496.0 413.9,494.0 412.3,490.0 411.6,488.0 410.6,484.0 410.2,480.0 410.0,477.8 409.8,474.0 409.6,470.0 409.3,466.0 409.0,462.0 408.4,458.0 408.0,455.5 407.3,452.0 406.6,448.0 406.4,444.0 406.3,440.0 406.2,436.0 406.0,433.8 405.6,430.0 405.0,426.0 404.1,422.0 403.6,420.0 402.3,416.0"/>
<polyline points="578.0,615.2 576.0,613.5 574.0,611.8 571.9,610.0 569.6,608.0 567.2,606.0 564.8,604.0 562.3,602.0 560.0,600.1 558.0,598.5 556.0,596.9 554.0,595.3 552.0,593.7 549.8,592.0 547.3,590.0 544.8,588.0 542.4,586.0 540.0,584.0 538.0,582.2 536.0,580.2 534.0,578.0 532.0,576.0 530.0,574.6 528.0,573.5 524.1,572.0 522.0,571.2 519.4,570.0 516.2,568.0 514.0,566.6 512.0,565.2 510.0,563.8 507.7,562.0 505.4,560.0 503.3,558.0 501.1,556.0 498.5,554.0 496.0,552.3 494.0,551.0 492.0,549.6 489.9,548.0 487.3,546.0 484.8,544.0 482.1,542.0 480.0,540.4 478.0,538.8 476.0,536.5 474.5,534.0 473.5,532.0 472.0,528.4 471.1,526.0 470.0,523.0 468.7,520.0 467.6,518.0 466.0,515.3 464.0,512.0 462.7,510.0 461.5,508.0 460.0,505.6 458.0,502.1 456.9,500.0 456.0,497.9 454.6,494.0 454.0,492.0 452.9,488.0 452.0,484.7 451.3,482.0 450.3,478.0 449.6,476.0 448.1,472.0 447.5,470.0 446.7,466.0 446.8,462.0 447.2,458.0 447.7,454.0 448.0,451.9 448.3,448.0 448.2,444.0 448.0,441.5 447.5,438.0 446.9,434.0 446.2,430.0 446.0,427.2 445.9,424.0 445.7,420.0 445.4,416.0"/>
<polyline points="578.0,544.5 576.0,543.0 574.0,541.6 571.8,540.0 569.0,538.0 566.2,536.0 564.0,534.5 562.0,533.2 560.0,531.9 557.0,530.0 554.0,528.3 552.0,527.3 549.3,526.0 546.0,524.7 544.0,523.9 540.0,522.6 538.0,521.9 534.0,520.2 532.0,519.0 530.0,517.6 528.0,515.8 526.0,514.0 523.9,512.0 522.0,510.0 520.0,508.0 517.8,506.0 515.5,504.0 513.0,502.0 510.5,500.0 508.2,498.0 506.1,496.0 504.2,494.0 502.5,492.0 500.8,490.0 499.2,488.0 497.5,486.0 495.8,484.0 494.0,481.8 492.0,478.9 490.5,476.0 489.9,474.0 489.6,470.0 489.9,466.0 490.2,464.0 490.8,460.0 491.0,456.0 491.0,452.0 490.9,448.0 491.0,444.0 491.6,440.0 492.1,438.0 493.2,434.0 494.0,430.2 494.4,428.0 494.9,424.0 495.2,420.0 495.4,416.0"/></g>
<polyline points="133.0,83.0 165.0,60.0 190.0,45.0 203.0,40.0 217.0,38.0 262.0,98.0 308.0,163.4 357.0,228.0 407.0,291.0 440.0,351.0 476.0,418.4 523.0,485.0 547.0,560.0 550.0,566.0 549.5,590.0 536.0,596.0 511.5,610.0 485.0,624.0 474.0,616.0 348.0,423.0 346.0,418.4 318.7,370.0 163.0,130.0 133.0,83.0" fill="none" stroke="#000" stroke-width="3" stroke-linejoin="round"/>
<polyline points="342.0,418.4 479.0,418.4" fill="none" stroke="#000" stroke-width="3"/>
<path d="M123.0 76.0L142.0 76.0L132.5 93.0ZM163.5 142.5L182.5 142.5L173.0 159.5ZM204.0 212.2L223.0 212.2L213.5 229.2ZM251.5 278.0L270.5 278.0L261.0 295.0ZM294.5 348.4L313.5 348.4L304.0 365.4ZM157.5 54.0L176.5 54.0L167.0 71.0ZM185.5 39.0L204.5 39.0L195.0 56.0ZM193.5 33.0L212.5 33.0L203.0 50.0ZM204.0 26.5L223.0 26.5L213.5 43.5ZM252.5 91.0L271.5 91.0L262.0 108.0ZM298.5 156.4L317.5 156.4L308.0 173.4ZM347.5 221.4L366.5 221.4L357.0 238.4ZM399.5 283.4L418.5 283.4L409.0 300.4ZM431.1 344.0L450.1 344.0L440.6 361.0ZM337.0 415.0L356.0 415.0L346.5 432.0ZM378.0 415.0L397.0 415.0L387.5 432.0ZM418.2 415.0L437.2 415.0L427.7 432.0ZM434.4 415.0L453.4 415.0L443.9 432.0ZM442.8 415.0L461.8 415.0L452.3 432.0ZM467.5 412.0L486.5 412.0L477.0 429.0ZM471.5 411.0L490.5 411.0L481.0 428.0ZM382.1 483.8L401.1 483.8L391.6 500.8ZM429.2 550.3L448.2 550.3L438.7 567.3ZM475.5 618.0L494.5 618.0L485.0 635.0ZM515.1 479.0L534.1 479.0L524.6 496.0ZM540.5 559.0L559.5 559.0L550.0 576.0ZM540.5 569.0L559.5 569.0L550.0 586.0ZM540.0 583.0L559.0 583.0L549.5 600.0ZM526.5 589.0L545.5 589.0L536.0 606.0ZM502.0 603.0L521.0 603.0L511.5 620.0Z" fill="#fff" stroke="#222" stroke-width="1.5" stroke-linejoin="miter"/>
<polyline points="282.3,13.0 287.6,17.0 292.0,23.2 292.0,27.6 296.4,32.8 300.7,41.6 299.9,47.8 305.1,54.8 311.3,68.0 309.5,71.5 314.8,76.8 317.4,82.9 322.7,88.2 331.5,94.3 340.3,103.1 348.2,111.9 351.7,118.9 352.6,128.6 357.8,133.0 361.6,135.3 366.9,142.3 367.8,149.3 366.0,156.4 370.4,162.5 375.7,170.4 370.4,172.2 377.4,177.4 378.3,186.2 384.5,193.2 392.4,202.0 396.8,209.0 397.6,219.6 403.8,230.1 408.2,238.9 409.0,249.5 412.5,257.0 411.6,262.3 417.8,269.3 420.4,276.4 427.4,286.9 432.7,295.7 439.7,306.2 446.8,315.0 449.4,322.0 452.9,329.0 455.5,336.1 458.2,344.9 459.0,351.0 453.8,355.4 457.3,358.0 467.8,362.4 476.4,370.0 484.3,377.0 490.4,385.8 492.2,394.6 494.8,401.6 494.8,410.4 495.7,419.2 502.7,422.7 506.2,429.7 513.2,433.2 520.3,436.8 523.8,443.8 523.8,454.3 530.8,457.8 536.1,464.9 539.6,471.9 544.9,478.9 548.4,489.5 548.3,495.3 556.2,504.1 565.0,514.6 571.2,525.1 572.0,535.7 570.3,544.5 567.6,556.8 566.8,563.8 560.6,565.5 565.0,574.3 565.9,584.9 566.8,591.9 573.8,598.9 576.0,600.5 583.3,609.7 590.7,620.7 598.0,633.5 612.7,642.7 623.7,648.2 633.0,657.0" fill="none" stroke="#000" stroke-width="2.8" stroke-linejoin="round"/>
<g font-family="Liberation Sans" font-weight="bold" fill="#000" stroke="#000" stroke-width="0.6"><text x="319.0" y="73.0" font-size="24.5" textLength="169.0" lengthAdjust="spacingAndGlyphs">MALABRIGO</text><text x="389.4" y="179.6" font-size="24.5" textLength="146.6" lengthAdjust="spacingAndGlyphs">CHIMBOTE</text><text x="459.7" y="350.3" font-size="24.5" textLength="121.2" lengthAdjust="spacingAndGlyphs">HUACHO</text><text x="500.0" y="419.0" font-size="24.5" textLength="108.0" lengthAdjust="spacingAndGlyphs">CALLAO</text><text x="573.0" y="555.4" font-size="24.5" textLength="83.6" lengthAdjust="spacingAndGlyphs">PISCO</text><text x="615.2" y="65.4" font-size="32.5">A</text></g>
<rect x="106.6" y="14.0" width="562.1" height="642.4" fill="none" stroke="#8a8a8a" stroke-width="2"/><path d="M267.2 656.4v-7M267.2 14.0v7M427.8 656.4v-7M427.8 14.0v7M588.4 656.4v-7M588.4 14.0v7M106.6 94.3h7M668.7 94.3h-7M106.6 174.6h7M668.7 174.6h-7M106.6 254.9h7M668.7 254.9h-7M106.6 335.2h7M668.7 335.2h-7M106.6 415.5h7M668.7 415.5h-7M106.6 495.8h7M668.7 495.8h-7M106.6 576.1h7M668.7 576.1h-7" stroke="#555" stroke-width="1.6" fill="none"/></g>
<g transform="translate(607.0,0)"><g clip-path="url(#axclip)"><polygon points="282.3,13.0 287.6,17.0 292.0,23.2 292.0,27.6 296.4,32.8 300.7,41.6 299.9,47.8 305.1,54.8 311.3,68.0 309.5,71.5 314.8,76.8 317.4,82.9 322.7,88.2 331.5,94.3 340.3,103.1 348.2,111.9 351.7,118.9 352.6,128.6 357.8,133.0 361.6,135.3 366.9,142.3 367.8,149.3 366.0,156.4 370.4,162.5 375.7,170.4 370.4,172.2 377.4,177.4 378.3,186.2 384.5,193.2 392.4,202.0 396.8,209.0 397.6,219.6 403.8,230.1 408.2,238.9 409.0,249.5 412.5,257.0 411.6,262.3 417.8,269.3 420.4,276.4 427.4,286.9 432.7,295.7 439.7,306.2 446.8,315.0 449.4,322.0 452.9,329.0 455.5,336.1 458.2,344.9 459.0,351.0 453.8,355.4 457.3,358.0 467.8,362.4 476.4,370.0 484.3,377.0 490.4,385.8 492.2,394.6 494.8,401.6 494.8,410.4 495.7,419.2 502.7,422.7 506.2,429.7 513.2,433.2 520.3,436.8 523.8,443.8 523.8,454.3 530.8,457.8 536.1,464.9 539.6,471.9 544.9,478.9 548.4,489.5 548.3,495.3 556.2,504.1 565.0,514.6 571.2,525.1 572.0,535.7 570.3,544.5 567.6,556.8 566.8,563.8 560.6,565.5 565.0,574.3 565.9,584.9 566.8,591.9 573.8,598.9 576.0,600.5 583.3,609.7 590.7,620.7 598.0,633.5 612.7,642.7 623.7,648.2 633.0,657.0 668.7,657.0 668.7,13.0" fill="#bfbfbf"/>
<clipPath id="dclip2"><polygon points="128.0,84.0 140.0,69.0 165.0,54.0 190.0,40.0 203.0,36.0 219.0,34.0 226.0,40.0 264.0,92.0 312.0,158.0 345.0,200.0 348.0,214.0 357.0,226.0 407.0,289.0 440.0,349.0 478.0,416.0 478.0,418.4 346.0,418.4 318.7,370.0 163.0,130.0 133.0,86.0"/><polygon points="346.0,418.4 478.0,418.4 490.0,430.0 525.0,483.0 548.0,558.0 552.0,566.0 551.0,590.0 538.0,599.0 520.0,612.0 505.0,621.0 485.0,627.0 470.0,620.0 468.0,616.0 341.0,424.0"/></clipPath>
<g clip-path="url(#dclip2)"><g filter="url(#blur)"><path fill="#000099" d="M404 528h8v4h-8zM408 532h4v4h-4zM412 536h4v4h-4z"/>
<path fill="#0000a2" d="M400 520h4v4h-4zM404 524h8v4h-8zM412 528h4v4h-4zM412 532h4v4h-4zM412 540h4v4h-4z"/>
<path fill="#0000aa" d="M396 512h4v4h-4zM396 516h8v4h-8zM404 520h8v4h-8zM412 524h8v4h-8zM416 528h4v4h-4zM416 532h4v4h-4zM416 536h4v4h-4zM416 540h4v4h-4z"/>
<path fill="#0000b3" d="M376 360h4v4h-4zM356 364h8v4h-8zM372 364h12v4h-12zM352 368h32v4h-32zM352 372h32v4h-32zM352 376h24v4h-24zM388 504h8v4h-8zM392 508h8v4h-8zM400 512h4v4h-4zM404 516h8v4h-8zM412 520h8v4h-8zM420 528h4v4h-4zM420 532h4v4h-4zM420 536h4v4h-4zM416 544h4v4h-4z"/>
<path fill="#0000bb" d="M352 360h24v4h-24zM380 360h8v4h-8zM348 364h8v4h-8zM364 364h8v4h-8zM384 364h4v4h-4zM348 368h4v4h-4zM384 368h8v4h-8zM344 372h8v4h-8zM384 372h4v4h-4zM344 376h8v4h-8zM376 376h12v4h-12zM348 380h32v4h-32zM352 384h16v4h-16zM380 492h4v4h-4zM384 496h4v4h-4zM388 500h8v4h-8zM396 504h4v4h-4zM400 508h8v4h-8zM404 512h8v4h-8zM412 516h8v4h-8zM420 524h4v4h-4zM420 540h4v4h-4z"/>
<path fill="#0000c3" d="M368 356h16v4h-16zM348 360h4v4h-4zM388 360h4v4h-4zM344 364h4v4h-4zM388 364h4v4h-4zM344 368h4v4h-4zM392 368h4v4h-4zM340 372h4v4h-4zM388 372h4v4h-4zM340 376h4v4h-4zM388 376h4v4h-4zM340 380h8v4h-8zM380 380h8v4h-8zM340 384h12v4h-12zM368 384h12v4h-12zM344 388h28v4h-28zM376 484h4v4h-4zM380 488h4v4h-4zM384 492h8v4h-8zM388 496h8v4h-8zM396 500h4v4h-4zM400 504h8v4h-8zM408 508h4v4h-4zM412 512h8v4h-8zM420 520h4v4h-4zM424 528h4v4h-4zM424 532h4v4h-4zM424 536h4v4h-4zM420 544h4v4h-4z"/>
<path fill="#0000cc" d="M348 356h20v4h-20zM384 356h8v4h-8zM344 360h4v4h-4zM392 360h4v4h-4zM340 364h4v4h-4zM392 364h4v4h-4zM340 368h4v4h-4zM336 372h4v4h-4zM392 372h4v4h-4zM332 376h8v4h-8zM392 376h4v4h-4zM332 380h8v4h-8zM388 380h4v4h-4zM332 384h8v4h-8zM380 384h8v4h-8zM336 388h8v4h-8zM372 388h12v4h-12zM336 392h32v4h-32zM344 396h12v4h-12zM368 472h4v4h-4zM372 476h4v4h-4zM372 480h8v4h-8zM380 484h8v4h-8zM384 488h12v4h-12zM392 492h8v4h-8zM396 496h8v4h-8zM400 500h8v4h-8zM408 504h4v4h-4zM412 508h4v4h-4zM420 516h4v4h-4zM424 524h4v4h-4zM424 540h4v4h-4zM420 548h4v4h-4z"/>
<path fill="#0000d4" d="M356 352h36v4h-36zM344 356h4v4h-4zM392 356h4v4h-4zM340 360h4v4h-4zM396 360h4v4h-4zM336 364h4v4h-4zM396 364h4v4h-4zM332 368h8v4h-8zM396 368h4v4h-4zM328 372h8v4h-8zM396 372h4v4h-4zM328 376h4v4h-4zM396 376h4v4h-4zM328 380h4v4h-4zM392 380h4v4h-4zM328 384h4v4h-4zM388 384h4v4h-4zM328 388h8v4h-8zM384 388h4v4h-4zM328 392h8v4h-8zM368 392h12v4h-12zM332 396h12v4h-12zM356 396h12v4h-12zM336 400h24v4h-24zM360 460h4v4h-4zM364 464h4v4h-4zM368 468h8v4h-8zM372 472h8v4h-8zM376 476h12v4h-12zM380 480h12v4h-12zM388 484h8v4h-8zM396 488h4v4h-4zM400 492h4v4h-4zM404 496h4v4h-4zM408 500h4v4h-4zM412 504h4v4h-4zM416 508h4v4h-4zM420 512h4v4h-4zM424 520h4v4h-4zM424 544h4v4h-4zM420 552h4v4h-4z"/>
<path fill="#0000dd" d="M348 352h8v4h-8zM392 352h4v4h-4zM340 356h4v4h-4zM396 356h4v4h-4zM336 360h4v4h-4zM400 360h4v4h-4zM328 364h8v4h-8zM400 364h4v4h-4zM324 368h8v4h-8zM400 368h4v4h-4zM324 372h4v4h-4zM400 372h4v4h-4zM324 376h4v4h-4zM400 376h4v4h-4zM320 380h8v4h-8zM396 380h4v4h-4zM324 384h4v4h-4zM392 384h4v4h-4zM324 388h4v4h-4zM388 388h8v4h-8zM380 392h8v4h-8zM328 396h4v4h-4zM368 396h12v4h-12zM332 400h4v4h-4zM360 400h8v4h-8zM332 404h28v4h-28zM336 408h16v4h-16zM336 420h4v4h-4zM336 424h4v4h-4zM340 428h4v4h-4zM344 436h4v4h-4zM348 440h4v4h-4zM352 448h4v4h-4zM356 452h4v4h-4zM360 456h8v4h-8zM364 460h8v4h-8zM368 464h12v4h-12zM376 468h12v4h-12zM380 472h12v4h-12zM388 476h12v4h-12zM392 480h8v4h-8zM396 484h8v4h-8zM400 488h8v4h-8zM404 492h4v4h-4zM408 496h4v4h-4zM412 500h4v4h-4zM416 504h4v4h-4zM420 508h4v4h-4zM424 516h4v4h-4zM428 528h4v4h-4zM428 532h4v4h-4zM428 536h4v4h-4zM424 548h4v4h-4z"/>
<path fill="#0000e6" d="M360 348h36v4h-36zM344 352h4v4h-4zM396 352h4v4h-4zM336 356h4v4h-4zM400 356h4v4h-4zM328 360h8v4h-8zM404 360h4v4h-4zM324 364h4v4h-4zM404 364h4v4h-4zM320 368h4v4h-4zM404 368h4v4h-4zM320 372h4v4h-4zM404 372h4v4h-4zM320 376h4v4h-4zM400 380h4v4h-4zM396 384h4v4h-4zM396 388h4v4h-4zM388 392h8v4h-8zM380 396h8v4h-8zM368 400h12v4h-12zM360 404h12v4h-12zM352 408h12v4h-12zM340 412h16v4h-16zM340 416h4v4h-4zM340 420h4v4h-4zM340 424h8v4h-8zM344 428h4v4h-4zM344 432h8v4h-8zM348 436h4v4h-4zM352 440h4v4h-4zM352 444h8v4h-8zM356 448h8v4h-8zM360 452h8v4h-8zM368 456h8v4h-8zM372 460h12v4h-12zM380 464h12v4h-12zM388 468h12v4h-12zM392 472h12v4h-12zM400 476h4v4h-4zM400 480h8v4h-8zM404 484h4v4h-4zM408 488h4v4h-4zM408 492h8v4h-8zM412 496h4v4h-4zM416 500h4v4h-4zM420 504h4v4h-4zM424 512h4v4h-4zM428 524h4v4h-4zM428 540h4v4h-4z"/>
<path fill="#0000ee" d="M348 348h12v4h-12zM396 348h4v4h-4zM340 352h4v4h-4zM400 352h4v4h-4zM328 356h8v4h-8zM404 356h4v4h-4zM324 360h4v4h-4zM320 364h4v4h-4zM408 364h4v4h-4zM316 368h4v4h-4zM408 368h4v4h-4zM316 372h4v4h-4zM404 376h4v4h-4zM404 380h4v4h-4zM400 384h4v4h-4zM400 388h4v4h-4zM396 392h4v4h-4zM388 396h8v4h-8zM380 400h8v4h-8zM372 404h12v4h-12zM364 408h12v4h-12zM356 412h12v4h-12zM344 416h16v4h-16zM344 420h4v4h-4zM348 424h4v4h-4zM348 428h4v4h-4zM352 432h4v4h-4zM352 436h8v4h-8zM356 440h4v4h-4zM360 444h8v4h-8zM364 448h8v4h-8zM368 452h12v4h-12zM376 456h16v4h-16zM384 460h12v4h-12zM392 464h8v4h-8zM400 468h4v4h-4zM404 472h4v4h-4zM404 476h4v4h-4zM408 480h4v4h-4zM408 484h4v4h-4zM412 488h4v4h-4zM416 496h4v4h-4zM420 500h4v4h-4zM424 508h4v4h-4zM428 520h4v4h-4zM428 544h4v4h-4zM424 552h4v4h-4z"/>
<path fill="#0000f6" d="M376 344h24v4h-24zM344 348h4v4h-4zM400 348h8v4h-8zM332 352h8v4h-8zM404 352h4v4h-4zM324 356h4v4h-4zM408 356h4v4h-4zM320 360h4v4h-4zM408 360h4v4h-4zM316 364h4v4h-4zM408 372h4v4h-4zM408 376h4v4h-4zM408 380h4v4h-4zM404 384h4v4h-4zM404 388h4v4h-4zM400 392h4v4h-4zM396 396h4v4h-4zM388 400h8v4h-8zM384 404h8v4h-8zM376 408h8v4h-8zM368 412h8v4h-8zM360 416h12v4h-12zM348 420h8v4h-8zM352 424h4v4h-4zM352 428h8v4h-8zM356 432h4v4h-4zM360 436h4v4h-4zM360 440h12v4h-12zM368 444h8v4h-8zM372 448h16v4h-16zM380 452h16v4h-16zM392 456h8v4h-8zM396 460h8v4h-8zM400 464h8v4h-8zM404 468h4v4h-4zM408 472h4v4h-4zM408 476h4v4h-4zM412 480h4v4h-4zM412 484h4v4h-4zM416 488h4v4h-4zM416 492h4v4h-4zM420 496h4v4h-4zM424 504h4v4h-4zM428 516h4v4h-4zM428 548h4v4h-4z"/>
<path fill="#0000ff" d="M392 340h4v4h-4zM352 344h24v4h-24zM400 344h8v4h-8zM340 348h4v4h-4zM408 348h4v4h-4zM328 352h4v4h-4zM408 352h4v4h-4zM320 356h4v4h-4zM316 360h4v4h-4zM412 360h4v4h-4zM312 364h4v4h-4zM412 364h4v4h-4zM312 368h4v4h-4zM412 368h4v4h-4zM412 372h4v4h-4zM412 376h4v4h-4zM408 384h4v4h-4zM404 392h4v4h-4zM400 396h4v4h-4zM396 400h4v4h-4zM392 404h4v4h-4zM384 408h8v4h-8zM376 412h12v4h-12zM372 416h8v4h-8zM356 420h4v4h-4zM356 424h8v4h-8zM360 428h8v4h-8zM360 432h8v4h-8zM364 436h12v4h-12zM372 440h12v4h-12zM376 444h16v4h-16zM388 448h8v4h-8zM396 452h4v4h-4zM400 456h4v4h-4zM404 460h4v4h-4zM408 464h4v4h-4zM408 468h4v4h-4zM412 472h4v4h-4zM412 476h4v4h-4zM416 484h4v4h-4zM420 492h4v4h-4zM424 500h4v4h-4zM428 512h4v4h-4zM432 532h4v4h-4zM432 536h4v4h-4zM432 540h4v4h-4zM424 556h4v4h-4z"/>
<path fill="#0009ff" d="M380 340h12v4h-12zM396 340h12v4h-12zM348 344h4v4h-4zM408 344h4v4h-4zM336 348h4v4h-4zM320 352h8v4h-8zM412 352h4v4h-4zM316 356h4v4h-4zM412 356h4v4h-4zM312 360h4v4h-4zM416 360h4v4h-4zM416 364h4v4h-4zM416 368h4v4h-4zM416 372h4v4h-4zM412 380h4v4h-4zM412 384h4v4h-4zM408 388h4v4h-4zM408 392h4v4h-4zM404 396h4v4h-4zM400 400h4v4h-4zM396 404h4v4h-4zM392 408h4v4h-4zM388 412h4v4h-4zM380 416h8v4h-8zM360 420h8v4h-8zM364 424h8v4h-8zM368 428h8v4h-8zM368 432h16v4h-16zM376 436h12v4h-12zM384 440h12v4h-12zM392 444h8v4h-8zM396 448h8v4h-8zM400 452h8v4h-8zM404 456h4v4h-4zM408 460h4v4h-4zM412 468h4v4h-4zM416 476h4v4h-4zM416 480h4v4h-4zM420 488h4v4h-4zM424 496h4v4h-4zM428 508h4v4h-4zM432 524h4v4h-4zM432 528h4v4h-4zM432 544h4v4h-4zM428 552h4v4h-4z"/>
<path fill="#0011ff" d="M388 336h20v4h-20zM372 340h8v4h-8zM408 340h4v4h-4zM344 344h4v4h-4zM412 344h4v4h-4zM328 348h8v4h-8zM412 348h4v4h-4zM416 352h4v4h-4zM416 356h4v4h-4zM420 364h4v4h-4zM420 368h4v4h-4zM416 376h4v4h-4zM416 380h4v4h-4zM412 388h4v4h-4zM412 392h4v4h-4zM408 396h4v4h-4zM404 400h4v4h-4zM400 404h8v4h-8zM396 408h8v4h-8zM392 412h8v4h-8zM388 416h8v4h-8zM368 420h12v4h-12zM372 424h12v4h-12zM376 428h12v4h-12zM384 432h12v4h-12zM388 436h12v4h-12zM396 440h8v4h-8zM400 444h4v4h-4zM404 448h4v4h-4zM408 452h4v4h-4zM408 456h4v4h-4zM412 460h4v4h-4zM412 464h4v4h-4zM416 472h4v4h-4zM420 484h4v4h-4zM424 492h4v4h-4zM428 504h4v4h-4zM432 520h4v4h-4z"/>
<path fill="#0019ff" d="M396 332h12v4h-12zM384 336h4v4h-4zM408 336h8v4h-8zM352 340h20v4h-20zM412 340h8v4h-8zM340 344h4v4h-4zM416 344h4v4h-4zM324 348h4v4h-4zM416 348h4v4h-4zM316 352h4v4h-4zM420 352h4v4h-4zM312 356h4v4h-4zM420 356h4v4h-4zM308 360h4v4h-4zM420 360h4v4h-4zM420 372h4v4h-4zM420 376h4v4h-4zM420 380h4v4h-4zM416 384h4v4h-4zM416 388h4v4h-4zM412 396h4v4h-4zM408 400h4v4h-4zM408 404h4v4h-4zM404 408h4v4h-4zM400 412h4v4h-4zM396 416h4v4h-4zM380 420h12v4h-12zM384 424h12v4h-12zM388 428h12v4h-12zM396 432h4v4h-4zM400 436h4v4h-4zM404 440h4v4h-4zM404 444h4v4h-4zM408 448h4v4h-4zM412 456h4v4h-4zM416 468h4v4h-4zM420 480h4v4h-4zM424 488h4v4h-4zM428 500h4v4h-4zM432 516h4v4h-4zM432 548h4v4h-4zM428 556h4v4h-4z"/>
<path fill="#0022ff" d="M120 84h4v4h-4zM388 332h8v4h-8zM408 332h8v4h-8zM380 336h4v4h-4zM416 336h4v4h-4zM348 340h4v4h-4zM420 340h4v4h-4zM332 344h8v4h-8zM420 344h4v4h-4zM320 348h4v4h-4zM420 348h4v4h-4zM424 352h4v4h-4zM424 356h4v4h-4zM424 360h4v4h-4zM424 364h4v4h-4zM424 368h4v4h-4zM424 372h4v4h-4zM424 376h4v4h-4zM420 384h4v4h-4zM420 388h4v4h-4zM416 392h4v4h-4zM416 396h4v4h-4zM412 400h4v4h-4zM412 404h4v4h-4zM408 408h4v4h-4zM404 412h4v4h-4zM400 416h4v4h-4zM392 420h4v4h-4zM396 424h4v4h-4zM400 428h4v4h-4zM400 432h8v4h-8zM404 436h4v4h-4zM408 440h4v4h-4zM408 444h4v4h-4zM412 452h4v4h-4zM416 464h4v4h-4zM420 476h4v4h-4zM424 484h4v4h-4zM428 496h4v4h-4zM432 512h4v4h-4z"/>
<path fill="#002aff" d="M124 80h4v4h-4zM124 84h4v4h-4zM392 328h28v4h-28zM384 332h4v4h-4zM416 332h8v4h-8zM372 336h8v4h-8zM420 336h8v4h-8zM344 340h4v4h-4zM424 340h4v4h-4zM328 344h4v4h-4zM424 344h4v4h-4zM316 348h4v4h-4zM424 348h8v4h-8zM312 352h4v4h-4zM428 352h4v4h-4zM308 356h4v4h-4zM428 356h4v4h-4zM428 360h8v4h-8zM428 364h8v4h-8zM428 368h4v4h-4zM428 372h4v4h-4zM428 376h4v4h-4zM424 380h4v4h-4zM424 384h4v4h-4zM424 388h4v4h-4zM420 392h4v4h-4zM420 396h4v4h-4zM416 400h4v4h-4zM416 404h4v4h-4zM412 408h4v4h-4zM408 412h4v4h-4zM404 416h8v4h-8zM396 420h8v4h-8zM400 424h8v4h-8zM404 428h4v4h-4zM408 432h4v4h-4zM408 436h4v4h-4zM412 444h4v4h-4zM412 448h4v4h-4zM416 456h4v4h-4zM416 460h4v4h-4zM420 468h4v4h-4zM420 472h4v4h-4zM428 492h4v4h-4zM432 508h4v4h-4zM436 532h4v4h-4zM436 536h4v4h-4zM436 540h4v4h-4zM436 544h4v4h-4zM432 552h4v4h-4zM428 560h4v4h-4z"/>
<path fill="#0033ff" d="M128 76h4v4h-4zM128 80h4v4h-4zM128 84h4v4h-4zM396 324h24v4h-24zM388 328h4v4h-4zM420 328h8v4h-8zM380 332h4v4h-4zM424 332h8v4h-8zM356 336h16v4h-16zM428 336h4v4h-4zM340 340h4v4h-4zM428 340h8v4h-8zM320 344h8v4h-8zM428 344h8v4h-8zM432 348h4v4h-4zM432 352h4v4h-4zM432 356h8v4h-8zM436 360h4v4h-4zM436 364h4v4h-4zM432 368h4v4h-4zM432 372h4v4h-4zM432 376h4v4h-4zM428 380h4v4h-4zM428 384h4v4h-4zM424 392h4v4h-4zM424 396h4v4h-4zM420 400h4v4h-4zM420 404h4v4h-4zM416 408h4v4h-4zM412 412h4v4h-4zM412 416h4v4h-4zM404 420h4v4h-4zM408 428h4v4h-4zM412 436h4v4h-4zM412 440h4v4h-4zM416 452h4v4h-4zM420 464h4v4h-4zM424 480h4v4h-4zM428 488h4v4h-4zM432 504h4v4h-4zM436 528h4v4h-4zM428 564h4v4h-4z"/>
<path fill="#003cff" d="M132 76h4v4h-4zM132 80h4v4h-4zM132 84h4v4h-4zM132 88h4v4h-4zM404 320h20v4h-20zM392 324h4v4h-4zM420 324h12v4h-12zM384 328h4v4h-4zM428 328h8v4h-8zM376 332h4v4h-4zM432 332h4v4h-4zM348 336h8v4h-8zM432 336h8v4h-8zM332 340h8v4h-8zM436 340h4v4h-4zM436 344h8v4h-8zM312 348h4v4h-4zM436 348h8v4h-8zM308 352h4v4h-4zM436 352h8v4h-8zM304 356h4v4h-4zM440 356h4v4h-4zM440 360h4v4h-4zM440 364h4v4h-4zM436 368h4v4h-4zM436 372h4v4h-4zM432 380h4v4h-4zM432 384h4v4h-4zM428 388h4v4h-4zM428 392h4v4h-4zM424 400h4v4h-4zM420 408h4v4h-4zM416 412h4v4h-4zM416 416h4v4h-4zM408 420h4v4h-4zM408 424h4v4h-4zM412 428h4v4h-4zM412 432h4v4h-4zM416 444h4v4h-4zM416 448h4v4h-4zM420 460h4v4h-4zM424 476h4v4h-4zM432 500h4v4h-4zM436 524h4v4h-4zM436 548h4v4h-4zM432 556h4v4h-4z"/>
<path fill="#0044ff" d="M132 68h4v4h-4zM132 72h4v4h-4zM136 80h4v4h-4zM136 84h4v4h-4zM132 92h4v4h-4zM416 316h12v4h-12zM396 320h8v4h-8zM424 320h8v4h-8zM388 324h4v4h-4zM380 328h4v4h-4zM372 332h4v4h-4zM344 336h4v4h-4zM328 340h4v4h-4zM316 344h4v4h-4zM444 352h4v4h-4zM444 356h4v4h-4zM444 360h4v4h-4zM444 364h4v4h-4zM440 368h4v4h-4zM440 372h4v4h-4zM436 376h4v4h-4zM436 380h4v4h-4zM432 388h4v4h-4zM432 392h4v4h-4zM428 396h4v4h-4zM428 400h4v4h-4zM424 404h4v4h-4zM424 408h4v4h-4zM420 412h4v4h-4zM420 416h4v4h-4zM412 424h4v4h-4zM416 436h4v4h-4zM416 440h4v4h-4zM420 456h4v4h-4zM424 472h4v4h-4zM428 484h4v4h-4zM432 496h4v4h-4zM436 520h4v4h-4z"/>
<path fill="#004dff" d="M136 68h4v4h-4zM136 72h4v4h-4zM136 76h4v4h-4zM136 88h4v4h-4zM136 92h4v4h-4zM136 96h4v4h-4zM420 312h4v4h-4zM404 316h12v4h-12zM392 320h4v4h-4zM384 324h4v4h-4zM360 332h12v4h-12zM340 336h4v4h-4zM324 340h4v4h-4zM308 348h4v4h-4zM304 352h4v4h-4zM448 356h4v4h-4zM448 360h4v4h-4zM448 364h4v4h-4zM444 368h4v4h-4zM444 372h4v4h-4zM440 376h4v4h-4zM440 380h4v4h-4zM436 384h4v4h-4zM436 388h4v4h-4zM436 392h4v4h-4zM432 396h4v4h-4zM432 400h4v4h-4zM428 404h4v4h-4zM428 408h4v4h-4zM424 412h4v4h-4zM424 416h4v4h-4zM412 420h4v4h-4zM416 428h4v4h-4zM416 432h4v4h-4zM420 452h4v4h-4zM424 468h4v4h-4zM428 480h4v4h-4zM432 492h4v4h-4zM436 516h4v4h-4zM436 552h4v4h-4zM432 560h4v4h-4z"/>
<path fill="#0055ff" d="M136 64h4v4h-4zM140 72h4v4h-4zM140 76h4v4h-4zM140 80h4v4h-4zM140 84h4v4h-4zM140 88h4v4h-4zM412 312h8v4h-8zM396 316h8v4h-8zM388 320h4v4h-4zM380 324h4v4h-4zM376 328h4v4h-4zM352 332h8v4h-8zM336 336h4v4h-4zM320 340h4v4h-4zM312 344h4v4h-4zM452 364h4v4h-4zM448 368h4v4h-4zM448 372h4v4h-4zM444 376h4v4h-4zM444 380h4v4h-4zM440 384h4v4h-4zM440 388h4v4h-4zM436 396h4v4h-4zM436 400h4v4h-4zM432 404h4v4h-4zM432 408h4v4h-4zM428 412h4v4h-4zM428 416h4v4h-4zM416 424h4v4h-4zM420 444h4v4h-4zM420 448h4v4h-4zM424 464h4v4h-4zM428 476h4v4h-4zM432 488h4v4h-4zM436 508h4v4h-4zM436 512h4v4h-4zM440 536h4v4h-4zM440 540h4v4h-4zM432 564h4v4h-4z"/>
<path fill="#005eff" d="M140 64h4v4h-4zM140 68h4v4h-4zM144 72h4v4h-4zM144 76h4v4h-4zM144 80h4v4h-4zM144 84h4v4h-4zM140 92h4v4h-4zM140 96h4v4h-4zM416 308h8v4h-8zM404 312h8v4h-8zM388 316h8v4h-8zM384 320h4v4h-4zM372 328h4v4h-4zM344 332h8v4h-8zM328 336h8v4h-8zM316 340h4v4h-4zM304 348h4v4h-4zM452 368h4v4h-4zM452 372h4v4h-4zM448 376h4v4h-4zM448 380h4v4h-4zM444 384h4v4h-4zM444 388h4v4h-4zM440 392h4v4h-4zM440 396h4v4h-4zM440 400h4v4h-4zM436 404h4v4h-4zM436 408h4v4h-4zM432 412h4v4h-4zM432 416h4v4h-4zM416 420h4v4h-4zM420 432h4v4h-4zM420 436h4v4h-4zM420 440h4v4h-4zM424 460h4v4h-4zM428 472h4v4h-4zM432 484h4v4h-4zM436 504h4v4h-4zM440 532h4v4h-4zM440 544h4v4h-4zM436 556h4v4h-4z"/>
<path fill="#0066ff" d="M144 68h4v4h-4zM148 80h4v4h-4zM144 88h4v4h-4zM144 92h4v4h-4zM140 100h4v4h-4zM140 104h4v4h-4zM416 304h4v4h-4zM408 308h8v4h-8zM396 312h8v4h-8zM376 324h4v4h-4zM364 328h8v4h-8zM340 332h4v4h-4zM324 336h4v4h-4zM308 344h4v4h-4zM456 372h4v4h-4zM452 376h4v4h-4zM452 380h4v4h-4zM448 384h4v4h-4zM448 388h4v4h-4zM444 392h4v4h-4zM444 396h4v4h-4zM440 404h4v4h-4zM440 408h4v4h-4zM436 412h4v4h-4zM436 416h4v4h-4zM420 424h4v4h-4zM420 428h4v4h-4zM424 456h4v4h-4zM436 496h4v4h-4zM436 500h4v4h-4zM440 528h4v4h-4zM440 548h4v4h-4zM432 568h4v4h-4z"/>
<path fill="#006eff" d="M144 60h4v4h-4zM144 64h4v4h-4zM148 72h4v4h-4zM148 76h4v4h-4zM148 84h4v4h-4zM144 96h4v4h-4zM412 304h4v4h-4zM404 308h4v4h-4zM392 312h4v4h-4zM384 316h4v4h-4zM380 320h4v4h-4zM352 328h12v4h-12zM336 332h4v4h-4zM320 336h4v4h-4zM312 340h4v4h-4zM456 376h4v4h-4zM456 380h4v4h-4zM452 384h4v4h-4zM452 388h4v4h-4zM448 392h4v4h-4zM448 396h4v4h-4zM444 400h4v4h-4zM444 404h4v4h-4zM444 408h4v4h-4zM440 412h4v4h-4zM440 416h4v4h-4zM420 420h4v4h-4zM424 444h4v4h-4zM424 448h4v4h-4zM424 452h4v4h-4zM428 468h4v4h-4zM432 480h4v4h-4zM436 492h4v4h-4z"/>
<path fill="#0077ff" d="M148 64h4v4h-4zM148 68h4v4h-4zM148 88h4v4h-4zM148 92h4v4h-4zM144 100h4v4h-4zM144 104h4v4h-4zM416 300h4v4h-4zM408 304h4v4h-4zM400 308h4v4h-4zM388 312h4v4h-4zM376 320h4v4h-4zM372 324h4v4h-4zM348 328h4v4h-4zM332 332h4v4h-4zM316 336h4v4h-4zM304 344h4v4h-4zM300 348h4v4h-4zM460 380h4v4h-4zM456 384h4v4h-4zM456 388h4v4h-4zM452 392h4v4h-4zM452 396h4v4h-4zM448 400h4v4h-4zM448 404h4v4h-4zM444 412h4v4h-4zM444 416h4v4h-4zM424 440h4v4h-4zM428 464h4v4h-4zM432 476h4v4h-4zM436 488h4v4h-4zM440 524h4v4h-4zM440 552h4v4h-4zM436 560h4v4h-4z"/>
<path fill="#0080ff" d="M148 56h4v4h-4zM148 60h4v4h-4zM152 72h4v4h-4zM152 76h4v4h-4zM152 80h4v4h-4zM152 84h4v4h-4zM148 96h4v4h-4zM144 108h4v4h-4zM412 300h4v4h-4zM404 304h4v4h-4zM396 308h4v4h-4zM384 312h4v4h-4zM380 316h4v4h-4zM364 324h8v4h-8zM344 328h4v4h-4zM328 332h4v4h-4zM308 340h4v4h-4zM460 384h8v4h-8zM460 388h4v4h-4zM456 392h4v4h-4zM456 396h4v4h-4zM452 400h4v4h-4zM452 404h4v4h-4zM448 408h4v4h-4zM448 412h4v4h-4zM448 416h4v4h-4zM424 424h4v4h-4zM424 428h4v4h-4zM424 432h4v4h-4zM424 436h4v4h-4zM428 460h4v4h-4zM436 484h4v4h-4zM440 516h4v4h-4zM440 520h4v4h-4zM436 564h4v4h-4z"/>
<path fill="#0088ff" d="M152 64h4v4h-4zM152 68h4v4h-4zM152 88h4v4h-4zM148 100h4v4h-4zM412 296h4v4h-4zM408 300h4v4h-4zM400 304h4v4h-4zM392 308h4v4h-4zM372 320h4v4h-4zM352 324h12v4h-12zM340 328h4v4h-4zM320 332h8v4h-8zM312 336h4v4h-4zM300 344h4v4h-4zM464 388h4v4h-4zM460 392h4v4h-4zM460 396h4v4h-4zM456 400h4v4h-4zM456 404h4v4h-4zM452 408h4v4h-4zM452 412h4v4h-4zM452 416h4v4h-4zM424 420h4v4h-4zM428 456h4v4h-4zM432 472h4v4h-4zM440 508h4v4h-4zM440 512h4v4h-4z"/>
<path fill="#0090ff" d="M152 56h4v4h-4zM152 60h4v4h-4zM152 92h4v4h-4zM148 104h4v4h-4zM148 108h4v4h-4zM412 292h4v4h-4zM408 296h4v4h-4zM404 300h4v4h-4zM396 304h4v4h-4zM388 308h4v4h-4zM376 316h4v4h-4zM368 320h4v4h-4zM348 324h4v4h-4zM336 328h4v4h-4zM304 340h4v4h-4zM464 392h8v4h-8zM464 396h4v4h-4zM460 400h4v4h-4zM460 404h4v4h-4zM456 408h8v4h-8zM456 412h4v4h-4zM456 416h4v4h-4zM428 448h4v4h-4zM428 452h4v4h-4zM432 468h4v4h-4zM436 480h4v4h-4zM440 500h4v4h-4zM440 504h4v4h-4zM444 536h4v4h-4zM444 540h4v4h-4zM440 556h4v4h-4zM436 568h4v4h-4zM436 572h4v4h-4z"/>
<path fill="#0099ff" d="M156 68h4v4h-4zM156 72h4v4h-4zM156 76h4v4h-4zM156 80h4v4h-4zM156 84h4v4h-4zM152 96h4v4h-4zM148 112h4v4h-4zM148 116h4v4h-4zM408 292h4v4h-4zM404 296h4v4h-4zM400 300h4v4h-4zM384 308h4v4h-4zM380 312h4v4h-4zM372 316h4v4h-4zM360 320h8v4h-8zM344 324h4v4h-4zM328 328h8v4h-8zM316 332h4v4h-4zM308 336h4v4h-4zM468 396h4v4h-4zM464 400h8v4h-8zM464 404h4v4h-4zM464 408h4v4h-4zM460 412h4v4h-4zM460 416h4v4h-4zM428 432h4v4h-4zM428 436h4v4h-4zM428 440h4v4h-4zM428 444h4v4h-4zM440 492h4v4h-4zM440 496h4v4h-4zM444 532h4v4h-4zM444 544h4v4h-4zM436 576h4v4h-4z"/>
<path fill="#00a1ff" d="M156 56h4v4h-4zM156 60h4v4h-4zM156 64h4v4h-4zM156 88h4v4h-4zM152 100h4v4h-4zM152 104h4v4h-4zM308 148h4v4h-4zM312 152h4v4h-4zM408 288h4v4h-4zM392 304h4v4h-4zM376 312h4v4h-4zM352 320h8v4h-8zM340 324h4v4h-4zM324 328h4v4h-4zM312 332h4v4h-4zM300 340h4v4h-4zM296 344h4v4h-4zM472 400h4v4h-4zM468 404h8v4h-8zM468 408h4v4h-4zM464 412h8v4h-8zM464 416h8v4h-8zM428 420h4v4h-4zM428 424h4v4h-4zM428 428h4v4h-4zM432 464h4v4h-4zM436 476h4v4h-4zM440 488h4v4h-4zM444 548h4v4h-4zM440 560h4v4h-4z"/>
<path fill="#00aaff" d="M156 52h4v4h-4zM156 92h4v4h-4zM156 96h4v4h-4zM152 108h4v4h-4zM152 112h4v4h-4zM152 116h4v4h-4zM304 144h4v4h-4zM408 284h4v4h-4zM404 292h4v4h-4zM400 296h4v4h-4zM396 300h4v4h-4zM388 304h4v4h-4zM380 308h4v4h-4zM364 316h8v4h-8zM348 320h4v4h-4zM336 324h4v4h-4zM320 328h4v4h-4zM304 336h4v4h-4zM472 408h8v4h-8zM472 412h8v4h-8zM472 416h4v4h-4zM432 460h4v4h-4zM436 472h4v4h-4zM440 484h4v4h-4zM444 528h4v4h-4z"/>
<path fill="#00b2ff" d="M160 60h4v4h-4zM160 64h4v4h-4zM160 68h4v4h-4zM160 72h4v4h-4zM160 76h4v4h-4zM160 80h4v4h-4zM160 84h4v4h-4zM156 100h4v4h-4zM152 120h4v4h-4zM300 136h4v4h-4zM404 284h4v4h-4zM404 288h4v4h-4zM400 292h4v4h-4zM396 296h4v4h-4zM392 300h4v4h-4zM384 304h4v4h-4zM372 312h4v4h-4zM356 316h8v4h-8zM344 320h4v4h-4zM328 324h8v4h-8zM316 328h4v4h-4zM308 332h4v4h-4zM296 340h4v4h-4zM480 412h4v4h-4zM476 416h8v4h-8zM432 456h4v4h-4zM440 480h4v4h-4zM444 524h4v4h-4zM444 552h4v4h-4zM440 564h4v4h-4z"/>
<path fill="#00bbff" d="M160 52h4v4h-4zM160 56h4v4h-4zM160 88h4v4h-4zM160 92h4v4h-4zM156 104h4v4h-4zM156 108h4v4h-4zM300 140h4v4h-4zM304 148h4v4h-4zM308 152h4v4h-4zM312 156h4v4h-4zM316 160h4v4h-4zM404 280h4v4h-4zM400 288h4v4h-4zM388 300h4v4h-4zM376 308h4v4h-4zM368 312h4v4h-4zM352 316h4v4h-4zM340 320h4v4h-4zM324 324h4v4h-4zM312 328h4v4h-4zM300 336h4v4h-4zM432 420h4v4h-4zM432 424h4v4h-4zM432 428h4v4h-4zM432 432h4v4h-4zM432 444h4v4h-4zM432 448h4v4h-4zM432 452h4v4h-4zM436 468h4v4h-4zM444 516h4v4h-4zM444 520h4v4h-4zM440 568h4v4h-4z"/>
<path fill="#00c3ff" d="M164 68h4v4h-4zM164 72h4v4h-4zM164 76h4v4h-4zM160 96h4v4h-4zM156 112h4v4h-4zM156 116h4v4h-4zM156 120h4v4h-4zM300 144h4v4h-4zM320 164h4v4h-4zM324 168h4v4h-4zM400 280h4v4h-4zM400 284h4v4h-4zM396 292h4v4h-4zM392 296h4v4h-4zM380 304h4v4h-4zM360 312h8v4h-8zM348 316h4v4h-4zM336 320h4v4h-4zM320 324h4v4h-4zM304 332h4v4h-4zM432 436h4v4h-4zM432 440h4v4h-4zM440 476h4v4h-4zM444 496h4v4h-4zM444 500h4v4h-4zM444 504h4v4h-4zM444 508h4v4h-4zM444 512h4v4h-4zM444 556h4v4h-4zM440 572h4v4h-4zM440 576h4v4h-4zM440 580h4v4h-4z"/>
<path fill="#00ccff" d="M164 48h4v4h-4zM164 52h4v4h-4zM164 56h4v4h-4zM164 60h4v4h-4zM164 64h4v4h-4zM164 80h4v4h-4zM164 84h4v4h-4zM160 100h4v4h-4zM156 124h4v4h-4zM296 132h4v4h-4zM296 136h4v4h-4zM304 152h4v4h-4zM328 172h4v4h-4zM400 276h4v4h-4zM396 284h4v4h-4zM396 288h4v4h-4zM392 292h4v4h-4zM388 296h4v4h-4zM384 300h4v4h-4zM372 308h4v4h-4zM352 312h8v4h-8zM344 316h4v4h-4zM328 320h8v4h-8zM316 324h4v4h-4zM308 328h4v4h-4zM296 336h4v4h-4zM436 464h4v4h-4zM444 488h4v4h-4zM444 492h4v4h-4z"/>
<path fill="#00d4ff" d="M164 88h4v4h-4zM164 92h4v4h-4zM160 104h4v4h-4zM160 108h4v4h-4zM160 112h4v4h-4zM160 116h4v4h-4zM156 128h4v4h-4zM300 148h4v4h-4zM308 156h4v4h-4zM312 160h4v4h-4zM396 280h4v4h-4zM392 288h4v4h-4zM380 300h4v4h-4zM376 304h4v4h-4zM364 308h8v4h-8zM348 312h4v4h-4zM340 316h4v4h-4zM324 320h4v4h-4zM300 332h4v4h-4zM440 472h4v4h-4zM444 484h4v4h-4zM448 532h4v4h-4zM448 536h4v4h-4zM448 540h4v4h-4zM448 544h4v4h-4z"/>
<path fill="#00ddff" d="M168 48h4v4h-4zM168 52h4v4h-4zM168 56h4v4h-4zM168 60h4v4h-4zM168 64h4v4h-4zM168 68h4v4h-4zM168 72h4v4h-4zM168 76h4v4h-4zM164 96h4v4h-4zM160 120h4v4h-4zM160 124h4v4h-4zM296 140h4v4h-4zM316 164h4v4h-4zM320 168h4v4h-4zM324 172h4v4h-4zM396 272h4v4h-4zM396 276h4v4h-4zM392 284h4v4h-4zM388 292h4v4h-4zM384 296h4v4h-4zM372 304h4v4h-4zM356 308h8v4h-8zM344 312h4v4h-4zM336 316h4v4h-4zM320 320h4v4h-4zM312 324h4v4h-4zM304 328h4v4h-4zM436 420h4v4h-4zM436 424h4v4h-4zM436 428h4v4h-4zM436 460h4v4h-4zM440 468h4v4h-4zM448 548h4v4h-4zM444 560h4v4h-4z"/>
<path fill="#00e5ff" d="M168 80h4v4h-4zM168 84h4v4h-4zM168 88h4v4h-4zM164 100h4v4h-4zM164 104h4v4h-4zM292 124h4v4h-4zM160 128h4v4h-4zM292 128h4v4h-4zM296 144h4v4h-4zM328 176h4v4h-4zM392 276h4v4h-4zM392 280h4v4h-4zM388 288h4v4h-4zM384 292h4v4h-4zM380 296h4v4h-4zM376 300h4v4h-4zM368 304h4v4h-4zM352 308h4v4h-4zM332 316h4v4h-4zM308 324h4v4h-4zM292 336h4v4h-4zM436 432h4v4h-4zM436 436h4v4h-4zM436 440h4v4h-4zM436 444h4v4h-4zM436 448h4v4h-4zM436 452h4v4h-4zM436 456h4v4h-4zM444 480h4v4h-4zM448 528h4v4h-4zM444 564h4v4h-4zM444 588h4v4h-4z"/>
<path fill="#00eeff" d="M172 44h4v4h-4zM172 48h4v4h-4zM168 92h4v4h-4zM164 108h4v4h-4zM164 112h4v4h-4zM160 132h4v4h-4zM292 132h4v4h-4zM300 152h4v4h-4zM304 156h4v4h-4zM332 180h4v4h-4zM392 268h4v4h-4zM392 272h4v4h-4zM388 280h4v4h-4zM388 284h4v4h-4zM372 300h4v4h-4zM364 304h4v4h-4zM348 308h4v4h-4zM340 312h4v4h-4zM328 316h4v4h-4zM316 320h4v4h-4zM300 328h4v4h-4zM296 332h4v4h-4zM440 464h4v4h-4zM444 476h4v4h-4zM448 524h4v4h-4zM448 552h4v4h-4zM444 568h4v4h-4zM444 572h4v4h-4zM444 576h4v4h-4zM444 580h4v4h-4zM444 584h4v4h-4zM464 620h4v4h-4z"/>
<path fill="#00f6ff" d="M172 52h4v4h-4zM172 56h4v4h-4zM172 60h4v4h-4zM172 64h4v4h-4zM172 68h4v4h-4zM172 72h4v4h-4zM172 76h4v4h-4zM172 80h4v4h-4zM168 96h4v4h-4zM164 116h4v4h-4zM164 120h4v4h-4zM164 124h4v4h-4zM292 136h4v4h-4zM296 148h4v4h-4zM308 160h4v4h-4zM312 164h4v4h-4zM316 168h4v4h-4zM320 172h4v4h-4zM336 184h4v4h-4zM392 264h4v4h-4zM388 276h4v4h-4zM384 288h4v4h-4zM380 292h4v4h-4zM376 296h4v4h-4zM368 300h4v4h-4zM356 304h8v4h-8zM344 308h4v4h-4zM336 312h4v4h-4zM324 316h4v4h-4zM312 320h4v4h-4zM304 324h4v4h-4zM448 516h4v4h-4zM448 520h4v4h-4zM472 624h4v4h-4z"/>
<path fill="#00ffff" d="M176 40h4v4h-4zM176 44h4v4h-4zM172 84h4v4h-4zM172 88h4v4h-4zM168 100h4v4h-4zM168 104h4v4h-4zM164 128h4v4h-4zM292 140h4v4h-4zM324 176h4v4h-4zM328 180h4v4h-4zM340 188h4v4h-4zM344 192h4v4h-4zM388 268h4v4h-4zM388 272h4v4h-4zM384 280h4v4h-4zM384 284h4v4h-4zM372 296h4v4h-4zM364 300h4v4h-4zM352 304h4v4h-4zM332 312h4v4h-4zM320 316h4v4h-4zM292 332h4v4h-4zM440 420h4v4h-4zM440 424h4v4h-4zM440 460h4v4h-4zM444 472h4v4h-4zM448 488h4v4h-4zM448 492h4v4h-4zM448 496h4v4h-4zM448 500h4v4h-4zM448 504h4v4h-4zM448 508h4v4h-4zM448 512h4v4h-4zM460 612h4v4h-4zM464 616h4v4h-4zM468 620h4v4h-4zM480 628h4v4h-4z"/>
<path fill="#09fff6" d="M176 48h4v4h-4zM176 52h4v4h-4zM176 56h4v4h-4zM176 60h4v4h-4zM172 92h4v4h-4zM168 108h4v4h-4zM288 120h4v4h-4zM288 124h4v4h-4zM288 128h4v4h-4zM164 132h4v4h-4zM300 156h4v4h-4zM332 184h4v4h-4zM388 260h4v4h-4zM388 264h4v4h-4zM384 276h4v4h-4zM380 288h4v4h-4zM376 292h4v4h-4zM360 300h4v4h-4zM348 304h4v4h-4zM340 308h4v4h-4zM328 312h4v4h-4zM316 316h4v4h-4zM308 320h4v4h-4zM300 324h4v4h-4zM296 328h4v4h-4zM440 428h4v4h-4zM440 432h4v4h-4zM440 456h4v4h-4zM444 468h4v4h-4zM448 484h4v4h-4zM448 556h4v4h-4zM448 592h4v4h-4zM452 600h4v4h-4zM472 620h4v4h-4zM476 624h4v4h-4zM484 628h4v4h-4z"/>
<path fill="#11ffee" d="M180 40h4v4h-4zM180 44h4v4h-4zM176 64h4v4h-4zM176 68h4v4h-4zM176 72h4v4h-4zM176 76h4v4h-4zM176 80h4v4h-4zM172 96h4v4h-4zM168 112h4v4h-4zM168 116h4v4h-4zM168 120h4v4h-4zM168 124h4v4h-4zM288 132h4v4h-4zM292 144h4v4h-4zM296 152h4v4h-4zM320 176h4v4h-4zM336 188h4v4h-4zM340 192h4v4h-4zM384 268h4v4h-4zM384 272h4v4h-4zM380 284h4v4h-4zM368 296h4v4h-4zM356 300h4v4h-4zM336 308h4v4h-4zM324 312h4v4h-4zM288 332h4v4h-4zM440 436h4v4h-4zM440 452h4v4h-4zM448 480h4v4h-4zM448 560h4v4h-4zM448 588h4v4h-4zM456 604h4v4h-4zM460 608h4v4h-4zM464 612h4v4h-4zM468 616h4v4h-4zM480 624h4v4h-4zM488 628h4v4h-4z"/>
<path fill="#19ffe6" d="M184 36h4v4h-4zM180 48h4v4h-4zM180 52h4v4h-4zM180 56h4v4h-4zM176 84h4v4h-4zM176 88h4v4h-4zM172 100h4v4h-4zM168 128h4v4h-4zM164 136h4v4h-4zM288 136h4v4h-4zM304 160h4v4h-4zM308 164h4v4h-4zM312 168h4v4h-4zM316 172h4v4h-4zM324 180h4v4h-4zM328 184h4v4h-4zM344 196h4v4h-4zM348 200h4v4h-4zM384 256h4v4h-4zM384 260h4v4h-4zM384 264h4v4h-4zM380 276h4v4h-4zM380 280h4v4h-4zM376 288h4v4h-4zM372 292h4v4h-4zM364 296h4v4h-4zM352 300h4v4h-4zM344 304h4v4h-4zM332 308h4v4h-4zM320 312h4v4h-4zM312 316h4v4h-4zM304 320h4v4h-4zM292 328h4v4h-4zM444 420h4v4h-4zM440 440h4v4h-4zM440 444h4v4h-4zM440 448h4v4h-4zM444 464h4v4h-4zM448 476h4v4h-4zM452 532h4v4h-4zM452 536h4v4h-4zM448 580h4v4h-4zM448 584h4v4h-4zM452 596h4v4h-4zM476 620h4v4h-4zM484 624h4v4h-4z"/>
<path fill="#22ffdd" d="M184 40h4v4h-4zM184 44h4v4h-4zM180 60h4v4h-4zM180 64h4v4h-4zM180 68h4v4h-4zM180 72h4v4h-4zM176 92h4v4h-4zM172 104h4v4h-4zM284 116h4v4h-4zM284 120h4v4h-4zM292 148h4v4h-4zM332 188h4v4h-4zM348 204h4v4h-4zM380 272h4v4h-4zM376 284h4v4h-4zM368 292h4v4h-4zM360 296h4v4h-4zM348 300h4v4h-4zM340 304h4v4h-4zM328 308h4v4h-4zM308 316h4v4h-4zM296 324h4v4h-4zM444 424h4v4h-4zM452 528h4v4h-4zM452 540h4v4h-4zM452 544h4v4h-4zM448 564h4v4h-4zM448 568h4v4h-4zM448 572h4v4h-4zM448 576h4v4h-4zM456 600h4v4h-4zM468 612h4v4h-4zM472 616h4v4h-4z"/>
<path fill="#2affd5" d="M188 36h4v4h-4zM188 40h4v4h-4zM184 48h4v4h-4zM184 52h4v4h-4zM180 76h4v4h-4zM180 80h4v4h-4zM176 96h4v4h-4zM172 108h4v4h-4zM172 112h4v4h-4zM284 124h4v4h-4zM284 128h4v4h-4zM168 132h4v4h-4zM164 140h4v4h-4zM288 140h4v4h-4zM320 180h4v4h-4zM336 192h4v4h-4zM340 196h4v4h-4zM344 200h4v4h-4zM380 260h4v4h-4zM380 264h4v4h-4zM380 268h4v4h-4zM376 280h4v4h-4zM372 288h4v4h-4zM356 296h4v4h-4zM336 304h4v4h-4zM324 308h4v4h-4zM316 312h4v4h-4zM300 320h4v4h-4zM288 328h4v4h-4zM444 428h4v4h-4zM444 460h4v4h-4zM448 472h4v4h-4zM452 524h4v4h-4zM452 548h4v4h-4zM452 592h4v4h-4zM460 604h4v4h-4zM464 608h4v4h-4zM480 620h4v4h-4zM488 624h4v4h-4z"/>
<path fill="#33ffcc" d="M196 32h4v4h-4zM192 36h4v4h-4zM188 44h4v4h-4zM184 56h4v4h-4zM184 60h4v4h-4zM184 64h4v4h-4zM180 84h4v4h-4zM180 88h4v4h-4zM176 100h4v4h-4zM172 116h4v4h-4zM172 120h4v4h-4zM284 132h4v4h-4zM168 136h4v4h-4zM296 156h4v4h-4zM316 176h4v4h-4zM324 184h4v4h-4zM328 188h4v4h-4zM348 208h4v4h-4zM380 252h4v4h-4zM380 256h4v4h-4zM376 276h4v4h-4zM364 292h4v4h-4zM352 296h4v4h-4zM344 300h4v4h-4zM332 304h4v4h-4zM312 312h4v4h-4zM304 316h4v4h-4zM292 324h4v4h-4zM444 432h4v4h-4zM444 456h4v4h-4zM452 492h4v4h-4zM452 496h4v4h-4zM452 500h4v4h-4zM452 504h4v4h-4zM452 520h4v4h-4zM452 552h4v4h-4zM452 588h4v4h-4zM456 596h4v4h-4zM472 612h4v4h-4zM476 616h4v4h-4zM484 620h4v4h-4zM492 624h4v4h-4z"/>
<path fill="#3cffc3" d="M196 36h4v4h-4zM192 40h4v4h-4zM188 48h4v4h-4zM188 52h4v4h-4zM184 68h4v4h-4zM184 72h4v4h-4zM180 92h4v4h-4zM176 104h4v4h-4zM172 124h4v4h-4zM288 144h4v4h-4zM292 152h4v4h-4zM300 160h4v4h-4zM308 168h4v4h-4zM312 172h4v4h-4zM332 192h4v4h-4zM344 204h4v4h-4zM352 216h4v4h-4zM356 220h4v4h-4zM360 224h4v4h-4zM376 244h4v4h-4zM376 264h4v4h-4zM376 268h4v4h-4zM376 272h4v4h-4zM372 284h4v4h-4zM368 288h4v4h-4zM360 292h4v4h-4zM340 300h4v4h-4zM320 308h4v4h-4zM296 320h4v4h-4zM448 420h4v4h-4zM444 436h4v4h-4zM444 452h4v4h-4zM448 468h4v4h-4zM452 484h4v4h-4zM452 488h4v4h-4zM452 508h4v4h-4zM452 512h4v4h-4zM452 516h4v4h-4zM460 600h4v4h-4zM464 604h4v4h-4zM468 608h4v4h-4zM480 616h4v4h-4zM488 620h4v4h-4zM496 624h4v4h-4z"/>
<path fill="#44ffbb" d="M200 32h4v4h-4zM200 36h4v4h-4zM196 40h4v4h-4zM192 44h4v4h-4zM192 48h4v4h-4zM188 56h4v4h-4zM188 60h4v4h-4zM184 76h4v4h-4zM184 80h4v4h-4zM180 96h4v4h-4zM176 108h4v4h-4zM280 116h4v4h-4zM172 128h4v4h-4zM284 136h4v4h-4zM168 140h4v4h-4zM304 164h4v4h-4zM320 184h4v4h-4zM336 196h4v4h-4zM340 200h4v4h-4zM348 212h4v4h-4zM372 240h4v4h-4zM376 248h4v4h-4zM376 252h4v4h-4zM376 256h4v4h-4zM376 260h4v4h-4zM372 280h4v4h-4zM356 292h4v4h-4zM348 296h4v4h-4zM328 304h4v4h-4zM316 308h4v4h-4zM308 312h4v4h-4zM300 316h4v4h-4zM288 324h4v4h-4zM448 424h4v4h-4zM444 440h4v4h-4zM444 444h4v4h-4zM444 448h4v4h-4zM452 480h4v4h-4zM452 556h4v4h-4zM452 584h4v4h-4zM476 612h4v4h-4zM484 616h4v4h-4zM492 620h4v4h-4zM500 624h4v4h-4z"/>
<path fill="#4dffb2" d="M204 32h8v4h-8zM204 36h4v4h-4zM200 40h4v4h-4zM196 44h4v4h-4zM192 52h4v4h-4zM188 64h4v4h-4zM188 68h4v4h-4zM184 84h4v4h-4zM180 100h4v4h-4zM280 108h4v4h-4zM176 112h4v4h-4zM280 112h4v4h-4zM280 120h4v4h-4zM280 124h4v4h-4zM172 132h4v4h-4zM284 140h4v4h-4zM288 148h4v4h-4zM316 180h4v4h-4zM324 188h4v4h-4zM328 192h4v4h-4zM344 208h4v4h-4zM348 216h4v4h-4zM352 220h4v4h-4zM356 224h4v4h-4zM360 228h4v4h-4zM364 232h4v4h-4zM368 236h4v4h-4zM372 244h4v4h-4zM372 268h4v4h-4zM372 272h4v4h-4zM372 276h4v4h-4zM368 284h4v4h-4zM364 288h4v4h-4zM352 292h4v4h-4zM344 296h4v4h-4zM336 300h4v4h-4zM324 304h4v4h-4zM292 320h4v4h-4zM448 428h4v4h-4zM448 464h4v4h-4zM452 580h4v4h-4zM456 592h4v4h-4zM468 604h4v4h-4zM472 608h4v4h-4zM496 620h4v4h-4z"/>
<path fill="#55ffaa" d="M216 28h4v4h-4zM212 32h4v4h-4zM208 36h4v4h-4zM204 40h4v4h-4zM200 44h4v4h-4zM196 48h4v4h-4zM192 56h4v4h-4zM192 60h4v4h-4zM188 72h4v4h-4zM188 76h4v4h-4zM184 88h4v4h-4zM176 116h4v4h-4zM280 128h4v4h-4zM172 136h4v4h-4zM168 144h4v4h-4zM312 176h4v4h-4zM332 196h4v4h-4zM336 200h4v4h-4zM340 204h4v4h-4zM344 212h4v4h-4zM368 240h4v4h-4zM372 248h4v4h-4zM372 252h4v4h-4zM372 256h4v4h-4zM372 260h4v4h-4zM372 264h4v4h-4zM360 288h4v4h-4zM332 300h4v4h-4zM312 308h4v4h-4zM304 312h4v4h-4zM296 316h4v4h-4zM284 324h4v4h-4zM448 432h4v4h-4zM452 476h4v4h-4zM452 560h4v4h-4zM452 564h4v4h-4zM452 568h4v4h-4zM452 572h4v4h-4zM452 576h4v4h-4zM460 596h4v4h-4zM464 600h4v4h-4zM480 612h4v4h-4zM488 616h4v4h-4zM500 620h4v4h-4z"/>
<path fill="#5effa1" d="M216 32h8v4h-8zM212 36h4v4h-4zM208 40h4v4h-4zM204 44h4v4h-4zM200 48h4v4h-4zM196 52h4v4h-4zM196 56h4v4h-4zM192 64h4v4h-4zM192 68h4v4h-4zM188 80h4v4h-4zM184 92h4v4h-4zM180 104h4v4h-4zM176 120h4v4h-4zM176 124h4v4h-4zM280 132h4v4h-4zM292 156h4v4h-4zM296 160h4v4h-4zM308 172h4v4h-4zM320 188h4v4h-4zM344 216h4v4h-4zM348 220h4v4h-4zM352 224h4v4h-4zM356 228h4v4h-4zM360 232h4v4h-4zM364 236h4v4h-4zM368 244h4v4h-4zM368 280h4v4h-4zM356 288h4v4h-4zM348 292h4v4h-4zM340 296h4v4h-4zM328 300h4v4h-4zM320 304h4v4h-4zM300 312h4v4h-4zM288 320h4v4h-4zM452 420h4v4h-4zM448 460h4v4h-4zM452 472h4v4h-4zM456 532h4v4h-4zM456 588h4v4h-4zM472 604h4v4h-4zM476 608h4v4h-4zM484 612h4v4h-4zM492 616h4v4h-4zM504 620h4v4h-4z"/>
<path fill="#66ff99" d="M216 36h8v4h-8zM212 40h4v4h-4zM208 44h4v4h-4zM204 48h4v4h-4zM200 52h4v4h-4zM196 60h4v4h-4zM192 72h4v4h-4zM188 84h4v4h-4zM184 96h4v4h-4zM180 108h4v4h-4zM176 128h4v4h-4zM172 140h4v4h-4zM284 144h4v4h-4zM288 152h4v4h-4zM300 164h4v4h-4zM304 168h4v4h-4zM316 184h4v4h-4zM324 192h4v4h-4zM328 196h4v4h-4zM340 208h4v4h-4zM364 240h4v4h-4zM368 248h4v4h-4zM368 264h4v4h-4zM368 268h4v4h-4zM368 272h4v4h-4zM368 276h4v4h-4zM364 284h4v4h-4zM352 288h4v4h-4zM344 292h4v4h-4zM336 296h4v4h-4zM308 308h4v4h-4zM292 316h4v4h-4zM452 424h4v4h-4zM448 436h4v4h-4zM448 452h4v4h-4zM448 456h4v4h-4zM456 528h4v4h-4zM456 536h4v4h-4zM460 592h4v4h-4zM464 596h4v4h-4zM468 600h4v4h-4zM480 608h4v4h-4zM488 612h4v4h-4zM496 616h4v4h-4zM508 620h4v4h-4z"/>
<path fill="#6eff90" d="M224 36h8v4h-8zM216 40h8v4h-8zM212 44h4v4h-4zM208 48h4v4h-4zM204 52h4v4h-4zM200 56h4v4h-4zM196 64h4v4h-4zM196 68h4v4h-4zM192 76h4v4h-4zM188 88h4v4h-4zM184 100h4v4h-4zM276 104h4v4h-4zM276 108h4v4h-4zM180 112h4v4h-4zM276 112h4v4h-4zM276 116h4v4h-4zM276 120h4v4h-4zM276 124h4v4h-4zM176 132h4v4h-4zM280 136h4v4h-4zM312 180h4v4h-4zM332 200h4v4h-4zM336 204h4v4h-4zM340 212h4v4h-4zM344 220h4v4h-4zM348 224h4v4h-4zM352 228h4v4h-4zM356 232h4v4h-4zM360 236h4v4h-4zM368 252h4v4h-4zM368 256h4v4h-4zM368 260h4v4h-4zM364 280h4v4h-4zM360 284h4v4h-4zM348 288h4v4h-4zM332 296h4v4h-4zM324 300h4v4h-4zM316 304h4v4h-4zM296 312h4v4h-4zM284 320h4v4h-4zM452 428h4v4h-4zM448 440h4v4h-4zM448 444h4v4h-4zM448 448h4v4h-4zM452 468h4v4h-4zM456 488h4v4h-4zM456 492h4v4h-4zM456 496h4v4h-4zM456 500h4v4h-4zM456 504h4v4h-4zM456 524h4v4h-4zM456 540h4v4h-4zM456 584h4v4h-4zM476 604h4v4h-4zM492 612h4v4h-4zM500 616h4v4h-4z"/>
<path fill="#77ff88" d="M224 40h8v4h-8zM216 44h8v4h-8zM212 48h4v4h-4zM208 52h4v4h-4zM204 56h4v4h-4zM200 60h4v4h-4zM196 72h4v4h-4zM192 80h4v4h-4zM188 92h4v4h-4zM184 104h4v4h-4zM180 116h4v4h-4zM276 128h4v4h-4zM176 136h4v4h-4zM280 140h4v4h-4zM172 144h4v4h-4zM284 148h4v4h-4zM308 176h4v4h-4zM336 208h4v4h-4zM340 216h4v4h-4zM364 244h4v4h-4zM364 272h4v4h-4zM364 276h4v4h-4zM352 284h8v4h-8zM340 292h4v4h-4zM304 308h4v4h-4zM288 316h4v4h-4zM456 420h4v4h-4zM452 432h4v4h-4zM456 484h4v4h-4zM456 508h4v4h-4zM456 512h4v4h-4zM456 516h4v4h-4zM456 520h4v4h-4zM456 544h4v4h-4zM456 548h4v4h-4zM456 580h4v4h-4zM472 600h4v4h-4zM484 608h4v4h-4zM496 612h4v4h-4zM504 616h8v4h-8z"/>
<path fill="#7fff80" d="M224 44h12v4h-12zM216 48h8v4h-8zM212 52h4v4h-4zM208 56h4v4h-4zM204 60h4v4h-4zM200 64h4v4h-4zM200 68h4v4h-4zM196 76h4v4h-4zM192 84h4v4h-4zM188 96h4v4h-4zM180 120h4v4h-4zM316 188h4v4h-4zM320 192h4v4h-4zM324 196h4v4h-4zM328 200h4v4h-4zM332 204h4v4h-4zM344 224h4v4h-4zM348 228h4v4h-4zM352 232h4v4h-4zM356 236h4v4h-4zM360 240h4v4h-4zM364 248h4v4h-4zM364 260h4v4h-4zM364 264h4v4h-4zM364 268h4v4h-4zM360 280h4v4h-4zM344 288h4v4h-4zM336 292h4v4h-4zM328 296h4v4h-4zM320 300h4v4h-4zM312 304h4v4h-4zM300 308h4v4h-4zM292 312h4v4h-4zM456 424h4v4h-4zM452 464h4v4h-4zM456 480h4v4h-4zM456 552h4v4h-4zM456 576h4v4h-4zM460 588h4v4h-4zM464 592h4v4h-4zM468 596h4v4h-4zM480 604h4v4h-4zM488 608h4v4h-4zM500 612h4v4h-4zM512 616h4v4h-4z"/>
<path fill="#88ff77" d="M224 48h16v4h-16zM216 52h8v4h-8zM212 56h4v4h-4zM204 64h4v4h-4zM200 72h4v4h-4zM196 80h4v4h-4zM192 88h4v4h-4zM184 108h4v4h-4zM180 124h4v4h-4zM276 132h4v4h-4zM176 140h4v4h-4zM172 148h4v4h-4zM288 156h4v4h-4zM292 160h4v4h-4zM304 172h4v4h-4zM312 184h4v4h-4zM336 212h4v4h-4zM340 220h4v4h-4zM348 232h4v4h-4zM352 236h4v4h-4zM360 244h4v4h-4zM364 252h4v4h-4zM364 256h4v4h-4zM360 276h4v4h-4zM356 280h4v4h-4zM348 284h4v4h-4zM284 316h4v4h-4zM456 428h4v4h-4zM452 436h4v4h-4zM452 460h4v4h-4zM456 476h4v4h-4zM456 572h4v4h-4zM476 600h4v4h-4zM484 604h4v4h-4zM492 608h4v4h-4zM504 612h4v4h-4zM516 616h4v4h-4z"/>
<path fill="#91ff6e" d="M224 52h16v4h-16zM216 56h4v4h-4zM208 60h4v4h-4zM204 68h4v4h-4zM192 92h4v4h-4zM188 100h4v4h-4zM272 100h4v4h-4zM272 104h4v4h-4zM272 108h4v4h-4zM184 112h4v4h-4zM272 112h4v4h-4zM272 116h4v4h-4zM272 120h4v4h-4zM180 128h4v4h-4zM276 136h4v4h-4zM280 144h4v4h-4zM296 164h4v4h-4zM300 168h4v4h-4zM308 180h4v4h-4zM324 200h4v4h-4zM328 204h4v4h-4zM332 208h4v4h-4zM336 216h4v4h-4zM340 224h4v4h-4zM344 228h4v4h-4zM356 240h4v4h-4zM360 268h4v4h-4zM360 272h4v4h-4zM356 276h4v4h-4zM352 280h4v4h-4zM340 288h4v4h-4zM332 292h4v4h-4zM324 296h4v4h-4zM316 300h4v4h-4zM308 304h4v4h-4zM296 308h4v4h-4zM288 312h4v4h-4zM452 440h4v4h-4zM452 456h4v4h-4zM456 556h4v4h-4zM456 560h4v4h-4zM456 564h4v4h-4zM456 568h4v4h-4zM460 584h4v4h-4zM468 592h4v4h-4zM472 596h4v4h-4zM480 600h4v4h-4zM496 608h4v4h-4zM508 612h4v4h-4z"/>
<path fill="#99ff66" d="M220 56h12v4h-12zM212 60h4v4h-4zM208 64h4v4h-4zM200 76h4v4h-4zM196 84h4v4h-4zM188 104h4v4h-4zM184 116h4v4h-4zM272 124h4v4h-4zM180 132h4v4h-4zM176 144h4v4h-4zM284 152h4v4h-4zM316 192h4v4h-4zM320 196h4v4h-4zM332 212h4v4h-4zM336 220h4v4h-4zM348 236h4v4h-4zM352 240h4v4h-4zM356 244h4v4h-4zM360 248h4v4h-4zM360 252h4v4h-4zM360 256h4v4h-4zM360 260h4v4h-4zM360 264h4v4h-4zM344 284h4v4h-4zM336 288h4v4h-4zM328 292h4v4h-4zM304 304h4v4h-4zM292 308h4v4h-4zM460 420h4v4h-4zM456 432h4v4h-4zM452 444h4v4h-4zM452 448h4v4h-4zM452 452h4v4h-4zM456 472h4v4h-4zM464 588h4v4h-4zM476 596h4v4h-4zM488 604h4v4h-4zM500 608h4v4h-4zM512 612h4v4h-4z"/>
<path fill="#a2ff5d" d="M232 56h12v4h-12zM216 60h8v4h-8zM212 64h4v4h-4zM208 68h4v4h-4zM204 72h4v4h-4zM200 80h4v4h-4zM196 88h4v4h-4zM192 96h4v4h-4zM272 128h4v4h-4zM180 136h4v4h-4zM172 152h4v4h-4zM304 176h4v4h-4zM312 188h4v4h-4zM328 208h4v4h-4zM340 228h4v4h-4zM344 232h4v4h-4zM356 268h4v4h-4zM356 272h4v4h-4zM352 276h4v4h-4zM348 280h4v4h-4zM340 284h4v4h-4zM332 288h4v4h-4zM320 296h4v4h-4zM312 300h4v4h-4zM284 312h4v4h-4zM280 316h4v4h-4zM460 424h4v4h-4zM460 580h4v4h-4zM472 592h4v4h-4zM484 600h4v4h-4zM492 604h4v4h-4zM504 608h4v4h-4zM516 612h4v4h-4z"/>
<path fill="#aaff55" d="M224 60h24v4h-24zM216 64h4v4h-4zM208 72h4v4h-4zM204 76h4v4h-4zM200 84h4v4h-4zM196 92h4v4h-4zM192 100h4v4h-4zM188 108h4v4h-4zM184 120h4v4h-4zM180 140h4v4h-4zM276 140h4v4h-4zM176 148h4v4h-4zM280 148h4v4h-4zM308 184h4v4h-4zM320 200h4v4h-4zM324 204h4v4h-4zM332 216h4v4h-4zM336 224h4v4h-4zM344 236h4v4h-4zM348 240h4v4h-4zM352 244h4v4h-4zM356 248h4v4h-4zM356 252h4v4h-4zM356 256h4v4h-4zM356 260h4v4h-4zM356 264h4v4h-4zM324 292h4v4h-4zM300 304h4v4h-4zM288 308h4v4h-4zM460 428h4v4h-4zM456 436h4v4h-4zM456 468h4v4h-4zM460 488h4v4h-4zM460 492h4v4h-4zM460 496h4v4h-4zM460 500h4v4h-4zM460 528h4v4h-4zM460 532h4v4h-4zM460 576h4v4h-4zM464 584h4v4h-4zM468 588h4v4h-4zM480 596h4v4h-4zM488 600h4v4h-4zM496 604h4v4h-4zM508 608h4v4h-4zM520 612h4v4h-4z"/>
<path fill="#b3ff4c" d="M220 64h8v4h-8zM212 68h4v4h-4zM204 80h4v4h-4zM268 92h4v4h-4zM268 96h4v4h-4zM268 100h4v4h-4zM268 104h4v4h-4zM268 108h4v4h-4zM188 112h4v4h-4zM268 112h4v4h-4zM268 116h4v4h-4zM268 120h4v4h-4zM184 124h4v4h-4zM272 132h4v4h-4zM288 160h4v4h-4zM292 164h4v4h-4zM300 172h4v4h-4zM316 196h4v4h-4zM328 212h4v4h-4zM332 220h4v4h-4zM336 228h4v4h-4zM340 232h4v4h-4zM352 272h4v4h-4zM348 276h4v4h-4zM344 280h4v4h-4zM336 284h4v4h-4zM328 288h4v4h-4zM308 300h4v4h-4zM296 304h4v4h-4zM464 420h4v4h-4zM456 440h4v4h-4zM456 464h4v4h-4zM460 480h4v4h-4zM460 484h4v4h-4zM460 504h4v4h-4zM460 520h4v4h-4zM460 524h4v4h-4zM460 536h4v4h-4zM460 572h4v4h-4zM476 592h4v4h-4zM500 604h4v4h-4zM512 608h4v4h-4z"/>
<path fill="#bbff44" d="M228 64h24v4h-24zM216 68h4v4h-4zM212 72h4v4h-4zM208 76h4v4h-4zM200 88h4v4h-4zM196 96h4v4h-4zM192 104h4v4h-4zM188 116h4v4h-4zM268 124h4v4h-4zM184 128h4v4h-4zM272 136h4v4h-4zM180 144h4v4h-4zM276 144h4v4h-4zM176 152h4v4h-4zM284 156h4v4h-4zM296 168h4v4h-4zM304 180h4v4h-4zM312 192h4v4h-4zM324 208h4v4h-4zM328 216h4v4h-4zM332 224h4v4h-4zM344 240h4v4h-4zM348 244h4v4h-4zM352 248h4v4h-4zM352 252h4v4h-4zM352 260h4v4h-4zM352 264h4v4h-4zM352 268h4v4h-4zM340 280h4v4h-4zM332 284h4v4h-4zM316 296h4v4h-4zM292 304h4v4h-4zM280 312h4v4h-4zM464 424h4v4h-4zM460 432h4v4h-4zM456 444h4v4h-4zM456 460h4v4h-4zM460 476h4v4h-4zM460 508h4v4h-4zM460 512h4v4h-4zM460 516h4v4h-4zM460 540h4v4h-4zM464 580h4v4h-4zM472 588h4v4h-4zM484 596h4v4h-4zM492 600h4v4h-4zM504 604h4v4h-4zM516 608h4v4h-4z"/>
<path fill="#c3ff3c" d="M220 68h8v4h-8zM208 80h4v4h-4zM204 84h4v4h-4zM200 92h4v4h-4zM192 108h4v4h-4zM184 132h4v4h-4zM280 152h4v4h-4zM308 188h4v4h-4zM320 204h4v4h-4zM336 232h4v4h-4zM340 236h4v4h-4zM348 248h4v4h-4zM352 256h4v4h-4zM348 272h4v4h-4zM344 276h4v4h-4zM336 280h4v4h-4zM324 288h4v4h-4zM320 292h4v4h-4zM304 300h4v4h-4zM284 308h4v4h-4zM464 428h4v4h-4zM460 436h4v4h-4zM456 448h4v4h-4zM456 452h4v4h-4zM456 456h4v4h-4zM460 544h4v4h-4zM460 568h4v4h-4zM468 584h4v4h-4zM480 592h4v4h-4zM488 596h4v4h-4zM496 600h4v4h-4zM508 604h4v4h-4zM520 608h4v4h-4z"/>
<path fill="#ccff33" d="M228 68h12v4h-12zM216 72h4v4h-4zM212 76h4v4h-4zM204 88h4v4h-4zM264 88h4v4h-4zM264 92h4v4h-4zM196 100h4v4h-4zM192 112h4v4h-4zM188 120h4v4h-4zM268 128h4v4h-4zM184 136h4v4h-4zM180 148h4v4h-4zM300 176h4v4h-4zM304 184h4v4h-4zM316 200h4v4h-4zM324 212h4v4h-4zM328 220h4v4h-4zM332 228h4v4h-4zM344 244h4v4h-4zM348 252h4v4h-4zM348 264h4v4h-4zM348 268h4v4h-4zM328 284h4v4h-4zM312 296h4v4h-4zM300 300h4v4h-4zM288 304h4v4h-4zM468 420h4v4h-4zM460 472h4v4h-4zM460 548h4v4h-4zM460 552h4v4h-4zM460 564h4v4h-4zM464 576h4v4h-4zM476 588h4v4h-4zM500 600h4v4h-4zM512 604h4v4h-4zM524 608h4v4h-4z"/>
<path fill="#d4ff2b" d="M240 68h12v4h-12zM220 72h8v4h-8zM216 76h4v4h-4zM212 80h4v4h-4zM260 80h4v4h-4zM208 84h4v4h-4zM200 96h4v4h-4zM264 96h4v4h-4zM264 100h4v4h-4zM196 104h4v4h-4zM264 104h4v4h-4zM264 108h4v4h-4zM264 112h4v4h-4zM264 116h4v4h-4zM188 124h4v4h-4zM268 132h4v4h-4zM184 140h4v4h-4zM272 140h4v4h-4zM276 148h4v4h-4zM176 156h4v4h-4zM296 172h4v4h-4zM312 196h4v4h-4zM320 208h4v4h-4zM324 216h4v4h-4zM328 224h4v4h-4zM340 240h4v4h-4zM348 256h4v4h-4zM348 260h4v4h-4zM344 272h4v4h-4zM340 276h4v4h-4zM332 280h4v4h-4zM296 300h4v4h-4zM276 312h4v4h-4zM468 424h4v4h-4zM464 432h4v4h-4zM460 440h4v4h-4zM460 556h4v4h-4zM460 560h4v4h-4zM468 580h4v4h-4zM472 584h4v4h-4zM484 592h4v4h-4zM492 596h4v4h-4zM516 604h4v4h-4zM528 608h4v4h-4z"/>
<path fill="#ddff22" d="M228 72h4v4h-4zM252 72h4v4h-4zM256 76h4v4h-4zM260 84h4v4h-4zM204 92h4v4h-4zM192 116h4v4h-4zM264 120h4v4h-4zM184 144h4v4h-4zM284 160h4v4h-4zM288 164h4v4h-4zM292 168h4v4h-4zM300 180h4v4h-4zM308 192h4v4h-4zM316 204h4v4h-4zM332 232h4v4h-4zM336 236h4v4h-4zM344 248h4v4h-4zM344 268h4v4h-4zM336 276h4v4h-4zM328 280h4v4h-4zM324 284h4v4h-4zM320 288h4v4h-4zM316 292h4v4h-4zM308 296h4v4h-4zM292 300h4v4h-4zM284 304h4v4h-4zM280 308h4v4h-4zM460 444h4v4h-4zM460 468h4v4h-4zM464 572h4v4h-4zM480 588h4v4h-4zM488 592h4v4h-4zM496 596h4v4h-4zM504 600h4v4h-4zM520 604h4v4h-4z"/>
<path fill="#e5ff1a" d="M232 72h20v4h-20zM220 76h4v4h-4zM216 80h4v4h-4zM212 84h4v4h-4zM208 88h4v4h-4zM260 88h4v4h-4zM200 100h4v4h-4zM196 108h4v4h-4zM192 120h4v4h-4zM264 124h4v4h-4zM188 128h4v4h-4zM272 144h4v4h-4zM180 152h4v4h-4zM280 156h4v4h-4zM304 188h4v4h-4zM312 200h4v4h-4zM320 212h4v4h-4zM324 220h4v4h-4zM328 228h4v4h-4zM340 244h4v4h-4zM344 252h4v4h-4zM344 256h4v4h-4zM344 260h4v4h-4zM344 264h4v4h-4zM340 272h4v4h-4zM332 276h4v4h-4zM472 420h4v4h-4zM468 428h4v4h-4zM464 436h4v4h-4zM460 448h4v4h-4zM464 484h4v4h-4zM464 488h4v4h-4zM464 492h4v4h-4zM464 496h4v4h-4zM468 576h4v4h-4zM472 580h4v4h-4zM476 584h4v4h-4zM508 600h4v4h-4zM524 604h4v4h-4z"/>
<path fill="#eeff11" d="M224 76h4v4h-4zM252 76h4v4h-4zM256 80h4v4h-4zM208 92h4v4h-4zM260 92h4v4h-4zM204 96h4v4h-4zM260 96h4v4h-4zM260 100h4v4h-4zM200 104h4v4h-4zM260 104h4v4h-4zM260 108h4v4h-4zM196 112h4v4h-4zM260 112h4v4h-4zM264 128h4v4h-4zM188 132h4v4h-4zM268 136h4v4h-4zM184 148h4v4h-4zM276 152h4v4h-4zM296 176h4v4h-4zM300 184h4v4h-4zM316 208h4v4h-4zM320 216h4v4h-4zM324 224h4v4h-4zM332 236h4v4h-4zM336 240h4v4h-4zM340 268h4v4h-4zM336 272h4v4h-4zM324 280h4v4h-4zM320 284h4v4h-4zM300 296h8v4h-8zM288 300h4v4h-4zM276 308h4v4h-4zM472 424h4v4h-4zM468 432h4v4h-4zM464 440h4v4h-4zM460 452h4v4h-4zM460 464h4v4h-4zM464 480h4v4h-4zM464 500h4v4h-4zM464 528h4v4h-4zM464 532h4v4h-4zM464 568h4v4h-4zM484 588h4v4h-4zM492 592h4v4h-4zM500 596h4v4h-4zM512 600h4v4h-4zM528 604h8v4h-8z"/>
<path fill="#f7ff08" d="M228 76h8v4h-8zM248 76h4v4h-4zM220 80h4v4h-4zM252 80h4v4h-4zM216 84h4v4h-4zM256 84h4v4h-4zM212 88h4v4h-4zM204 100h4v4h-4zM196 116h4v4h-4zM260 116h4v4h-4zM192 124h4v4h-4zM188 136h4v4h-4zM292 172h4v4h-4zM308 196h4v4h-4zM328 232h4v4h-4zM340 248h4v4h-4zM340 260h4v4h-4zM340 264h4v4h-4zM332 272h4v4h-4zM328 276h4v4h-4zM316 288h4v4h-4zM312 292h4v4h-4zM296 296h4v4h-4zM280 304h4v4h-4zM472 428h4v4h-4zM468 436h4v4h-4zM460 456h4v4h-4zM460 460h4v4h-4zM464 476h4v4h-4zM464 504h4v4h-4zM464 508h4v4h-4zM464 520h4v4h-4zM464 524h4v4h-4zM464 536h4v4h-4zM476 580h4v4h-4zM480 584h4v4h-4zM504 596h4v4h-4zM516 600h8v4h-8z"/>
<path fill="#ffff00" d="M236 76h12v4h-12zM224 80h4v4h-4zM256 88h4v4h-4zM208 96h4v4h-4zM200 108h4v4h-4zM260 120h4v4h-4zM188 140h4v4h-4zM268 140h4v4h-4zM272 148h4v4h-4zM180 156h4v4h-4zM288 168h4v4h-4zM296 180h4v4h-4zM304 192h4v4h-4zM312 204h4v4h-4zM316 212h4v4h-4zM320 220h4v4h-4zM324 228h4v4h-4zM336 244h4v4h-4zM340 252h4v4h-4zM340 256h4v4h-4zM336 268h4v4h-4zM320 280h4v4h-4zM292 296h4v4h-4zM284 300h4v4h-4zM476 420h4v4h-4zM464 444h4v4h-4zM464 472h4v4h-4zM464 512h4v4h-4zM464 516h4v4h-4zM464 564h4v4h-4zM468 572h4v4h-4zM472 576h4v4h-4zM488 588h4v4h-4zM496 592h4v4h-4zM508 596h4v4h-4zM524 600h4v4h-4z"/>
<path fill="#fff600" d="M228 80h4v4h-4zM248 80h4v4h-4zM220 84h4v4h-4zM252 84h4v4h-4zM216 88h4v4h-4zM212 92h4v4h-4zM256 92h4v4h-4zM256 96h4v4h-4zM204 104h4v4h-4zM200 112h4v4h-4zM196 120h4v4h-4zM260 124h4v4h-4zM192 128h4v4h-4zM264 132h4v4h-4zM188 144h4v4h-4zM184 152h4v4h-4zM276 156h4v4h-4zM280 160h4v4h-4zM284 164h4v4h-4zM300 188h4v4h-4zM328 236h4v4h-4zM332 240h4v4h-4zM336 264h4v4h-4zM332 268h4v4h-4zM328 272h4v4h-4zM324 276h4v4h-4zM316 284h4v4h-4zM308 292h4v4h-4zM288 296h4v4h-4zM476 424h4v4h-4zM472 432h4v4h-4zM468 440h4v4h-4zM464 540h4v4h-4zM464 560h4v4h-4zM480 580h4v4h-4zM484 584h4v4h-4zM492 588h4v4h-4zM500 592h4v4h-4zM512 596h4v4h-4zM528 600h8v4h-8z"/>
<path fill="#ffee00" d="M232 80h16v4h-16zM224 84h4v4h-4zM248 84h4v4h-4zM252 88h4v4h-4zM208 100h4v4h-4zM256 100h4v4h-4zM256 104h4v4h-4zM256 108h4v4h-4zM256 112h4v4h-4zM256 116h4v4h-4zM268 144h4v4h-4zM292 176h4v4h-4zM296 184h4v4h-4zM308 200h4v4h-4zM312 208h4v4h-4zM316 216h4v4h-4zM320 224h4v4h-4zM324 232h4v4h-4zM336 248h4v4h-4zM336 252h4v4h-4zM336 260h4v4h-4zM300 292h8v4h-8zM276 304h4v4h-4zM476 428h4v4h-4zM472 436h4v4h-4zM464 448h4v4h-4zM464 468h4v4h-4zM464 544h4v4h-4zM464 548h4v4h-4zM464 552h4v4h-4zM464 556h4v4h-4zM468 568h4v4h-4zM476 576h4v4h-4zM516 596h4v4h-4zM536 600h4v4h-4z"/>
<path fill="#ffe500" d="M228 84h4v4h-4zM220 88h4v4h-4zM216 92h4v4h-4zM252 92h4v4h-4zM212 96h4v4h-4zM204 108h4v4h-4zM200 116h4v4h-4zM196 124h4v4h-4zM260 128h4v4h-4zM192 132h4v4h-4zM264 136h4v4h-4zM188 148h4v4h-4zM272 152h4v4h-4zM180 160h4v4h-4zM304 196h4v4h-4zM332 244h4v4h-4zM336 256h4v4h-4zM332 264h4v4h-4zM328 268h4v4h-4zM324 272h4v4h-4zM320 276h4v4h-4zM312 288h4v4h-4zM292 292h8v4h-8zM284 296h4v4h-4zM280 300h4v4h-4zM480 420h4v4h-4zM468 444h4v4h-4zM464 452h4v4h-4zM472 572h4v4h-4zM488 584h4v4h-4zM496 588h4v4h-4zM504 592h4v4h-4zM520 596h8v4h-8z"/>
<path fill="#ffdd00" d="M232 84h16v4h-16zM224 88h4v4h-4zM248 88h4v4h-4zM252 96h4v4h-4zM212 100h4v4h-4zM208 104h4v4h-4zM256 120h4v4h-4zM192 136h4v4h-4zM192 140h4v4h-4zM184 156h4v4h-4zM288 172h4v4h-4zM292 180h4v4h-4zM300 192h4v4h-4zM308 204h4v4h-4zM312 212h4v4h-4zM316 220h4v4h-4zM320 228h4v4h-4zM328 240h4v4h-4zM316 280h4v4h-4zM288 292h4v4h-4zM480 424h4v4h-4zM476 432h4v4h-4zM472 440h4v4h-4zM464 456h4v4h-4zM464 464h4v4h-4zM468 480h4v4h-4zM468 484h4v4h-4zM468 488h4v4h-4zM468 492h4v4h-4zM468 496h4v4h-4zM480 576h4v4h-4zM484 580h4v4h-4zM508 592h4v4h-4zM528 596h8v4h-8z"/>
<path fill="#ffd500" d="M228 88h4v4h-4zM244 88h4v4h-4zM220 92h4v4h-4zM248 92h4v4h-4zM216 96h4v4h-4zM252 100h4v4h-4zM252 104h4v4h-4zM252 108h4v4h-4zM204 112h4v4h-4zM252 112h4v4h-4zM200 120h4v4h-4zM264 140h4v4h-4zM268 148h4v4h-4zM180 164h4v4h-4zM284 168h4v4h-4zM296 188h4v4h-4zM316 224h4v4h-4zM324 236h4v4h-4zM332 248h4v4h-4zM332 252h4v4h-4zM332 256h4v4h-4zM332 260h4v4h-4zM328 264h4v4h-4zM324 268h4v4h-4zM320 272h4v4h-4zM312 284h4v4h-4zM308 288h4v4h-4zM272 304h4v4h-4zM480 428h4v4h-4zM476 436h4v4h-4zM464 460h4v4h-4zM468 476h4v4h-4zM468 500h4v4h-4zM468 564h4v4h-4zM476 572h4v4h-4zM492 584h4v4h-4zM500 588h4v4h-4zM512 592h4v4h-4zM536 596h8v4h-8z"/>
<path fill="#ffcc00" d="M232 88h12v4h-12zM224 92h4v4h-4zM248 96h4v4h-4zM216 100h4v4h-4zM212 104h4v4h-4zM208 108h4v4h-4zM204 116h4v4h-4zM252 116h4v4h-4zM256 124h4v4h-4zM196 128h4v4h-4zM260 132h4v4h-4zM192 144h4v4h-4zM188 152h4v4h-4zM272 156h4v4h-4zM276 160h4v4h-4zM280 164h4v4h-4zM288 176h4v4h-4zM292 184h4v4h-4zM304 200h4v4h-4zM308 208h4v4h-4zM312 216h4v4h-4zM320 232h4v4h-4zM328 244h4v4h-4zM316 276h4v4h-4zM292 288h16v4h-16zM280 296h4v4h-4zM276 300h4v4h-4zM484 420h4v4h-4zM472 444h4v4h-4zM468 448h4v4h-4zM468 472h4v4h-4zM468 504h4v4h-4zM468 528h4v4h-4zM468 532h4v4h-4zM472 568h4v4h-4zM488 580h4v4h-4zM504 588h4v4h-4zM516 592h8v4h-8zM544 596h4v4h-4z"/>
<path fill="#ffc400" d="M228 92h4v4h-4zM244 92h4v4h-4zM220 96h4v4h-4zM248 100h4v4h-4zM248 104h4v4h-4zM248 108h4v4h-4zM252 120h4v4h-4zM196 132h4v4h-4zM264 144h4v4h-4zM268 152h4v4h-4zM184 160h4v4h-4zM296 192h4v4h-4zM300 196h4v4h-4zM312 220h4v4h-4zM316 228h4v4h-4zM324 240h4v4h-4zM328 260h4v4h-4zM312 280h4v4h-4zM288 288h4v4h-4zM284 292h4v4h-4zM484 424h4v4h-4zM480 432h4v4h-4zM476 440h4v4h-4zM468 452h4v4h-4zM468 508h4v4h-4zM468 520h4v4h-4zM468 524h4v4h-4zM468 536h4v4h-4zM468 560h4v4h-4zM484 576h4v4h-4zM496 584h4v4h-4zM508 588h4v4h-4zM524 592h12v4h-12z"/>
<path fill="#ffbb00" d="M232 92h12v4h-12zM224 96h4v4h-4zM244 96h4v4h-4zM220 100h4v4h-4zM216 104h4v4h-4zM212 108h4v4h-4zM208 112h4v4h-4zM248 112h4v4h-4zM248 116h4v4h-4zM200 124h4v4h-4zM256 128h4v4h-4zM196 136h4v4h-4zM260 136h4v4h-4zM192 148h4v4h-4zM284 172h4v4h-4zM288 180h4v4h-4zM292 188h4v4h-4zM304 204h4v4h-4zM308 212h4v4h-4zM320 236h4v4h-4zM328 248h4v4h-4zM328 256h4v4h-4zM324 264h4v4h-4zM320 268h4v4h-4zM316 272h4v4h-4zM312 276h4v4h-4zM308 284h4v4h-4zM484 428h4v4h-4zM480 436h4v4h-4zM468 468h4v4h-4zM468 512h4v4h-4zM468 516h4v4h-4zM468 556h4v4h-4zM480 572h4v4h-4zM492 580h4v4h-4zM500 584h4v4h-4zM512 588h4v4h-4zM536 592h12v4h-12z"/>
<path fill="#ffb300" d="M228 96h4v4h-4zM240 96h4v4h-4zM244 100h4v4h-4zM244 104h4v4h-4zM244 108h4v4h-4zM208 116h4v4h-4zM204 120h4v4h-4zM252 124h4v4h-4zM196 140h4v4h-4zM264 148h4v4h-4zM188 156h4v4h-4zM312 224h4v4h-4zM328 252h4v4h-4zM308 280h4v4h-4zM292 284h16v4h-16zM284 288h4v4h-4zM272 300h4v4h-4zM476 444h4v4h-4zM472 448h4v4h-4zM468 456h4v4h-4zM468 464h4v4h-4zM468 540h4v4h-4zM468 544h4v4h-4zM468 548h4v4h-4zM468 552h4v4h-4zM472 564h4v4h-4zM476 568h4v4h-4zM516 588h4v4h-4zM548 592h4v4h-4z"/>
<path fill="#ffaa00" d="M232 96h8v4h-8zM224 100h4v4h-4zM240 100h4v4h-4zM220 104h4v4h-4zM216 108h4v4h-4zM212 112h4v4h-4zM244 112h4v4h-4zM248 120h4v4h-4zM200 128h4v4h-4zM256 132h4v4h-4zM260 140h4v4h-4zM272 160h4v4h-4zM184 164h4v4h-4zM276 164h4v4h-4zM280 168h4v4h-4zM284 176h4v4h-4zM288 184h4v4h-4zM296 196h4v4h-4zM300 200h4v4h-4zM304 208h4v4h-4zM308 216h4v4h-4zM316 232h4v4h-4zM324 244h4v4h-4zM324 260h4v4h-4zM320 264h4v4h-4zM316 268h4v4h-4zM312 272h4v4h-4zM288 284h4v4h-4zM280 292h4v4h-4zM276 296h4v4h-4zM488 424h4v4h-4zM484 432h4v4h-4zM480 440h4v4h-4zM468 460h4v4h-4zM472 480h4v4h-4zM472 484h4v4h-4zM472 488h4v4h-4zM472 492h4v4h-4zM484 572h4v4h-4zM488 576h4v4h-4zM496 580h4v4h-4zM504 584h4v4h-4zM520 588h16v4h-16z"/>
<path fill="#ffa100" d="M228 100h12v4h-12zM224 104h4v4h-4zM240 104h4v4h-4zM240 108h4v4h-4zM240 112h4v4h-4zM244 116h4v4h-4zM208 120h4v4h-4zM204 124h4v4h-4zM200 132h4v4h-4zM196 144h4v4h-4zM192 152h4v4h-4zM268 156h4v4h-4zM188 160h4v4h-4zM292 192h4v4h-4zM308 220h4v4h-4zM312 228h4v4h-4zM320 240h4v4h-4zM324 248h4v4h-4zM324 256h4v4h-4zM308 276h4v4h-4zM296 280h12v4h-12zM488 428h4v4h-4zM484 436h4v4h-4zM472 452h4v4h-4zM472 476h4v4h-4zM472 496h4v4h-4zM472 560h4v4h-4zM480 568h4v4h-4zM508 584h4v4h-4zM536 588h16v4h-16z"/>
<path fill="#ff9900" d="M228 104h12v4h-12zM220 108h4v4h-4zM236 108h4v4h-4zM216 112h4v4h-4zM212 116h4v4h-4zM240 116h4v4h-4zM244 120h4v4h-4zM248 124h4v4h-4zM252 128h4v4h-4zM200 136h4v4h-4zM256 136h4v4h-4zM260 144h4v4h-4zM264 152h4v4h-4zM184 168h4v4h-4zM280 172h4v4h-4zM284 180h4v4h-4zM288 188h4v4h-4zM300 204h4v4h-4zM304 212h4v4h-4zM316 236h4v4h-4zM324 252h4v4h-4zM320 260h4v4h-4zM316 264h4v4h-4zM312 268h4v4h-4zM308 272h4v4h-4zM304 276h4v4h-4zM292 280h4v4h-4zM284 284h4v4h-4zM268 300h4v4h-4zM480 444h4v4h-4zM476 448h4v4h-4zM472 472h4v4h-4zM472 500h4v4h-4zM476 564h4v4h-4zM492 576h4v4h-4zM500 580h4v4h-4zM512 584h4v4h-4zM552 588h4v4h-4z"/>
<path fill="#ff9000" d="M224 108h12v4h-12zM236 112h4v4h-4zM236 116h4v4h-4zM204 128h4v4h-4zM200 140h4v4h-4zM196 148h4v4h-4zM192 156h4v4h-4zM284 184h4v4h-4zM292 196h4v4h-4zM296 200h4v4h-4zM304 216h4v4h-4zM308 224h4v4h-4zM312 232h4v4h-4zM320 244h4v4h-4zM320 256h4v4h-4zM308 268h4v4h-4zM304 272h4v4h-4zM300 276h4v4h-4zM288 280h4v4h-4zM280 288h4v4h-4zM276 292h4v4h-4zM272 296h4v4h-4zM488 432h4v4h-4zM484 440h4v4h-4zM472 456h4v4h-4zM472 468h4v4h-4zM472 504h4v4h-4zM472 528h4v4h-4zM472 532h4v4h-4zM472 556h4v4h-4zM488 572h4v4h-4zM504 580h4v4h-4zM516 584h28v4h-28z"/>
<path fill="#ff8800" d="M220 112h16v4h-16zM216 116h4v4h-4zM212 120h4v4h-4zM240 120h4v4h-4zM208 124h4v4h-4zM244 124h4v4h-4zM248 128h4v4h-4zM204 132h4v4h-4zM252 132h4v4h-4zM256 140h4v4h-4zM260 148h4v4h-4zM268 160h4v4h-4zM188 164h4v4h-4zM272 164h4v4h-4zM276 168h4v4h-4zM280 176h4v4h-4zM288 192h4v4h-4zM300 208h4v4h-4zM316 240h4v4h-4zM320 248h4v4h-4zM320 252h4v4h-4zM316 260h4v4h-4zM312 264h4v4h-4zM300 272h4v4h-4zM296 276h4v4h-4zM492 428h4v4h-4zM488 436h4v4h-4zM480 448h4v4h-4zM476 452h4v4h-4zM472 460h4v4h-4zM472 464h4v4h-4zM472 508h4v4h-4zM472 512h4v4h-4zM472 516h4v4h-4zM472 520h4v4h-4zM472 524h4v4h-4zM472 536h4v4h-4zM472 552h4v4h-4zM484 568h4v4h-4zM496 576h4v4h-4zM508 580h4v4h-4zM544 584h12v4h-12z"/>
<path fill="#ff8000" d="M232 116h4v4h-4zM236 120h4v4h-4zM208 128h4v4h-4zM200 144h4v4h-4zM196 152h4v4h-4zM264 156h4v4h-4zM280 180h4v4h-4zM284 188h4v4h-4zM304 220h4v4h-4zM308 228h4v4h-4zM312 236h4v4h-4zM308 264h4v4h-4zM304 268h4v4h-4zM292 276h4v4h-4zM492 432h4v4h-4zM484 444h4v4h-4zM476 480h4v4h-4zM476 484h4v4h-4zM476 488h4v4h-4zM472 540h4v4h-4zM472 544h4v4h-4zM472 548h4v4h-4zM476 560h4v4h-4zM480 564h4v4h-4zM512 580h4v4h-4z"/>
<path fill="#ff7700" d="M220 116h12v4h-12zM216 120h4v4h-4zM232 120h4v4h-4zM212 124h4v4h-4zM240 124h4v4h-4zM244 128h4v4h-4zM204 136h4v4h-4zM252 136h4v4h-4zM256 144h4v4h-4zM260 152h4v4h-4zM192 160h4v4h-4zM188 168h4v4h-4zM276 172h4v4h-4zM280 184h4v4h-4zM288 196h4v4h-4zM292 200h4v4h-4zM296 204h4v4h-4zM300 212h4v4h-4zM304 224h4v4h-4zM308 232h4v4h-4zM316 244h4v4h-4zM316 256h4v4h-4zM312 260h4v4h-4zM300 268h4v4h-4zM296 272h4v4h-4zM284 280h4v4h-4zM280 284h4v4h-4zM276 288h4v4h-4zM272 292h4v4h-4zM268 296h4v4h-4zM488 440h4v4h-4zM480 452h4v4h-4zM476 456h4v4h-4zM476 472h4v4h-4zM476 476h4v4h-4zM476 492h4v4h-4zM492 572h4v4h-4zM500 576h4v4h-4zM516 580h40v4h-40z"/>
<path fill="#ff6e00" d="M220 120h4v4h-4zM228 120h4v4h-4zM236 124h4v4h-4zM208 132h4v4h-4zM248 132h4v4h-4zM204 140h4v4h-4zM252 140h4v4h-4zM200 148h4v4h-4zM256 148h4v4h-4zM196 156h4v4h-4zM264 160h4v4h-4zM268 164h4v4h-4zM272 168h4v4h-4zM276 176h4v4h-4zM284 192h4v4h-4zM300 216h4v4h-4zM312 240h4v4h-4zM316 248h4v4h-4zM316 252h4v4h-4zM312 256h4v4h-4zM308 260h4v4h-4zM304 264h4v4h-4zM288 276h4v4h-4zM492 436h4v4h-4zM488 444h4v4h-4zM484 448h4v4h-4zM476 460h4v4h-4zM476 464h4v4h-4zM476 468h4v4h-4zM476 496h4v4h-4zM476 556h4v4h-4zM488 568h4v4h-4zM496 572h4v4h-4zM504 576h4v4h-4z"/>
<path fill="#ff6600" d="M224 120h4v4h-4zM216 124h4v4h-4zM232 124h4v4h-4zM212 128h4v4h-4zM240 128h4v4h-4zM208 136h4v4h-4zM204 144h4v4h-4zM260 156h4v4h-4zM192 164h4v4h-4zM188 172h4v4h-4zM276 180h4v4h-4zM280 188h4v4h-4zM292 204h4v4h-4zM296 208h4v4h-4zM300 220h4v4h-4zM304 228h4v4h-4zM308 236h4v4h-4zM312 244h4v4h-4zM312 252h4v4h-4zM300 264h4v4h-4zM296 268h4v4h-4zM292 272h4v4h-4zM496 432h4v4h-4zM492 440h4v4h-4zM480 456h4v4h-4zM476 500h4v4h-4zM480 560h4v4h-4zM484 564h4v4h-4zM508 576h8v4h-8zM536 576h20v4h-20z"/>
<path fill="#ff5d00" d="M220 124h12v4h-12zM216 128h4v4h-4zM236 128h4v4h-4zM212 132h4v4h-4zM244 132h4v4h-4zM248 136h4v4h-4zM252 144h4v4h-4zM200 152h4v4h-4zM256 152h4v4h-4zM272 172h4v4h-4zM276 184h4v4h-4zM284 196h4v4h-4zM288 200h4v4h-4zM296 212h4v4h-4zM304 232h4v4h-4zM312 248h4v4h-4zM308 256h4v4h-4zM304 260h4v4h-4zM284 276h4v4h-4zM280 280h4v4h-4zM276 284h4v4h-4zM268 292h4v4h-4zM496 436h4v4h-4zM488 448h4v4h-4zM484 452h4v4h-4zM476 504h4v4h-4zM476 508h4v4h-4zM476 524h4v4h-4zM476 528h4v4h-4zM476 532h4v4h-4zM476 552h4v4h-4zM492 568h4v4h-4zM500 572h4v4h-4zM516 576h20v4h-20z"/>
<path fill="#ff5500" d="M232 128h4v4h-4zM240 132h4v4h-4zM208 140h4v4h-4zM248 140h4v4h-4zM204 148h4v4h-4zM252 148h4v4h-4zM196 160h4v4h-4zM264 164h4v4h-4zM192 168h4v4h-4zM268 168h4v4h-4zM188 176h4v4h-4zM280 192h4v4h-4zM292 208h4v4h-4zM296 216h4v4h-4zM300 224h4v4h-4zM308 240h4v4h-4zM308 252h4v4h-4zM304 256h4v4h-4zM300 260h4v4h-4zM296 264h4v4h-4zM292 268h4v4h-4zM288 272h4v4h-4zM272 288h4v4h-4zM496 440h4v4h-4zM492 444h4v4h-4zM480 460h4v4h-4zM480 464h4v4h-4zM480 468h4v4h-4zM480 472h4v4h-4zM480 476h4v4h-4zM480 480h4v4h-4zM480 484h4v4h-4zM480 488h4v4h-4zM480 492h4v4h-4zM476 512h4v4h-4zM476 516h4v4h-4zM476 520h4v4h-4zM476 536h4v4h-4zM476 540h4v4h-4zM476 544h4v4h-4zM476 548h4v4h-4zM480 556h4v4h-4zM488 564h4v4h-4zM504 572h8v4h-8zM540 572h16v4h-16z"/>
<path fill="#ff4c00" d="M220 128h12v4h-12zM216 132h4v4h-4zM212 136h4v4h-4zM244 136h4v4h-4zM208 144h4v4h-4zM248 144h4v4h-4zM200 156h4v4h-4zM256 156h4v4h-4zM260 160h4v4h-4zM272 176h4v4h-4zM276 188h4v4h-4zM280 196h4v4h-4zM284 200h4v4h-4zM288 204h4v4h-4zM296 220h4v4h-4zM300 228h4v4h-4zM304 236h4v4h-4zM308 244h4v4h-4zM308 248h4v4h-4zM264 292h4v4h-4zM492 448h4v4h-4zM488 452h4v4h-4zM484 456h4v4h-4zM480 496h4v4h-4zM484 560h4v4h-4zM496 568h4v4h-4zM512 572h28v4h-28z"/>
<path fill="#ff4400" d="M220 132h4v4h-4zM232 132h8v4h-8zM240 136h4v4h-4zM212 140h4v4h-4zM244 140h4v4h-4zM204 152h4v4h-4zM252 152h4v4h-4zM196 164h4v4h-4zM192 172h4v4h-4zM268 172h4v4h-4zM272 180h4v4h-4zM272 184h4v4h-4zM276 192h4v4h-4zM292 212h4v4h-4zM296 224h4v4h-4zM300 232h4v4h-4zM304 240h4v4h-4zM304 252h4v4h-4zM300 256h4v4h-4zM296 260h4v4h-4zM292 264h4v4h-4zM276 280h4v4h-4zM272 284h4v4h-4zM268 288h4v4h-4zM500 440h4v4h-4zM496 444h4v4h-4zM484 460h4v4h-4zM480 500h4v4h-4zM480 552h4v4h-4zM492 564h4v4h-4zM500 568h8v4h-8zM540 568h16v4h-16z"/>
<path fill="#ff3b00" d="M224 132h8v4h-8zM216 136h4v4h-4zM244 144h4v4h-4zM208 148h4v4h-4zM248 148h4v4h-4zM256 160h4v4h-4zM260 164h4v4h-4zM264 168h4v4h-4zM192 176h4v4h-4zM272 188h4v4h-4zM280 200h4v4h-4zM284 204h4v4h-4zM288 208h4v4h-4zM292 216h4v4h-4zM304 244h4v4h-4zM304 248h4v4h-4zM288 268h4v4h-4zM284 272h4v4h-4zM280 276h4v4h-4zM496 448h4v4h-4zM492 452h4v4h-4zM488 456h4v4h-4zM484 464h4v4h-4zM484 468h4v4h-4zM484 472h4v4h-4zM484 476h4v4h-4zM484 480h4v4h-4zM484 484h4v4h-4zM480 504h4v4h-4zM480 548h4v4h-4zM484 556h4v4h-4zM488 560h4v4h-4zM496 564h4v4h-4zM508 568h32v4h-32z"/>
<path fill="#ff3300" d="M220 136h4v4h-4zM232 136h8v4h-8zM216 140h4v4h-4zM240 140h4v4h-4zM212 144h4v4h-4zM248 152h4v4h-4zM204 156h4v4h-4zM252 156h4v4h-4zM200 160h4v4h-4zM196 168h4v4h-4zM268 176h4v4h-4zM192 180h4v4h-4zM272 192h4v4h-4zM276 196h4v4h-4zM288 212h4v4h-4zM292 220h4v4h-4zM296 228h4v4h-4zM300 236h4v4h-4zM300 252h4v4h-4zM296 256h4v4h-4zM292 260h4v4h-4zM264 288h4v4h-4zM500 444h4v4h-4zM488 460h4v4h-4zM484 488h4v4h-4zM484 492h4v4h-4zM480 508h4v4h-4zM480 512h4v4h-4zM480 516h4v4h-4zM480 520h4v4h-4zM480 524h4v4h-4zM480 528h4v4h-4zM480 532h4v4h-4zM480 536h4v4h-4zM480 540h4v4h-4zM480 544h4v4h-4zM500 564h4v4h-4zM536 564h20v4h-20z"/>
<path fill="#ff2a00" d="M224 136h8v4h-8zM236 140h4v4h-4zM240 144h4v4h-4zM244 148h4v4h-4zM208 152h4v4h-4zM252 160h4v4h-4zM256 164h4v4h-4zM260 168h4v4h-4zM196 172h4v4h-4zM264 172h4v4h-4zM268 180h4v4h-4zM192 184h4v4h-4zM268 184h4v4h-4zM276 200h4v4h-4zM280 204h4v4h-4zM284 208h4v4h-4zM288 216h4v4h-4zM292 224h4v4h-4zM296 232h4v4h-4zM300 240h4v4h-4zM300 244h4v4h-4zM300 248h4v4h-4zM288 264h4v4h-4zM284 268h4v4h-4zM272 280h4v4h-4zM268 284h4v4h-4zM500 448h4v4h-4zM496 452h4v4h-4zM492 456h4v4h-4zM488 464h4v4h-4zM484 496h4v4h-4zM484 552h4v4h-4zM488 556h4v4h-4zM492 560h4v4h-4zM548 560h8v4h-8zM504 564h32v4h-32z"/>
<path fill="#ff2200" d="M220 140h16v4h-16zM216 144h4v4h-4zM236 144h4v4h-4zM212 148h4v4h-4zM240 148h4v4h-4zM244 152h4v4h-4zM248 156h4v4h-4zM204 160h4v4h-4zM200 164h4v4h-4zM196 176h4v4h-4zM264 176h4v4h-4zM268 188h4v4h-4zM272 196h4v4h-4zM284 212h4v4h-4zM288 220h4v4h-4zM292 228h4v4h-4zM296 236h4v4h-4zM296 252h4v4h-4zM292 256h4v4h-4zM280 272h4v4h-4zM276 276h4v4h-4zM260 288h4v4h-4zM496 456h4v4h-4zM492 460h4v4h-4zM488 468h4v4h-4zM488 472h4v4h-4zM488 476h4v4h-4zM488 480h4v4h-4zM488 484h4v4h-4zM488 488h4v4h-4zM484 500h4v4h-4zM484 548h4v4h-4zM496 560h4v4h-4zM520 560h28v4h-28z"/>
<path fill="#ff1a00" d="M220 144h4v4h-4zM232 144h4v4h-4zM236 148h4v4h-4zM212 152h4v4h-4zM240 152h4v4h-4zM208 156h4v4h-4zM244 156h4v4h-4zM248 160h4v4h-4zM252 164h4v4h-4zM200 168h4v4h-4zM256 168h4v4h-4zM260 172h4v4h-4zM196 180h4v4h-4zM264 180h4v4h-4zM264 184h4v4h-4zM268 192h4v4h-4zM272 200h4v4h-4zM276 204h4v4h-4zM280 208h4v4h-4zM284 216h4v4h-4zM288 224h4v4h-4zM292 232h4v4h-4zM296 240h4v4h-4zM296 244h4v4h-4zM296 248h4v4h-4zM292 252h4v4h-4zM288 260h4v4h-4zM284 264h4v4h-4zM264 284h4v4h-4zM504 448h4v4h-4zM500 452h4v4h-4zM492 464h4v4h-4zM492 468h4v4h-4zM488 492h4v4h-4zM484 504h4v4h-4zM484 528h4v4h-4zM484 532h4v4h-4zM484 536h4v4h-4zM484 540h4v4h-4zM484 544h4v4h-4zM488 552h4v4h-4zM492 556h4v4h-4zM540 556h12v4h-12zM500 560h20v4h-20z"/>
<path fill="#ff1100" d="M224 144h8v4h-8zM216 148h4v4h-4zM232 148h4v4h-4zM236 152h4v4h-4zM240 156h4v4h-4zM208 160h4v4h-4zM244 160h4v4h-4zM204 164h4v4h-4zM248 164h4v4h-4zM252 168h4v4h-4zM200 172h4v4h-4zM260 176h4v4h-4zM196 184h4v4h-4zM264 188h4v4h-4zM264 192h4v4h-4zM268 196h4v4h-4zM280 212h4v4h-4zM284 220h4v4h-4zM288 228h4v4h-4zM292 236h4v4h-4zM292 240h4v4h-4zM288 256h4v4h-4zM280 268h4v4h-4zM276 272h4v4h-4zM272 276h4v4h-4zM268 280h4v4h-4zM504 452h4v4h-4zM500 456h4v4h-4zM496 460h4v4h-4zM496 464h4v4h-4zM492 472h4v4h-4zM492 476h4v4h-4zM492 480h4v4h-4zM492 484h4v4h-4zM492 488h4v4h-4zM488 496h4v4h-4zM484 508h4v4h-4zM484 512h4v4h-4zM484 516h4v4h-4zM484 520h4v4h-4zM484 524h4v4h-4zM488 548h4v4h-4zM544 552h8v4h-8zM496 556h4v4h-4zM516 556h24v4h-24z"/>
<path fill="#ff0800" d="M220 148h12v4h-12zM216 152h4v4h-4zM232 152h4v4h-4zM212 156h4v4h-4zM236 156h4v4h-4zM240 160h4v4h-4zM244 164h4v4h-4zM204 168h4v4h-4zM248 168h4v4h-4zM256 172h4v4h-4zM200 176h4v4h-4zM200 180h4v4h-4zM260 180h4v4h-4zM260 184h4v4h-4zM196 188h4v4h-4zM260 188h4v4h-4zM264 196h4v4h-4zM268 200h4v4h-4zM272 204h4v4h-4zM276 208h4v4h-4zM280 216h4v4h-4zM284 224h4v4h-4zM288 232h4v4h-4zM288 236h4v4h-4zM292 244h4v4h-4zM292 248h4v4h-4zM288 252h4v4h-4zM284 260h4v4h-4zM260 284h4v4h-4zM508 452h4v4h-4zM504 456h4v4h-4zM500 460h4v4h-4zM496 468h4v4h-4zM496 472h4v4h-4zM496 476h4v4h-4zM496 480h4v4h-4zM496 484h4v4h-4zM492 492h4v4h-4zM488 500h4v4h-4zM488 540h4v4h-4zM488 544h4v4h-4zM540 548h12v4h-12zM492 552h4v4h-4zM528 552h16v4h-16zM500 556h16v4h-16z"/>
<path fill="#ff0000" d="M220 152h12v4h-12zM216 156h4v4h-4zM232 156h4v4h-4zM212 160h4v4h-4zM236 160h4v4h-4zM208 164h4v4h-4zM240 164h4v4h-4zM244 168h4v4h-4zM204 172h4v4h-4zM248 172h8v4h-8zM204 176h4v4h-4zM252 176h8v4h-8zM256 180h4v4h-4zM200 184h4v4h-4zM256 184h4v4h-4zM256 188h4v4h-4zM260 192h4v4h-4zM264 200h4v4h-4zM268 204h4v4h-4zM272 208h4v4h-4zM276 212h4v4h-4zM280 220h4v4h-4zM284 228h4v4h-4zM284 232h4v4h-4zM288 240h4v4h-4zM288 244h4v4h-4zM288 248h4v4h-4zM284 256h4v4h-4zM280 264h4v4h-4zM276 268h4v4h-4zM268 276h4v4h-4zM264 280h4v4h-4zM508 456h4v4h-4zM504 460h4v4h-4zM500 464h4v4h-4zM500 468h4v4h-4zM500 472h4v4h-4zM500 476h4v4h-4zM500 480h8v4h-8zM500 484h8v4h-8zM496 488h4v4h-4zM496 492h4v4h-4zM492 496h4v4h-4zM488 504h4v4h-4zM488 508h4v4h-4zM488 528h4v4h-4zM488 532h4v4h-4zM488 536h4v4h-4zM536 540h12v4h-12zM536 544h12v4h-12zM492 548h4v4h-4zM532 548h8v4h-8zM496 552h4v4h-4zM516 552h12v4h-12z"/>
<path fill="#f60000" d="M220 156h12v4h-12zM216 160h4v4h-4zM228 160h8v4h-8zM212 164h4v4h-4zM236 164h4v4h-4zM208 168h4v4h-4zM236 168h8v4h-8zM208 172h4v4h-4zM240 172h8v4h-8zM240 176h12v4h-12zM204 180h4v4h-4zM244 180h12v4h-12zM204 184h4v4h-4zM248 184h8v4h-8zM200 188h4v4h-4zM252 188h4v4h-4zM200 192h4v4h-4zM256 192h4v4h-4zM260 196h4v4h-4zM264 204h4v4h-4zM268 208h4v4h-4zM272 212h4v4h-4zM276 216h4v4h-4zM280 224h4v4h-4zM284 236h4v4h-4zM284 240h4v4h-4zM284 244h4v4h-4zM284 248h4v4h-4zM284 252h4v4h-4zM280 260h4v4h-4zM272 272h4v4h-4zM260 280h4v4h-4zM508 460h4v4h-4zM504 464h8v4h-8zM504 468h4v4h-4zM504 472h8v4h-8zM504 476h8v4h-8zM508 480h4v4h-4zM508 484h4v4h-4zM500 488h8v4h-8zM500 492h4v4h-4zM496 496h4v4h-4zM492 500h4v4h-4zM488 512h4v4h-4zM488 516h4v4h-4zM488 520h4v4h-4zM488 524h4v4h-4zM536 532h8v4h-8zM492 536h4v4h-4zM532 536h16v4h-16zM492 540h4v4h-4zM532 540h4v4h-4zM492 544h4v4h-4zM528 544h8v4h-8zM496 548h4v4h-4zM524 548h8v4h-8zM500 552h16v4h-16z"/>
<path fill="#ee0000" d="M220 160h8v4h-8zM216 164h20v4h-20zM212 168h24v4h-24zM212 172h4v4h-4zM228 172h12v4h-12zM208 176h8v4h-8zM232 176h8v4h-8zM208 180h4v4h-4zM232 180h12v4h-12zM236 184h12v4h-12zM204 188h4v4h-4zM244 188h8v4h-8zM248 192h8v4h-8zM200 196h4v4h-4zM256 196h4v4h-4zM260 200h4v4h-4zM276 220h4v4h-4zM280 228h4v4h-4zM280 232h4v4h-4zM280 236h4v4h-4zM280 252h4v4h-4zM280 256h4v4h-4zM276 264h4v4h-4zM272 268h4v4h-4zM268 272h4v4h-4zM264 276h4v4h-4zM256 280h4v4h-4zM512 460h4v4h-4zM512 464h4v4h-4zM508 468h8v4h-8zM512 472h4v4h-4zM512 476h4v4h-4zM512 480h4v4h-4zM512 484h4v4h-4zM508 488h8v4h-8zM504 492h4v4h-4zM500 496h4v4h-4zM496 500h4v4h-4zM492 504h4v4h-4zM492 508h4v4h-4zM536 524h8v4h-8zM492 528h4v4h-4zM532 528h12v4h-12zM492 532h4v4h-4zM528 532h8v4h-8zM528 536h4v4h-4zM528 540h4v4h-4zM496 544h4v4h-4zM524 544h4v4h-4zM500 548h4v4h-4zM516 548h8v4h-8z"/>
<path fill="#e50000" d="M216 172h12v4h-12zM216 176h16v4h-16zM212 180h20v4h-20zM208 184h8v4h-8zM224 184h12v4h-12zM208 188h4v4h-4zM232 188h12v4h-12zM204 192h4v4h-4zM240 192h8v4h-8zM248 196h8v4h-8zM252 200h8v4h-8zM260 204h4v4h-4zM264 208h4v4h-4zM268 212h4v4h-4zM272 216h4v4h-4zM272 220h4v4h-4zM276 224h4v4h-4zM276 228h4v4h-4zM280 240h4v4h-4zM280 244h4v4h-4zM280 248h4v4h-4zM276 260h4v4h-4zM260 276h4v4h-4zM516 464h4v4h-4zM516 468h4v4h-4zM516 472h4v4h-4zM516 476h4v4h-4zM516 480h8v4h-8zM516 484h4v4h-4zM516 488h4v4h-4zM508 492h8v4h-8zM504 496h4v4h-4zM500 500h4v4h-4zM496 504h4v4h-4zM492 512h4v4h-4zM492 516h4v4h-4zM536 516h4v4h-4zM492 520h4v4h-4zM528 520h12v4h-12zM492 524h4v4h-4zM528 524h8v4h-8zM524 528h8v4h-8zM496 532h4v4h-4zM524 532h4v4h-4zM496 536h4v4h-4zM524 536h4v4h-4zM496 540h4v4h-4zM524 540h4v4h-4zM500 544h4v4h-4zM520 544h4v4h-4zM504 548h12v4h-12z"/>
<path fill="#dd0000" d="M216 184h8v4h-8zM212 188h20v4h-20zM208 192h4v4h-4zM232 192h8v4h-8zM204 196h4v4h-4zM244 196h4v4h-4zM248 200h4v4h-4zM252 204h8v4h-8zM260 208h4v4h-4zM264 212h4v4h-4zM268 216h4v4h-4zM272 224h4v4h-4zM276 232h4v4h-4zM276 236h4v4h-4zM276 240h4v4h-4zM276 244h4v4h-4zM276 248h4v4h-4zM276 252h4v4h-4zM276 256h4v4h-4zM272 264h4v4h-4zM268 268h4v4h-4zM264 272h4v4h-4zM256 276h4v4h-4zM520 472h4v4h-4zM520 476h8v4h-8zM524 480h4v4h-4zM520 484h8v4h-8zM520 488h8v4h-8zM516 492h8v4h-8zM508 496h12v4h-12zM504 500h8v4h-8zM500 504h4v4h-4zM496 508h4v4h-4zM532 508h4v4h-4zM496 512h4v4h-4zM528 512h12v4h-12zM524 516h12v4h-12zM496 520h4v4h-4zM524 520h4v4h-4zM496 524h4v4h-4zM520 524h8v4h-8zM496 528h4v4h-4zM520 528h4v4h-4zM500 532h4v4h-4zM520 532h4v4h-4zM500 536h4v4h-4zM520 536h4v4h-4zM500 540h8v4h-8zM520 540h4v4h-4zM504 544h16v4h-16z"/>
<path fill="#d50000" d="M212 192h20v4h-20zM208 196h4v4h-4zM236 196h8v4h-8zM204 200h4v4h-4zM244 200h4v4h-4zM248 204h4v4h-4zM256 208h4v4h-4zM260 212h4v4h-4zM264 216h4v4h-4zM268 220h4v4h-4zM272 228h4v4h-4zM272 232h4v4h-4zM272 236h4v4h-4zM272 240h4v4h-4zM272 256h4v4h-4zM272 260h4v4h-4zM268 264h4v4h-4zM264 268h4v4h-4zM260 272h4v4h-4zM252 276h4v4h-4zM528 484h4v4h-4zM528 488h4v4h-4zM524 492h8v4h-8zM520 496h16v4h-16zM512 500h24v4h-24zM504 504h32v4h-32zM500 508h4v4h-4zM520 508h12v4h-12zM500 512h4v4h-4zM520 512h8v4h-8zM496 516h4v4h-4zM520 516h4v4h-4zM500 520h4v4h-4zM516 520h8v4h-8zM500 524h4v4h-4zM516 524h4v4h-4zM500 528h8v4h-8zM512 528h8v4h-8zM504 532h16v4h-16zM504 536h16v4h-16zM508 540h12v4h-12z"/>
<path fill="#cc0000" d="M212 196h24v4h-24zM208 200h4v4h-4zM236 200h8v4h-8zM244 204h4v4h-4zM252 208h4v4h-4zM256 212h4v4h-4zM260 216h4v4h-4zM264 220h4v4h-4zM268 224h4v4h-4zM268 228h4v4h-4zM272 244h4v4h-4zM272 248h4v4h-4zM272 252h4v4h-4zM268 260h4v4h-4zM256 272h4v4h-4zM504 508h16v4h-16zM504 512h16v4h-16zM500 516h20v4h-20zM504 520h12v4h-12zM504 524h12v4h-12zM508 528h4v4h-4z"/>
<path fill="#c40000" d="M212 200h24v4h-24zM208 204h4v4h-4zM240 204h4v4h-4zM244 208h8v4h-8zM252 212h4v4h-4zM256 216h4v4h-4zM260 220h4v4h-4zM264 224h4v4h-4zM268 232h4v4h-4zM268 236h4v4h-4zM268 240h4v4h-4zM268 244h4v4h-4zM268 248h4v4h-4zM268 252h4v4h-4zM268 256h4v4h-4zM264 264h4v4h-4zM260 268h4v4h-4zM252 272h4v4h-4z"/>
<path fill="#bb0000" d="M212 204h8v4h-8zM232 204h8v4h-8zM208 208h4v4h-4zM240 208h4v4h-4zM248 212h4v4h-4zM252 216h4v4h-4zM256 220h4v4h-4zM260 224h4v4h-4zM264 228h4v4h-4zM264 256h4v4h-4zM264 260h4v4h-4zM260 264h4v4h-4zM252 268h8v4h-8z"/>
<path fill="#b30000" d="M220 204h12v4h-12zM212 208h8v4h-8zM232 208h8v4h-8zM212 212h4v4h-4zM244 212h4v4h-4zM248 216h4v4h-4zM252 220h4v4h-4zM256 224h4v4h-4zM260 228h4v4h-4zM264 232h4v4h-4zM264 236h4v4h-4zM264 240h4v4h-4zM264 244h4v4h-4zM264 248h4v4h-4zM264 252h4v4h-4zM260 256h4v4h-4zM260 260h4v4h-4zM252 264h8v4h-8zM248 268h4v4h-4z"/>
<path fill="#aa0000" d="M220 208h12v4h-12zM216 212h4v4h-4zM236 212h8v4h-8zM244 216h4v4h-4zM248 220h4v4h-4zM252 224h4v4h-4zM256 228h4v4h-4zM260 232h4v4h-4zM260 236h4v4h-4zM260 240h4v4h-4zM260 244h4v4h-4zM260 248h4v4h-4zM260 252h4v4h-4zM256 256h4v4h-4zM252 260h8v4h-8zM244 264h8v4h-8z"/>
<path fill="#a10000" d="M220 212h16v4h-16zM216 216h4v4h-4zM236 216h8v4h-8zM244 220h4v4h-4zM248 224h4v4h-4zM252 228h4v4h-4zM256 232h4v4h-4zM256 236h4v4h-4zM256 244h4v4h-4zM256 248h4v4h-4zM256 252h4v4h-4zM252 256h4v4h-4zM244 260h8v4h-8z"/>
<path fill="#990000" d="M220 216h16v4h-16zM216 220h12v4h-12zM236 220h8v4h-8zM244 224h4v4h-4zM248 228h4v4h-4zM248 232h8v4h-8zM252 236h4v4h-4zM252 240h8v4h-8zM252 244h4v4h-4zM248 248h8v4h-8zM244 252h12v4h-12zM240 256h12v4h-12z"/>
<path fill="#900000" d="M228 220h8v4h-8zM220 224h24v4h-24zM224 228h8v4h-8zM236 228h12v4h-12zM224 232h4v4h-4zM240 232h8v4h-8zM228 236h4v4h-4zM240 236h12v4h-12zM232 240h20v4h-20zM232 244h20v4h-20zM236 248h12v4h-12zM240 252h4v4h-4z"/>
<path fill="#880000" d="M232 228h4v4h-4zM228 232h12v4h-12zM232 236h8v4h-8z"/></g></g>
<path d="M136.7 82.2L136.9 84.6M156.8 82.2L155.7 91.1M156.8 102.3L154.5 110.6M176.8 62.1L176.4 69.5M176.8 82.2L175.7 91.1M176.8 102.3L173.4 112.9M176.8 122.4L175.1 137.1M176.8 142.4L171.5 155.6M196.9 42.1L194.6 45.4M196.9 62.1L195.1 67.2M196.9 82.2L193.4 90.3M196.9 102.3L191.9 112.4M196.9 122.4L190.6 134.4M196.9 142.4L192.9 156.9M196.9 162.5L189.0 175.3M196.9 182.6L194.2 190.3M217.0 42.1L215.0 43.5M217.0 62.1L212.9 64.4M217.0 82.2L211.5 87.3M217.0 102.3L211.6 108.6M217.0 122.4L211.8 127.9M217.0 142.4L211.9 148.4M217.0 162.5L215.0 164.6M217.0 202.7L214.5 203.8M237.0 82.2L229.7 83.0M237.0 102.3L234.5 101.3M237.0 122.4L231.1 118.4M237.0 142.4L233.5 139.6M237.0 162.5L235.7 161.1M237.0 202.7L233.9 201.4M257.1 102.3L256.1 93.0M257.1 122.4L251.4 110.8M257.1 142.4L251.7 130.5M257.1 162.5L251.2 155.7M257.1 202.7L254.9 200.4M257.1 222.8L254.0 220.2M257.1 262.9L259.0 261.3M277.2 122.4L275.8 108.7M277.2 142.4L271.1 128.7M277.2 162.5L266.5 152.0M277.2 182.6L274.5 172.9M277.2 202.7L272.4 197.0M277.2 222.8L275.0 218.4M277.2 242.8L276.8 239.1M277.2 262.9L279.8 257.7M277.2 283.0L287.2 272.6M277.2 303.1L288.8 293.6M297.3 162.5L285.7 152.9M297.3 182.6L290.1 169.6M297.3 202.7L288.2 193.0M297.3 222.8L294.0 214.5M297.3 242.8L295.6 237.7M297.3 262.9L303.5 256.4M297.3 283.0L304.9 282.4M297.3 303.1L310.3 299.3M297.3 323.1L307.0 316.5M317.4 182.6L308.2 170.7M317.4 202.7L308.9 190.8M317.4 222.8L311.3 210.7M317.4 242.8L311.4 233.7M317.4 262.9L322.9 257.5M317.4 283.0L324.0 271.9M317.4 303.1L330.8 296.4M317.4 323.1L328.0 318.8M317.4 343.2L327.2 338.1M317.4 363.3L319.8 359.5M337.4 202.7L329.4 195.0M337.4 222.8L332.9 214.5M337.4 242.8L330.3 233.4M337.4 262.9L340.5 255.6M337.4 283.0L345.4 278.9M337.4 303.1L348.4 298.9M337.4 323.1L346.4 320.3M337.4 343.2L347.2 340.8M337.4 363.3L339.1 361.5M357.5 242.8L351.9 237.3M357.5 262.9L358.5 256.5M357.5 283.0L363.9 280.2M357.5 303.1L367.1 300.3M357.5 323.1L365.8 321.9M357.5 343.2L366.8 342.4M357.5 363.3L359.1 363.2M377.6 262.9L379.0 256.0M377.6 283.0L380.6 274.6M377.6 303.1L383.7 299.0M377.6 323.1L384.7 318.0M377.6 343.2L385.2 342.1M377.6 383.3L376.1 383.9M377.6 403.4L375.9 404.1M397.6 283.0L399.3 278.8M397.6 303.1L404.0 299.2M397.6 323.1L402.5 321.9M397.6 343.2L400.9 343.7M397.6 363.3L398.7 365.6M397.6 383.3L396.0 385.7M397.6 403.4L395.8 405.1M417.7 323.1L419.9 323.4M417.7 343.2L418.6 344.9M417.7 363.3L418.3 366.4M417.7 383.3L416.6 386.6M417.7 403.4L416.3 405.9M417.7 423.5L420.0 429.6M417.7 443.6L419.2 450.4M417.7 463.6L420.7 470.7M417.7 483.7L419.6 488.4M417.7 503.8L420.4 506.9M417.7 523.9L419.8 526.3M437.8 363.3L437.8 365.0M437.8 383.3L436.7 385.8M437.8 403.4L436.8 405.9M437.8 423.5L437.3 435.5M437.8 443.6L437.6 458.6M437.8 463.6L443.0 477.7M437.8 483.7L442.5 498.0M437.8 503.8L439.5 518.7M437.8 523.9L440.0 538.7M437.8 543.9L436.2 558.9M457.9 383.3L456.7 385.2M457.9 403.4L457.1 405.5M457.9 423.5L454.9 434.9M457.9 443.6L455.0 456.7M457.9 463.6L460.5 478.4M457.9 483.7L460.0 498.6M457.9 503.8L457.3 518.8M457.9 523.9L459.7 538.8M457.9 543.9L456.4 558.9M457.9 564.0L457.8 579.0M457.9 584.1L462.1 598.5M477.9 423.5L474.7 432.7M477.9 443.6L470.7 452.6M477.9 463.6L476.6 472.9M477.9 483.7L478.6 498.7M477.9 503.8L475.0 518.5M477.9 523.9L478.8 538.9M477.9 543.9L477.7 558.0M477.9 564.0L487.4 574.3M477.9 584.1L485.9 590.3M477.9 604.2L486.1 609.6M498.0 463.6L495.6 467.5M498.0 483.7L497.7 485.6M498.0 503.8L495.7 507.0M498.0 523.9L498.8 526.9M498.0 543.9L499.2 546.8M498.0 564.0L506.0 567.5M498.0 584.1L510.0 589.8M498.0 604.2L507.5 608.1M518.1 543.9L519.8 542.8M518.1 564.0L522.4 563.2M518.1 584.1L528.4 585.8M518.1 604.2L528.6 606.9M538.2 564.0L542.9 563.6M538.2 584.1L546.0 584.1" stroke="#000" stroke-width="3.7" stroke-linecap="round" fill="none"/>
<g fill="#000"><circle cx="217.0" cy="182.6" r="1.7"/><circle cx="237.0" cy="182.6" r="1.7"/><circle cx="237.0" cy="222.8" r="1.7"/><circle cx="237.0" cy="242.8" r="1.7"/><circle cx="257.1" cy="182.6" r="1.7"/><circle cx="257.1" cy="242.8" r="1.7"/><circle cx="337.4" cy="383.3" r="1.7"/><circle cx="337.4" cy="403.4" r="1.7"/><circle cx="357.5" cy="383.3" r="1.7"/><circle cx="357.5" cy="403.4" r="1.7"/><circle cx="357.5" cy="423.5" r="1.7"/><circle cx="377.6" cy="363.3" r="1.7"/><circle cx="377.6" cy="423.5" r="1.7"/><circle cx="377.6" cy="443.6" r="1.7"/><circle cx="377.6" cy="463.6" r="1.7"/><circle cx="397.6" cy="423.5" r="1.7"/><circle cx="397.6" cy="443.6" r="1.7"/><circle cx="397.6" cy="463.6" r="1.7"/><circle cx="397.6" cy="483.7" r="1.7"/><circle cx="518.1" cy="483.7" r="1.7"/><circle cx="518.1" cy="503.8" r="1.7"/><circle cx="518.1" cy="523.9" r="1.7"/><circle cx="538.2" cy="543.9" r="1.7"/></g>
<polyline points="133.0,83.0 165.0,60.0 190.0,45.0 203.0,40.0 217.0,38.0 262.0,98.0 308.0,163.4 357.0,228.0 407.0,291.0 440.0,351.0 476.0,418.4 523.0,485.0 547.0,560.0 550.0,566.0 549.5,590.0 536.0,596.0 511.5,610.0 485.0,624.0 474.0,616.0 348.0,423.0 346.0,418.4 318.7,370.0 163.0,130.0 133.0,83.0" fill="none" stroke="#000" stroke-width="3" stroke-linejoin="round"/>
<polyline points="342.0,418.4 479.0,418.4" fill="none" stroke="#000" stroke-width="3"/>
<path d="M123.0 76.0L142.0 76.0L132.5 93.0ZM163.5 142.5L182.5 142.5L173.0 159.5ZM204.0 212.2L223.0 212.2L213.5 229.2ZM251.5 278.0L270.5 278.0L261.0 295.0ZM294.5 348.4L313.5 348.4L304.0 365.4ZM157.5 54.0L176.5 54.0L167.0 71.0ZM185.5 39.0L204.5 39.0L195.0 56.0ZM193.5 33.0L212.5 33.0L203.0 50.0ZM204.0 26.5L223.0 26.5L213.5 43.5ZM252.5 91.0L271.5 91.0L262.0 108.0ZM298.5 156.4L317.5 156.4L308.0 173.4ZM347.5 221.4L366.5 221.4L357.0 238.4ZM399.5 283.4L418.5 283.4L409.0 300.4ZM431.1 344.0L450.1 344.0L440.6 361.0ZM337.0 415.0L356.0 415.0L346.5 432.0ZM378.0 415.0L397.0 415.0L387.5 432.0ZM418.2 415.0L437.2 415.0L427.7 432.0ZM434.4 415.0L453.4 415.0L443.9 432.0ZM442.8 415.0L461.8 415.0L452.3 432.0ZM467.5 412.0L486.5 412.0L477.0 429.0ZM471.5 411.0L490.5 411.0L481.0 428.0ZM382.1 483.8L401.1 483.8L391.6 500.8ZM429.2 550.3L448.2 550.3L438.7 567.3ZM475.5 618.0L494.5 618.0L485.0 635.0ZM515.1 479.0L534.1 479.0L524.6 496.0ZM540.5 559.0L559.5 559.0L550.0 576.0ZM540.5 569.0L559.5 569.0L550.0 586.0ZM540.0 583.0L559.0 583.0L549.5 600.0ZM526.5 589.0L545.5 589.0L536.0 606.0ZM502.0 603.0L521.0 603.0L511.5 620.0Z" fill="#fff" stroke="#222" stroke-width="1.5" stroke-linejoin="miter"/>
<polyline points="282.3,13.0 287.6,17.0 292.0,23.2 292.0,27.6 296.4,32.8 300.7,41.6 299.9,47.8 305.1,54.8 311.3,68.0 309.5,71.5 314.8,76.8 317.4,82.9 322.7,88.2 331.5,94.3 340.3,103.1 348.2,111.9 351.7,118.9 352.6,128.6 357.8,133.0 361.6,135.3 366.9,142.3 367.8,149.3 366.0,156.4 370.4,162.5 375.7,170.4 370.4,172.2 377.4,177.4 378.3,186.2 384.5,193.2 392.4,202.0 396.8,209.0 397.6,219.6 403.8,230.1 408.2,238.9 409.0,249.5 412.5,257.0 411.6,262.3 417.8,269.3 420.4,276.4 427.4,286.9 432.7,295.7 439.7,306.2 446.8,315.0 449.4,322.0 452.9,329.0 455.5,336.1 458.2,344.9 459.0,351.0 453.8,355.4 457.3,358.0 467.8,362.4 476.4,370.0 484.3,377.0 490.4,385.8 492.2,394.6 494.8,401.6 494.8,410.4 495.7,419.2 502.7,422.7 506.2,429.7 513.2,433.2 520.3,436.8 523.8,443.8 523.8,454.3 530.8,457.8 536.1,464.9 539.6,471.9 544.9,478.9 548.4,489.5 548.3,495.3 556.2,504.1 565.0,514.6 571.2,525.1 572.0,535.7 570.3,544.5 567.6,556.8 566.8,563.8 560.6,565.5 565.0,574.3 565.9,584.9 566.8,591.9 573.8,598.9 576.0,600.5 583.3,609.7 590.7,620.7 598.0,633.5 612.7,642.7 623.7,648.2 633.0,657.0" fill="none" stroke="#000" stroke-width="2.8" stroke-linejoin="round"/>
<g font-family="Liberation Sans" font-weight="bold" fill="#000" stroke="#000" stroke-width="0.6"><text x="319.0" y="73.0" font-size="24.5" textLength="169.0" lengthAdjust="spacingAndGlyphs">MALABRIGO</text><text x="389.4" y="179.6" font-size="24.5" textLength="146.6" lengthAdjust="spacingAndGlyphs">CHIMBOTE</text><text x="459.7" y="350.3" font-size="24.5" textLength="121.2" lengthAdjust="spacingAndGlyphs">HUACHO</text><text x="500.0" y="419.0" font-size="24.5" textLength="108.0" lengthAdjust="spacingAndGlyphs">CALLAO</text><text x="573.0" y="555.4" font-size="24.5" textLength="83.6" lengthAdjust="spacingAndGlyphs">PISCO</text><text x="609.2" y="65.4" font-size="32.5">B</text></g>
<rect x="106.6" y="14.0" width="562.1" height="642.4" fill="none" stroke="#8a8a8a" stroke-width="2"/><path d="M267.2 656.4v-7M267.2 14.0v7M427.8 656.4v-7M427.8 14.0v7M588.4 656.4v-7M588.4 14.0v7M106.6 94.3h7M668.7 94.3h-7M106.6 174.6h7M668.7 174.6h-7M106.6 254.9h7M668.7 254.9h-7M106.6 335.2h7M668.7 335.2h-7M106.6 415.5h7M668.7 415.5h-7M106.6 495.8h7M668.7 495.8h-7M106.6 576.1h7M668.7 576.1h-7" stroke="#555" stroke-width="1.6" fill="none"/></g></g>
<rect x="106.6" y="14.0" width="562.1" height="642.4" fill="none" stroke="#8a8a8a" stroke-width="2"/><path d="M267.2 656.4v-7M267.2 14.0v7M427.8 656.4v-7M427.8 14.0v7M588.4 656.4v-7M588.4 14.0v7M106.6 94.3h7M668.7 94.3h-7M106.6 174.6h7M668.7 174.6h-7M106.6 254.9h7M668.7 254.9h-7M106.6 335.2h7M668.7 335.2h-7M106.6 415.5h7M668.7 415.5h-7M106.6 495.8h7M668.7 495.8h-7M106.6 576.1h7M668.7 576.1h-7" stroke="#555" stroke-width="1.6" fill="none"/>
<g transform="translate(607.0,0)"><rect x="106.6" y="14.0" width="562.1" height="642.4" fill="none" stroke="#8a8a8a" stroke-width="2"/><path d="M267.2 656.4v-7M267.2 14.0v7M427.8 656.4v-7M427.8 14.0v7M588.4 656.4v-7M588.4 14.0v7M106.6 94.3h7M668.7 94.3h-7M106.6 174.6h7M668.7 174.6h-7M106.6 254.9h7M668.7 254.9h-7M106.6 335.2h7M668.7 335.2h-7M106.6 415.5h7M668.7 415.5h-7M106.6 495.8h7M668.7 495.8h-7M106.6 576.1h7M668.7 576.1h-7" stroke="#555" stroke-width="1.6" fill="none"/></g>
<g font-family="Liberation Sans" font-size="30" fill="#262626"><text x="106.6" y="695.5" text-anchor="middle">-82</text><text x="267.2" y="695.5" text-anchor="middle">-80</text><text x="427.8" y="695.5" text-anchor="middle">-78</text><text x="588.4" y="695.5" text-anchor="middle">-76</text></g>
<g font-family="Liberation Sans" font-size="30" fill="#262626"><text x="713.6" y="695.5" text-anchor="middle">-82</text><text x="874.2" y="695.5" text-anchor="middle">-80</text><text x="1034.8" y="695.5" text-anchor="middle">-78</text><text x="1195.4" y="695.5" text-anchor="middle">-76</text></g>
<g font-family="Liberation Sans" font-size="30" fill="#262626"><text x="93.4" y="24.7" text-anchor="end">-7</text><text x="93.4" y="105.0" text-anchor="end">-8</text><text x="93.4" y="185.3" text-anchor="end">-9</text><text x="93.4" y="265.6" text-anchor="end">-10</text><text x="93.4" y="345.9" text-anchor="end">-11</text><text x="93.4" y="426.2" text-anchor="end">-12</text><text x="93.4" y="506.5" text-anchor="end">-13</text><text x="93.4" y="586.8" text-anchor="end">-14</text><text x="93.4" y="667.1" text-anchor="end">-15</text></g>
<text transform="translate(32,334.5) rotate(-90)" text-anchor="middle" font-family="Liberation Sans" font-size="40" fill="#262626" textLength="227" lengthAdjust="spacingAndGlyphs">Latitude (°N)</text>
<text x="694.5" y="727.4" text-anchor="middle" font-family="Liberation Sans" font-size="38.5" fill="#262626" textLength="271" lengthAdjust="spacingAndGlyphs">Longitude (°W)</text>
<g font-family="Liberation Sans" font-weight="bold" fill="#000"><text x="1063.1" y="129.1" font-size="22" textLength="95.4" lengthAdjust="spacingAndGlyphs">50 cm s</text><text x="1161.3" y="118.4" font-size="18" textLength="18" lengthAdjust="spacingAndGlyphs">-1</text></g>
<path d="M1106 104H1126" stroke="#000" stroke-width="3.2"/><path d="M1126 100.8L1135 104L1126 107.2Z" fill="#000" stroke="#000" stroke-width="0.8"/>
<linearGradient id="jet" x1="0" y1="1" x2="0" y2="0"><stop offset="0" stop-color="#000080"/><stop offset=".125" stop-color="#0000ff"/><stop offset=".375" stop-color="#00ffff"/><stop offset=".625" stop-color="#ffff00"/><stop offset=".875" stop-color="#ff0000"/><stop offset="1" stop-color="#800000"/></linearGradient>
<rect x="1295.5" y="100.0" width="42.9" height="471.0" fill="url(#jet)" stroke="#333" stroke-width="1"/>
<path d="M1338.4 540.7h-4M1338.4 462.1h-4M1338.4 383.5h-4M1338.4 304.9h-4M1338.4 226.3h-4M1338.4 147.7h-4" stroke="#222" stroke-width="1.5"/>
<g font-family="Liberation Sans" font-size="26.4" fill="#262626"><text x="1350" y="549.1">2</text><text x="1350" y="470.5">3</text><text x="1350" y="391.9">4</text><text x="1350" y="313.3">5</text><text x="1350" y="234.7">6</text><text x="1350" y="156.1">7</text></g>
<text transform="translate(1407,335) rotate(-90)" text-anchor="middle" font-family="Liberation Sans" font-size="38" fill="#262626" textLength="185" lengthAdjust="spacingAndGlyphs">SSHa (cm)</text>
</svg></body></html>
